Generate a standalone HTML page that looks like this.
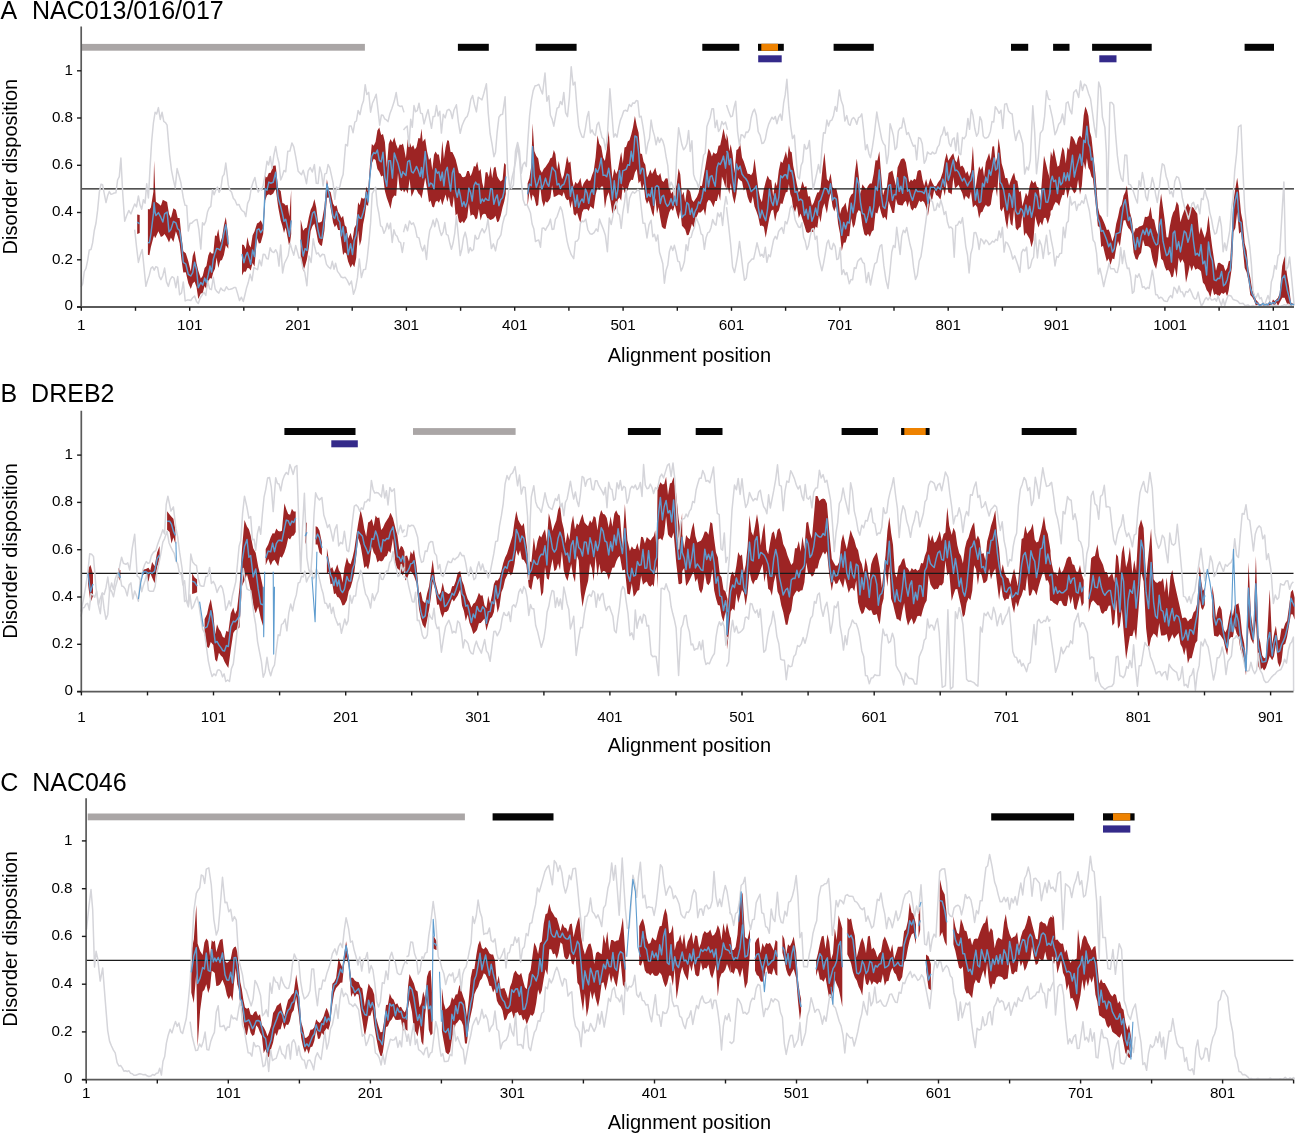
<!DOCTYPE html>
<html><head><meta charset="utf-8"><style>
html,body{margin:0;padding:0;background:#fff;width:1295px;height:1134px;overflow:hidden}
svg{display:block;transform:translateZ(0)}
</style></head><body>
<svg width="1295" height="1134" viewBox="0 0 1295 1134" font-family='"Liberation Sans", sans-serif' fill="#000">
<polygon points="137.2,214.4 139.7,215.0 139.7,233.0 137.2,233.9" fill="#9d2424"/>
<polygon points="147.9,209.0 149.4,209.4 150.9,207.4 153.4,191.7 154.1,160.7 155.1,187.8 155.9,201.7 158.4,203.6 160.9,205.7 162.8,199.8 164.6,200.8 167.1,201.9 169.0,214.1 170.9,218.2 173.4,208.3 175.9,210.1 177.7,217.9 179.6,218.0 181.5,236.6 183.3,251.3 185.8,253.2 188.3,261.3 190.8,271.4 192.7,255.9 194.6,250.4 196.5,263.2 198.3,270.8 200.8,278.4 202.7,276.0 204.6,267.9 206.4,265.9 208.3,255.5 210.0,251.6 211.6,253.6 213.3,253.4 215.0,235.3 216.6,236.2 218.3,228.9 220.2,242.8 222.0,237.4 223.9,225.6 225.8,217.0 228.3,236.5 228.3,248.7 225.8,245.2 223.9,255.1 222.0,260.1 220.2,260.7 218.3,268.1 216.6,257.6 215.0,268.8 213.3,272.3 211.6,278.7 210.0,278.1 208.3,281.4 206.4,289.2 204.6,286.1 202.7,293.0 200.8,293.5 198.3,299.0 196.5,286.9 194.6,281.4 192.7,283.6 190.8,288.9 188.3,283.3 185.8,272.3 183.3,272.4 181.5,259.8 179.6,243.3 177.7,236.2 175.9,231.3 173.4,241.9 170.9,237.4 169.0,242.5 167.1,238.2 164.6,234.0 162.8,235.9 160.9,237.1 158.4,231.2 155.9,236.7 155.1,238.3 154.1,235.6 153.4,237.5 150.9,247.0 149.4,255.3 147.9,254.7" fill="#9d2424"/>
<polygon points="242.0,244.4 243.9,245.1 245.8,249.3 247.4,236.9 249.1,244.8 250.7,247.5 252.6,235.3 254.5,231.6 257.0,223.5 258.9,222.4 260.7,220.2 263.2,225.4 265.2,176.2 267.0,177.5 268.8,173.0 270.7,172.7 273.2,165.7 275.7,165.5 278.2,188.8 280.7,190.9 282.4,202.9 284.0,203.5 285.7,205.4 287.6,204.7 289.4,216.7 291.2,189.7 291.2,233.9 289.4,247.7 287.6,237.5 285.7,227.5 284.0,232.9 282.4,225.9 280.7,220.5 278.2,207.3 275.7,188.5 273.2,193.4 270.7,195.2 268.8,194.2 267.0,195.3 265.2,200.6 263.2,234.0 260.7,243.1 258.9,243.6 257.0,237.9 254.5,266.6 252.6,263.0 250.7,270.5 249.1,268.3 247.4,267.9 245.8,271.7 243.9,271.4 242.0,275.4" fill="#9d2424"/>
<polygon points="300.7,219.5 303.2,230.7 305.0,228.2 306.9,227.5 308.8,217.5 310.7,209.7 312.5,206.0 314.4,199.0 316.3,207.8 318.1,222.4 320.0,222.6 321.9,221.2 324.4,206.8 326.9,179.2 328.8,190.5 330.6,192.1 333.1,203.8 334.8,206.6 336.5,205.3 338.1,211.8 339.8,214.2 341.4,217.9 343.1,215.7 344.8,225.2 346.4,226.9 348.1,238.7 350.6,232.7 352.5,240.2 354.3,228.1 356.2,224.5 358.1,202.3 359.7,205.3 361.4,197.6 363.1,198.8 364.7,198.2 366.4,186.5 368.1,191.4 369.9,165.5 371.8,143.9 373.7,145.8 375.6,141.7 377.4,130.4 379.3,127.5 381.2,135.1 383.0,134.1 384.9,141.9 386.8,167.8 388.7,144.0 390.5,139.0 392.4,142.6 394.3,137.2 396.2,144.6 398.0,148.9 399.7,144.6 401.4,144.9 403.0,143.5 403.0,189.2 401.4,191.3 399.7,189.2 398.0,173.1 396.2,196.1 394.3,195.6 392.4,198.6 390.5,208.9 388.7,203.2 386.8,198.0 384.9,191.1 383.0,175.5 381.2,176.5 379.3,171.7 377.4,169.1 375.6,160.1 373.7,158.7 371.8,163.4 369.9,180.0 368.1,206.0 366.4,204.4 364.7,216.4 363.1,224.3 361.4,239.9 359.7,246.1 358.1,230.4 356.2,258.1 354.3,267.2 352.5,264.1 350.6,267.8 348.1,261.5 346.4,253.7 344.8,252.2 343.1,254.9 341.4,242.3 339.8,229.9 338.1,229.9 336.5,224.4 334.8,227.2 333.1,222.7 330.6,208.1 328.8,197.6 326.9,197.7 324.4,230.8 321.9,246.1 320.0,245.1 318.1,242.1 316.3,232.1 314.4,223.4 312.5,226.1 310.7,231.1 308.8,248.0 306.9,259.4 305.0,266.2 303.2,271.4 300.7,255.5" fill="#9d2424"/>
<polygon points="403.0,143.8 404.0,148.3 405.9,158.3 407.7,139.5 409.6,141.6 411.5,147.4 413.2,144.9 414.8,149.6 416.5,147.1 418.4,137.9 420.2,138.5 421.5,128.4 422.7,141.8 425.2,138.5 427.1,151.5 429.0,160.0 430.6,157.4 432.3,169.9 434.0,154.7 435.6,151.4 437.3,154.6 438.9,154.4 440.6,164.8 442.3,140.7 443.9,159.1 445.6,147.4 447.3,140.2 448.9,140.8 450.6,151.9 452.3,152.0 453.9,155.2 455.6,159.3 457.3,165.9 458.9,173.0 460.6,173.8 462.2,176.9 463.9,177.3 465.6,176.3 467.2,170.9 468.9,171.1 470.6,176.2 472.2,172.2 473.9,166.0 475.6,166.8 477.2,161.4 478.9,171.2 480.6,169.1 482.2,182.5 483.9,189.1 485.5,172.4 487.2,172.0 488.9,177.2 490.5,166.3 492.2,178.2 493.9,167.7 495.5,166.7 497.2,176.2 498.9,179.2 500.7,181.6 502.6,179.6 504.2,163.0 505.8,164.7 505.8,194.0 504.2,201.8 502.6,207.2 500.7,215.8 498.9,221.2 497.2,222.3 495.5,215.7 493.9,218.2 492.2,219.2 490.5,219.9 488.9,218.9 487.2,218.0 485.5,213.9 483.9,213.8 482.2,214.9 480.6,220.4 478.9,208.8 477.2,218.2 475.6,219.4 473.9,215.2 472.2,214.4 470.6,216.0 468.9,203.3 467.2,217.4 465.6,220.3 463.9,223.2 462.2,221.0 460.6,223.3 458.9,221.8 457.3,213.6 455.6,215.6 453.9,196.1 452.3,207.8 450.6,205.5 448.9,196.6 447.3,201.9 445.6,194.5 443.9,200.1 442.3,205.3 440.6,198.8 438.9,202.8 437.3,200.8 435.6,201.7 434.0,207.5 432.3,206.7 430.6,200.5 429.0,202.6 427.1,188.5 425.2,177.8 422.7,192.4 421.5,198.4 420.2,195.2 418.4,193.5 416.5,189.7 414.8,188.7 413.2,192.9 411.5,196.7 409.6,179.1 407.7,193.7 405.9,189.5 404.0,192.4 403.0,189.6" fill="#9d2424"/>
<polygon points="527.6,183.4 529.4,178.3 531.3,165.9 532.6,123.3 534.3,151.1 536.3,156.1 538.2,158.5 540.0,169.5 541.9,172.7 543.8,168.8 545.5,167.1 547.1,164.4 548.8,162.0 550.4,158.3 552.1,157.5 553.8,150.1 555.4,154.1 557.1,169.4 558.8,161.1 560.4,171.7 562.1,179.3 563.8,175.3 565.4,166.6 567.1,156.0 568.8,162.9 570.4,161.4 572.1,179.2 573.7,186.9 575.4,181.7 577.1,183.9 578.7,182.0 580.4,177.8 582.1,187.2 583.7,183.2 585.4,180.8 587.1,178.5 588.7,180.9 590.4,180.4 592.1,175.0 593.7,170.9 595.6,157.3 597.5,135.2 599.3,143.8 601.2,146.5 603.1,157.4 604.9,160.9 606.8,149.6 608.7,130.7 610.6,158.1 612.4,178.9 614.3,168.7 616.2,174.0 617.8,170.6 619.5,161.1 621.2,152.0 622.8,163.5 624.5,147.4 626.2,146.7 627.8,141.6 629.5,140.2 631.2,134.7 633.0,127.3 634.9,115.9 636.8,125.9 638.6,132.7 640.3,153.5 642.0,154.1 643.6,161.8 645.3,164.8 647.0,177.5 648.6,174.7 650.3,169.5 652.0,174.0 653.6,171.3 655.3,167.5 657.0,174.8 658.6,175.7 660.3,173.1 661.9,180.4 663.6,182.1 665.5,178.5 667.4,178.2 669.2,184.8 671.1,193.7 673.0,191.2 674.8,190.7 676.7,184.3 678.6,168.3 680.3,174.5 681.9,195.6 683.6,191.7 685.2,202.6 686.9,189.3 688.6,189.4 690.2,191.8 691.9,199.8 693.6,201.9 695.2,199.5 696.9,197.0 698.6,192.8 700.2,185.8 701.9,186.1 703.6,176.5 705.2,167.8 706.9,157.3 708.5,148.5 710.2,151.5 711.9,156.6 713.5,152.2 715.2,154.0 716.9,153.0 718.5,145.8 720.2,145.2 721.9,136.9 723.5,128.6 725.5,138.3 727.5,141.7 727.5,167.6 725.5,188.1 723.5,180.5 721.9,176.4 720.2,200.7 718.5,193.8 716.9,200.9 715.2,200.9 713.5,207.2 711.9,203.6 710.2,200.5 708.5,199.9 706.9,203.0 705.2,215.8 703.6,209.1 701.9,211.3 700.2,212.7 698.6,212.2 696.9,216.3 695.2,221.0 693.6,227.5 691.9,223.7 690.2,230.2 688.6,234.9 686.9,235.3 685.2,229.4 683.6,227.5 681.9,225.7 680.3,209.7 678.6,219.6 676.7,213.3 674.8,204.7 673.0,210.9 671.1,208.6 669.2,212.6 667.4,219.4 665.5,229.0 663.6,228.4 661.9,226.7 660.3,217.9 658.6,207.1 657.0,213.8 655.3,198.0 653.6,216.7 652.0,212.9 650.3,206.0 648.6,200.4 647.0,203.9 645.3,198.9 643.6,183.7 642.0,190.6 640.3,180.8 638.6,183.5 636.8,169.1 634.9,172.4 633.0,180.0 631.2,179.8 629.5,182.8 627.8,188.6 626.2,194.4 624.5,192.5 622.8,185.7 621.2,200.8 619.5,197.4 617.8,199.8 616.2,208.2 614.3,211.0 612.4,213.7 610.6,201.8 608.7,192.3 606.8,196.9 604.9,208.4 603.1,186.6 601.2,186.4 599.3,190.0 597.5,187.2 595.6,194.9 593.7,208.9 592.1,207.7 590.4,206.2 588.7,211.0 587.1,209.1 585.4,209.3 583.7,209.2 582.1,212.6 580.4,222.9 578.7,218.3 577.1,212.7 575.4,215.7 573.7,213.9 572.1,200.4 570.4,208.2 568.8,199.6 567.1,200.2 565.4,197.7 563.8,191.9 562.1,196.5 560.4,195.1 558.8,194.6 557.1,195.6 555.4,196.4 553.8,197.0 552.1,185.3 550.4,197.9 548.8,200.8 547.1,202.7 545.5,201.3 543.8,206.9 541.9,200.5 540.0,184.2 538.2,205.1 536.3,206.2 534.3,197.2 532.6,194.5 531.3,201.2 529.4,191.4 527.6,206.5" fill="#9d2424"/>
<polygon points="726.5,133.2 727.9,138.6 729.3,151.2 730.7,144.2 732.6,154.7 734.5,173.2 736.4,150.0 738.2,149.1 740.1,142.7 742.0,157.4 743.8,161.6 745.7,167.6 747.6,173.8 749.5,173.9 751.1,175.2 752.8,172.3 754.5,158.4 756.3,172.7 758.2,188.2 760.1,198.3 761.9,202.2 763.8,189.3 765.7,181.8 767.6,175.6 769.4,179.3 771.3,180.3 773.2,196.6 775.1,181.8 776.9,186.3 778.8,170.6 780.7,161.2 782.5,163.0 784.4,156.8 785.9,151.2 787.4,158.7 788.9,145.3 790.3,151.4 791.7,152.2 793.2,165.7 795.0,174.8 796.9,184.4 798.8,192.7 800.6,188.7 802.5,181.3 804.4,187.2 806.3,186.1 808.1,196.6 810.0,196.2 811.9,205.7 813.7,202.8 815.6,196.9 817.3,192.5 818.9,192.2 820.6,187.7 822.5,168.3 824.4,152.6 826.9,179.0 828.7,181.3 830.6,173.3 832.5,187.2 834.3,188.9 836.2,188.2 838.1,196.5 840.0,214.1 841.8,208.0 843.7,206.0 845.6,202.5 847.4,213.0 849.3,198.8 851.2,194.7 853.1,193.2 854.9,172.9 856.8,158.4 858.7,175.5 860.5,194.1 862.4,184.2 864.3,186.9 866.2,189.7 868.0,186.0 869.9,183.4 871.8,183.4 873.7,173.7 875.5,160.2 877.4,160.4 879.3,151.3 881.1,173.4 883.0,195.5 884.9,188.8 886.8,187.4 888.6,173.0 890.5,171.7 892.4,170.6 894.2,178.6 895.9,185.4 897.6,167.4 899.2,163.7 900.9,159.6 902.6,158.5 904.2,158.5 905.9,162.6 907.6,173.0 909.2,182.5 910.9,179.5 912.6,181.1 914.2,178.8 915.9,179.8 917.5,171.2 919.2,170.0 920.9,170.5 922.5,179.4 924.2,185.9 926.1,179.1 927.9,186.3 930.4,178.1 932.3,182.8 934.2,186.0 936.1,186.3 937.9,182.7 940.4,179.3 942.9,171.7 944.8,160.2 946.7,153.0 948.3,160.8 950.0,157.9 951.7,155.2 953.3,153.2 955.0,160.1 956.7,162.4 958.5,154.6 960.4,166.8 962.3,165.6 964.1,168.2 965.8,173.7 967.5,171.0 969.1,176.8 971.0,171.6 972.9,146.1 975.4,189.6 977.2,176.7 979.1,166.3 980.8,170.0 982.5,166.1 984.1,176.7 985.8,162.3 987.4,158.0 989.1,153.1 990.8,160.5 992.4,146.5 994.1,146.2 995.6,162.5 997.1,157.3 998.6,138.2 1000.1,148.6 1001.6,163.3 1003.5,169.9 1005.3,178.3 1007.2,178.1 1009.1,185.4 1010.7,180.4 1012.4,176.1 1014.1,172.6 1015.7,180.0 1017.4,180.9 1019.1,191.9 1020.7,191.1 1022.4,206.3 1024.1,200.1 1025.9,192.8 1027.8,196.4 1029.7,185.8 1031.5,180.1 1033.4,183.2 1035.3,180.9 1037.0,186.8 1038.6,187.6 1040.3,200.9 1042.2,177.2 1044.0,155.8 1045.9,163.2 1047.8,171.6 1050.5,180.9 1050.5,214.7 1047.8,224.1 1045.9,217.8 1044.0,218.1 1042.2,225.6 1040.3,221.8 1038.6,227.5 1037.0,222.9 1035.3,216.1 1033.4,240.2 1031.5,247.2 1029.7,238.9 1027.8,235.7 1025.9,232.5 1024.1,236.0 1022.4,214.1 1020.7,227.0 1019.1,227.8 1017.4,230.5 1015.7,228.1 1014.1,208.2 1012.4,226.1 1010.7,224.1 1009.1,212.7 1007.2,229.2 1005.3,219.7 1003.5,206.7 1001.6,211.5 1000.1,208.8 998.6,171.2 997.1,196.9 995.6,187.3 994.1,187.4 992.4,193.6 990.8,204.6 989.1,206.4 987.4,206.4 985.8,204.7 984.1,207.6 982.5,211.7 980.8,212.5 979.1,218.5 977.2,207.3 975.4,204.8 972.9,207.4 971.0,191.4 969.1,199.2 967.5,197.6 965.8,195.8 964.1,200.4 962.3,193.3 960.4,189.2 958.5,184.8 956.7,187.1 955.0,188.3 953.3,177.0 951.7,194.4 950.0,193.0 948.3,192.4 946.7,181.0 944.8,195.9 942.9,186.9 940.4,199.8 937.9,196.0 936.1,195.1 934.2,189.9 932.3,199.3 930.4,200.1 927.9,216.0 926.1,207.3 924.2,202.2 922.5,200.8 920.9,202.3 919.2,200.4 917.5,204.9 915.9,208.5 914.2,207.7 912.6,210.7 910.9,208.4 909.2,201.0 907.6,207.3 905.9,200.8 904.2,202.2 902.6,205.5 900.9,205.3 899.2,204.9 897.6,204.4 895.9,198.7 894.2,213.0 892.4,213.1 890.5,206.8 888.6,201.0 886.8,220.5 884.9,216.8 883.0,218.6 881.1,212.8 879.3,205.6 877.4,213.5 875.5,212.4 873.7,230.1 871.8,231.6 869.9,236.8 868.0,233.7 866.2,236.1 864.3,234.2 862.4,225.4 860.5,211.6 858.7,210.1 856.8,213.6 854.9,224.5 853.1,228.0 851.2,218.2 849.3,236.3 847.4,236.0 845.6,242.6 843.7,242.8 841.8,251.1 840.0,233.7 838.1,223.8 836.2,205.8 834.3,211.5 832.5,206.6 830.6,192.9 828.7,201.4 826.9,213.5 824.4,203.2 822.5,209.1 820.6,222.5 818.9,214.9 817.3,228.0 815.6,226.6 813.7,231.7 811.9,232.1 810.0,231.9 808.1,233.0 806.3,232.1 804.4,225.6 802.5,219.5 800.6,213.6 798.8,217.9 796.9,205.8 795.0,212.2 793.2,208.2 791.7,197.7 790.3,194.0 788.9,184.1 787.4,192.0 785.9,192.3 784.4,197.0 782.5,204.0 780.7,203.2 778.8,210.6 776.9,213.0 775.1,221.4 773.2,209.5 771.3,210.8 769.4,217.8 767.6,227.3 765.7,237.8 763.8,226.8 761.9,225.4 760.1,226.1 758.2,216.6 756.3,211.0 754.5,206.6 752.8,196.2 751.1,203.6 749.5,202.2 747.6,197.1 745.7,188.0 743.8,190.6 742.0,181.4 740.1,180.2 738.2,177.9 736.4,194.1 734.5,204.0 732.6,196.2 730.7,183.1 729.3,194.0 727.9,187.2 726.5,189.9" fill="#9d2424"/>
<polygon points="1049.5,167.5 1050.9,151.3 1052.3,156.7 1053.7,147.9 1055.6,157.4 1057.5,166.8 1059.2,165.4 1060.8,156.1 1062.5,147.1 1064.1,150.5 1065.8,163.6 1067.5,147.2 1069.1,150.1 1070.8,135.9 1072.5,136.7 1074.3,140.1 1076.2,145.3 1078.1,138.1 1080.0,135.6 1081.8,138.1 1083.7,115.4 1085.3,106.6 1086.9,110.2 1088.4,116.1 1089.9,131.8 1091.4,136.9 1092.9,150.8 1095.4,174.0 1097.9,207.3 1099.6,214.6 1101.2,216.2 1103.0,220.1 1104.9,224.6 1106.8,229.9 1108.7,229.5 1110.5,234.1 1112.4,241.4 1114.3,235.5 1116.2,223.8 1118.0,217.1 1119.9,207.8 1121.8,204.6 1123.6,195.4 1125.3,192.1 1126.9,185.4 1128.4,199.6 1129.9,212.3 1131.8,219.0 1133.6,233.7 1135.5,228.3 1137.4,228.3 1139.2,226.6 1141.1,226.0 1143.0,225.1 1144.9,216.8 1146.7,217.0 1148.6,216.1 1150.5,206.6 1152.3,218.5 1154.2,219.7 1156.1,229.3 1157.8,234.5 1159.4,207.6 1161.1,193.4 1163.0,207.5 1164.8,220.8 1166.5,237.3 1168.2,237.5 1169.8,226.6 1171.5,217.7 1173.1,212.6 1174.8,210.1 1176.7,201.5 1178.6,205.3 1180.4,222.3 1182.3,215.8 1184.2,210.6 1186.0,206.8 1187.9,203.2 1189.8,207.6 1191.7,206.7 1193.5,207.7 1195.4,210.9 1197.3,213.7 1199.2,234.5 1201.0,226.7 1202.9,232.8 1204.8,238.1 1206.6,231.0 1208.5,215.2 1210.4,233.1 1212.3,247.8 1214.1,259.7 1216.0,270.7 1217.9,262.9 1219.7,262.8 1221.6,264.3 1223.5,265.2 1225.4,271.0 1227.2,267.9 1228.7,261.2 1230.2,260.5 1231.9,231.0 1233.5,200.8 1235.3,188.7 1237.2,177.8 1239.1,191.9 1241.0,212.7 1242.8,221.8 1244.7,243.3 1246.6,250.7 1248.5,269.6 1250.3,277.5 1252.2,289.7 1254.1,293.5 1255.9,299.7 1257.8,301.7 1259.7,304.3 1261.3,304.2 1263.0,302.2 1264.7,304.1 1266.3,303.8 1268.0,303.7 1269.7,300.9 1271.3,303.4 1273.0,299.6 1274.7,301.1 1276.3,299.5 1278.0,297.7 1279.7,293.2 1282.2,265.9 1284.6,256.0 1287.1,275.5 1289.0,286.2 1290.9,302.6 1292.5,303.5 1294.1,303.9 1294.1,305.8 1292.5,305.4 1290.9,306.2 1289.0,303.5 1287.1,303.9 1284.6,297.8 1282.2,297.8 1279.7,302.4 1278.0,305.9 1276.3,302.6 1274.7,306.2 1273.0,303.9 1271.3,304.6 1269.7,306.2 1268.0,306.2 1266.3,305.5 1264.7,305.5 1263.0,306.2 1261.3,305.5 1259.7,306.2 1257.8,304.4 1255.9,305.8 1254.1,300.5 1252.2,297.1 1250.3,295.0 1248.5,280.9 1246.6,272.2 1244.7,268.0 1242.8,248.7 1241.0,231.7 1239.1,233.7 1237.2,212.0 1235.3,228.1 1233.5,231.9 1231.9,267.2 1230.2,279.2 1228.7,290.2 1227.2,296.6 1225.4,292.0 1223.5,294.0 1221.6,292.8 1219.7,295.8 1217.9,296.0 1216.0,293.7 1214.1,295.0 1212.3,288.0 1210.4,297.8 1208.5,292.5 1206.6,289.9 1204.8,284.8 1202.9,282.6 1201.0,271.2 1199.2,269.6 1197.3,268.6 1195.4,269.8 1193.5,265.2 1191.7,271.3 1189.8,265.1 1187.9,274.6 1186.0,282.7 1184.2,263.2 1182.3,259.2 1180.4,262.9 1178.6,257.7 1176.7,278.0 1174.8,267.4 1173.1,276.6 1171.5,277.6 1169.8,272.0 1168.2,269.7 1166.5,270.7 1164.8,267.0 1163.0,260.5 1161.1,258.7 1159.4,243.7 1157.8,260.2 1156.1,268.9 1154.2,264.8 1152.3,258.1 1150.5,248.4 1148.6,246.4 1146.7,246.1 1144.9,246.1 1143.0,239.8 1141.1,252.8 1139.2,255.0 1137.4,260.1 1135.5,258.7 1133.6,252.6 1131.8,233.8 1129.9,229.5 1128.4,227.9 1126.9,225.0 1125.3,220.1 1123.6,220.5 1121.8,231.2 1119.9,246.6 1118.0,240.9 1116.2,247.9 1114.3,259.2 1112.4,258.4 1110.5,264.9 1108.7,258.5 1106.8,261.5 1104.9,253.9 1103.0,245.8 1101.2,247.0 1099.6,227.1 1097.9,226.2 1095.4,202.1 1092.9,178.5 1091.4,176.6 1089.9,170.3 1088.4,167.7 1086.9,158.3 1085.3,169.8 1083.7,161.8 1081.8,186.0 1080.0,194.7 1078.1,179.6 1076.2,191.2 1074.3,193.6 1072.5,190.2 1070.8,186.3 1069.1,191.2 1067.5,198.7 1065.8,187.0 1064.1,195.3 1062.5,194.7 1060.8,199.8 1059.2,205.9 1057.5,203.3 1055.6,202.0 1053.7,205.7 1052.3,210.0 1050.9,210.5 1049.5,212.7" fill="#9d2424"/>
<polygon points="88.0,568.8 90.5,565.0 93.0,574.2 93.0,595.9 90.5,602.6 88.0,583.8" fill="#9d2424"/>
<polygon points="118.4,568.1 120.4,570.5 120.4,581.5 118.4,577.2" fill="#9d2424"/>
<polygon points="142.2,570.3 144.0,569.5 145.9,569.1 148.4,567.7 150.3,570.6 152.1,561.9 154.6,566.2 157.1,552.4 159.6,545.9 159.6,559.8 157.1,566.9 154.6,583.3 152.1,577.6 150.3,573.2 148.4,582.1 145.9,573.6 144.0,574.1 142.2,576.1" fill="#9d2424"/>
<polygon points="167.1,511.2 169.6,514.4 171.5,516.7 173.4,518.7 175.4,530.0 175.4,544.0 173.4,537.6 171.5,543.4 169.6,532.0 167.1,529.8" fill="#9d2424"/>
<polygon points="192.1,573.3 194.6,577.5 197.1,579.6 197.1,592.2 194.6,593.2 192.1,594.1" fill="#9d2424"/>
<polygon points="204.6,618.9 207.1,613.9 208.9,605.4 210.8,599.1 213.3,613.8 215.2,634.3 217.0,624.3 218.9,628.9 220.8,631.7 222.7,636.8 224.5,638.1 226.4,630.8 228.3,631.9 230.8,613.3 233.3,607.4 235.1,613.9 237.0,610.0 239.5,587.4 242.0,548.9 244.5,520.0 247.0,526.4 248.9,529.3 250.7,535.4 253.2,548.2 255.7,552.8 258.2,566.8 260.7,576.7 263.2,588.7 263.2,626.4 260.7,618.3 258.2,606.6 255.7,613.3 253.2,605.5 250.7,590.7 248.9,581.9 247.0,574.6 244.5,580.4 242.0,585.9 239.5,627.5 237.0,629.6 235.1,630.3 233.3,632.9 230.8,649.4 228.3,667.9 226.4,665.1 224.5,661.8 222.7,657.3 220.8,655.5 218.9,652.7 217.0,661.7 215.2,659.8 213.3,644.9 210.8,642.1 208.9,647.9 207.1,647.1 204.6,634.5" fill="#9d2424"/>
<polygon points="265.7,549.0 268.2,544.6 270.7,537.3 272.6,533.3 274.5,533.4 276.3,528.6 278.2,531.1 280.1,531.5 281.9,530.8 284.4,503.3 286.3,509.3 288.2,514.0 290.1,514.8 291.9,508.8 293.8,511.5 295.7,511.4 295.7,532.1 293.8,535.4 291.9,536.1 290.1,539.4 288.2,538.0 286.3,546.4 284.4,552.6 281.9,557.7 280.1,556.6 278.2,566.2 276.3,563.0 274.5,559.7 272.6,561.2 270.7,565.4 268.2,558.7 265.7,565.3" fill="#9d2424"/>
<polygon points="305.2,523.3 306.9,522.6 306.9,546.6 305.2,541.9" fill="#9d2424"/>
<polygon points="315.6,526.2 317.5,527.0 319.4,530.6 321.9,542.6 321.9,555.3 319.4,552.5 317.5,544.6 315.6,544.5" fill="#9d2424"/>
<polygon points="326.9,548.1 328.8,559.7 330.6,568.9 332.3,567.1 334.0,572.6 335.6,568.9 337.3,564.3 338.9,570.3 340.6,572.8 342.5,582.8 344.4,568.0 346.9,557.3 348.7,562.7 350.6,564.2 352.5,557.7 354.3,549.8 356.2,536.2 358.1,523.9 360.6,510.1 362.5,517.9 364.3,528.8 366.2,536.5 368.1,522.5 369.9,521.4 371.8,518.9 373.7,526.3 375.6,515.5 377.4,518.1 379.3,517.6 381.2,530.1 383.0,527.7 384.9,523.3 386.8,520.2 388.7,517.2 390.5,512.8 393.0,518.2 395.5,528.5 397.4,535.5 399.3,550.0 401.0,545.7 402.8,547.2 404.5,551.7 404.5,570.9 402.8,575.4 401.0,572.7 399.3,569.9 397.4,568.5 395.5,564.9 393.0,538.2 390.5,552.9 388.7,550.7 386.8,556.1 384.9,556.8 383.0,560.6 381.2,561.4 379.3,560.5 377.4,562.4 375.6,555.3 373.7,552.6 371.8,546.3 369.9,561.8 368.1,569.4 366.2,566.0 364.3,568.0 362.5,556.4 360.6,545.4 358.1,538.1 356.2,556.7 354.3,572.6 352.5,581.1 350.6,587.6 348.7,591.3 346.9,600.2 344.4,605.1 342.5,605.5 340.6,600.3 338.9,597.4 337.3,596.9 335.6,593.3 334.0,594.3 332.3,583.5 330.6,584.3 328.8,571.5 326.9,574.3" fill="#9d2424"/>
<polygon points="405.2,556.1 407.1,555.6 409.0,561.4 410.7,551.3 412.3,554.5 414.0,549.4 416.5,566.3 419.0,593.2 420.8,591.5 422.7,600.7 425.2,603.3 427.1,593.4 429.0,586.5 430.8,574.1 432.7,559.8 435.2,581.2 437.1,588.7 438.9,595.2 440.8,592.3 442.7,582.6 444.6,591.5 446.4,592.5 448.3,594.1 450.2,592.9 452.1,586.2 453.9,585.9 455.8,580.9 457.7,573.0 460.2,571.0 462.0,580.6 463.9,585.2 465.8,593.3 467.7,599.0 469.5,602.1 471.4,607.6 473.3,603.8 475.1,602.4 477.0,598.3 478.9,592.8 480.8,595.7 482.6,595.3 484.5,605.3 486.4,608.3 488.2,595.7 490.1,603.7 492.0,595.3 493.9,583.9 495.7,580.2 497.6,580.5 499.5,577.7 501.4,570.7 503.2,563.2 505.1,557.5 507.0,553.7 508.8,548.0 510.7,542.1 512.6,535.5 514.5,521.6 516.3,511.1 518.2,519.8 520.1,523.5 521.9,526.3 523.8,523.0 526.3,542.5 528.8,560.0 531.3,562.4 533.8,537.5 535.7,550.9 537.5,541.3 539.4,535.2 541.3,537.4 543.2,532.8 545.0,529.3 546.9,541.7 548.8,513.2 550.7,520.6 552.5,530.9 554.4,525.2 556.3,520.4 558.1,509.9 560.0,505.1 561.9,521.2 563.8,529.1 565.6,543.5 567.5,532.3 569.4,540.1 571.2,524.6 573.1,515.6 575.0,529.4 576.9,523.2 578.7,525.3 580.6,519.2 582.5,514.0 584.4,522.3 586.2,524.4 588.1,526.3 590.0,520.2 591.8,522.9 593.7,515.9 595.6,517.4 597.5,530.2 599.3,516.5 601.2,510.0 603.1,514.0 604.9,514.5 606.8,518.0 608.7,527.7 610.6,516.3 612.4,526.7 614.3,513.7 616.2,510.3 618.1,514.6 619.9,515.7 622.4,547.3 624.9,504.0 627.4,540.1 629.9,551.0 631.8,546.2 633.7,549.1 635.5,549.1 637.4,543.1 639.3,550.7 641.1,536.7 643.0,537.3 644.9,543.5 646.8,537.1 648.6,538.8 650.5,540.6 652.4,537.4 653.8,535.9 655.2,530.2 656.6,551.5 657.6,485.9 658.4,487.1 660.4,482.2 662.4,484.5 664.2,483.9 666.1,476.8 668.0,495.1 669.9,483.6 671.7,482.8 673.6,477.1 676.1,493.1 678.6,518.6 680.3,531.2 682.1,512.9 682.3,534.3 684.2,548.4 686.1,535.0 687.9,537.7 689.8,539.3 691.7,529.1 693.6,522.2 695.4,536.1 697.3,542.5 699.2,541.4 701.1,540.6 702.9,537.1 704.8,531.5 706.7,531.8 708.5,534.8 710.4,521.9 712.3,523.5 714.2,539.2 716.0,552.4 717.9,557.6 719.8,574.4 721.6,577.2 723.5,589.5 725.5,591.4 727.5,599.0 727.5,628.1 725.5,611.8 723.5,621.9 721.6,616.1 719.8,605.4 717.9,605.0 716.0,598.4 714.2,590.4 712.3,568.9 710.4,581.8 708.5,585.2 706.7,583.5 704.8,573.0 702.9,588.8 701.1,593.4 699.2,589.7 697.3,578.2 695.4,582.1 693.6,571.8 691.7,575.6 689.8,579.7 687.9,583.6 686.1,586.1 684.2,568.0 682.3,571.1 682.1,582.8 680.3,584.3 678.6,583.9 676.1,561.6 673.6,532.4 671.7,538.3 669.9,536.9 668.0,534.6 666.1,516.3 664.2,533.9 662.4,540.6 660.4,538.2 658.4,539.6 657.6,588.4 656.6,566.1 655.2,572.3 653.8,586.7 652.4,584.2 650.5,586.7 648.6,585.5 646.8,581.6 644.9,582.7 643.0,584.8 641.1,575.4 639.3,590.0 637.4,590.7 635.5,594.5 633.7,596.7 631.8,583.3 629.9,594.6 627.4,593.7 624.9,569.6 622.4,570.5 619.9,556.1 618.1,557.4 616.2,561.5 614.3,567.6 612.4,567.8 610.6,573.8 608.7,579.9 606.8,573.6 604.9,571.3 603.1,571.1 601.2,574.2 599.3,563.7 597.5,576.4 595.6,556.0 593.7,580.9 591.8,567.9 590.0,563.3 588.1,581.1 586.2,587.9 584.4,595.9 582.5,607.0 580.6,591.0 578.7,560.3 576.9,555.6 575.0,582.2 573.1,576.1 571.2,564.0 569.4,572.4 567.5,580.9 565.6,577.1 563.8,570.6 561.9,551.6 560.0,569.9 558.1,563.3 556.3,569.4 554.4,571.2 552.5,559.0 550.7,567.9 548.8,579.8 546.9,578.6 545.0,567.0 543.2,592.3 541.3,596.3 539.4,577.5 537.5,580.0 535.7,575.9 533.8,576.2 531.3,590.0 528.8,586.7 526.3,564.5 523.8,559.9 521.9,559.2 520.1,550.3 518.2,556.0 516.3,550.0 514.5,563.7 512.6,573.1 510.7,575.4 508.8,571.3 507.0,575.6 505.1,579.6 503.2,588.0 501.4,592.2 499.5,606.2 497.6,612.8 495.7,598.4 493.9,611.9 492.0,617.0 490.1,618.5 488.2,624.2 486.4,630.8 484.5,618.4 482.6,620.8 480.8,623.0 478.9,623.3 477.0,629.9 475.1,632.2 473.3,634.0 471.4,627.7 469.5,622.9 467.7,614.5 465.8,620.9 463.9,610.9 462.0,605.5 460.2,589.6 457.7,595.6 455.8,598.3 453.9,601.6 452.1,599.1 450.2,604.7 448.3,610.3 446.4,611.9 444.6,612.0 442.7,617.7 440.8,613.2 438.9,604.4 437.1,604.7 435.2,589.6 432.7,581.6 430.8,598.3 429.0,610.0 427.1,620.2 425.2,628.4 422.7,624.8 420.8,617.9 419.0,609.1 416.5,583.2 414.0,575.9 412.3,573.0 410.7,571.2 409.0,573.2 407.1,578.4 405.2,580.5" fill="#9d2424"/>
<polygon points="726.5,599.3 727.0,614.9 728.9,589.8 730.7,576.1 732.6,571.5 734.5,576.6 736.4,565.6 738.2,552.1 740.1,556.1 742.0,554.5 743.8,573.6 745.7,564.9 747.6,546.6 749.5,515.3 751.3,531.7 753.2,535.7 755.1,525.6 757.0,514.0 758.8,525.3 760.7,545.5 762.6,531.9 764.4,523.0 766.3,549.6 768.2,554.3 770.1,542.7 771.9,533.2 773.8,531.2 775.7,539.7 777.5,530.1 779.4,528.0 781.3,533.8 783.2,544.0 785.7,549.2 787.5,555.5 789.4,560.3 791.3,565.1 793.2,562.5 795.0,548.3 796.9,548.2 798.8,541.1 800.6,551.7 802.5,536.6 804.4,549.4 806.3,522.8 808.1,521.7 810.0,533.0 811.9,538.8 813.7,517.9 815.6,496.1 817.5,496.1 819.4,501.1 821.2,499.2 823.1,498.6 825.0,499.3 826.9,503.5 829.3,532.2 831.8,558.7 833.7,562.4 835.6,565.8 837.5,565.6 839.3,561.5 841.2,541.7 843.1,534.1 844.9,542.0 846.8,549.3 848.7,539.4 850.6,529.9 852.4,535.3 854.3,539.7 856.2,546.9 858.1,550.2 859.9,559.8 861.8,564.1 863.7,573.2 865.5,557.8 867.4,566.3 869.3,580.5 871.2,564.3 873.0,558.8 874.9,555.3 876.8,552.3 878.3,559.8 879.8,568.1 881.8,588.0 883.6,571.6 885.5,555.5 887.4,530.9 889.3,517.0 891.1,532.7 893.0,544.8 894.9,573.5 896.7,577.5 898.6,566.6 900.5,564.2 902.4,559.4 904.2,558.1 906.1,566.9 908.0,568.6 909.9,572.1 911.7,568.0 913.6,570.1 915.5,568.8 917.3,570.8 919.2,569.4 921.1,562.9 923.0,563.6 924.8,556.1 926.7,551.0 928.6,533.1 930.4,541.2 932.3,534.9 934.2,542.7 936.1,541.3 937.9,536.8 939.8,531.0 941.7,541.3 943.6,533.9 945.4,532.4 947.3,507.3 949.2,525.6 951.7,535.1 953.5,527.7 955.4,531.9 957.3,545.2 959.2,552.9 961.0,556.1 962.9,563.5 964.8,548.8 966.6,541.3 968.5,537.5 970.4,530.7 972.3,525.6 974.1,522.3 976.0,540.1 977.9,535.5 979.7,539.8 981.6,553.9 983.5,553.1 985.4,560.5 987.2,541.3 989.1,534.2 991.0,525.8 992.9,520.1 995.3,510.3 997.2,534.9 999.1,548.5 1001.0,572.1 1002.8,564.2 1004.7,573.6 1006.6,577.5 1008.5,578.3 1010.3,584.6 1012.2,576.2 1014.1,568.6 1015.9,577.0 1017.8,586.2 1019.7,564.5 1021.6,539.1 1023.4,538.1 1025.3,525.7 1027.2,533.8 1029.0,531.2 1030.9,529.0 1032.8,523.5 1034.7,539.4 1036.5,542.5 1038.4,541.5 1040.3,534.2 1042.2,525.7 1044.0,516.1 1045.9,529.1 1047.8,534.0 1050.5,550.7 1050.5,587.2 1047.8,580.3 1045.9,580.8 1044.0,572.1 1042.2,574.8 1040.3,580.8 1038.4,587.5 1036.5,595.4 1034.7,591.3 1032.8,589.2 1030.9,595.3 1029.0,595.8 1027.2,574.9 1025.3,591.0 1023.4,589.5 1021.6,595.5 1019.7,599.4 1017.8,607.0 1015.9,601.7 1014.1,612.9 1012.2,605.4 1010.3,593.1 1008.5,598.9 1006.6,598.7 1004.7,600.9 1002.8,596.7 1001.0,584.6 999.1,599.7 997.2,584.6 995.3,568.4 992.9,572.9 991.0,579.4 989.1,568.4 987.2,580.2 985.4,582.5 983.5,583.3 981.6,575.0 979.7,571.5 977.9,585.0 976.0,568.9 974.1,565.3 972.3,590.4 970.4,600.2 968.5,597.8 966.6,602.9 964.8,614.8 962.9,617.3 961.0,606.0 959.2,598.0 957.3,589.1 955.4,589.3 953.5,594.7 951.7,601.0 949.2,572.2 947.3,575.4 945.4,560.5 943.6,582.5 941.7,585.5 939.8,585.0 937.9,589.1 936.1,588.7 934.2,589.7 932.3,587.6 930.4,584.3 928.6,575.0 926.7,600.5 924.8,604.1 923.0,609.5 921.1,616.7 919.2,615.8 917.3,616.2 915.5,621.3 913.6,624.6 911.7,618.3 909.9,621.3 908.0,625.7 906.1,617.5 904.2,602.9 902.4,610.9 900.5,621.4 898.6,619.5 896.7,619.1 894.9,612.0 893.0,603.8 891.1,598.8 889.3,564.9 887.4,586.7 885.5,569.6 883.6,598.6 881.8,605.6 879.8,624.4 878.3,620.4 876.8,614.1 874.9,614.9 873.0,614.8 871.2,609.9 869.3,610.8 867.4,609.1 865.5,606.8 863.7,612.6 861.8,614.3 859.9,609.5 858.1,602.5 856.2,580.3 854.3,591.2 852.4,587.8 850.6,588.4 848.7,593.0 846.8,585.1 844.9,578.1 843.1,588.0 841.2,583.2 839.3,579.1 837.5,583.3 835.6,584.0 833.7,579.4 831.8,591.0 829.3,574.9 826.9,551.2 825.0,554.6 823.1,551.7 821.2,556.6 819.4,560.4 817.5,568.5 815.6,568.4 813.7,574.9 811.9,576.8 810.0,573.2 808.1,573.0 806.3,562.5 804.4,582.3 802.5,590.2 800.6,590.6 798.8,592.2 796.9,590.5 795.0,593.2 793.2,596.8 791.3,610.6 789.4,615.0 787.5,624.8 785.7,624.8 783.2,612.1 781.3,605.6 779.4,595.4 777.5,591.5 775.7,574.6 773.8,582.2 771.9,595.8 770.1,590.2 768.2,588.7 766.3,570.6 764.4,582.2 762.6,563.9 760.7,569.2 758.8,575.0 757.0,579.7 755.1,580.2 753.2,584.4 751.3,580.2 749.5,571.1 747.6,593.1 745.7,605.7 743.8,592.8 742.0,590.0 740.1,596.2 738.2,603.0 736.4,593.5 734.5,610.7 732.6,608.6 730.7,611.6 728.9,632.2 727.0,649.6 726.5,621.9" fill="#9d2424"/>
<polygon points="1049.5,542.9 1050.0,553.2 1051.9,564.2 1053.7,572.6 1055.6,572.4 1057.5,576.2 1059.4,566.3 1061.2,572.7 1063.1,570.6 1065.0,565.1 1066.8,558.7 1068.7,556.6 1070.6,557.0 1072.5,564.2 1074.3,565.1 1076.2,571.4 1078.1,572.0 1080.0,565.1 1081.8,574.6 1083.7,580.0 1083.7,602.9 1081.8,606.6 1080.0,595.4 1078.1,602.6 1076.2,610.2 1074.3,608.4 1072.5,596.3 1070.6,604.2 1068.7,594.7 1066.8,605.8 1065.0,606.2 1063.1,605.3 1061.2,600.8 1059.4,601.0 1057.5,605.5 1055.6,603.9 1053.7,603.1 1051.9,600.9 1050.0,600.5 1049.5,590.9" fill="#9d2424"/>
<polygon points="1088.7,591.0 1091.2,558.2 1093.1,556.5 1094.9,556.0 1097.4,544.2 1099.3,556.9 1101.2,561.0 1103.0,564.7 1104.9,571.9 1106.8,572.1 1108.7,577.8 1110.5,575.1 1112.4,573.3 1114.3,582.6 1116.2,554.0 1118.0,556.5 1119.9,574.9 1121.8,552.7 1123.6,545.3 1126.1,567.6 1128.0,560.4 1129.9,547.1 1132.4,574.6 1134.2,560.0 1136.1,570.9 1138.6,528.1 1141.1,519.6 1143.6,527.9 1146.1,578.6 1148.6,553.7 1151.1,528.7 1153.6,579.2 1155.5,582.1 1157.3,583.0 1159.2,581.2 1161.1,581.4 1163.0,577.9 1164.8,592.6 1166.7,577.5 1168.6,597.8 1170.4,576.5 1172.3,570.0 1174.2,581.6 1176.1,590.5 1178.6,601.6 1180.4,609.4 1182.3,618.2 1184.2,617.5 1186.0,617.7 1187.9,621.4 1189.8,619.2 1191.7,618.6 1193.5,612.6 1195.4,610.4 1197.3,603.1 1199.8,565.9 1201.3,581.7 1202.8,590.9 1204.8,587.9 1204.8,605.0 1202.8,610.0 1201.3,607.9 1199.8,598.9 1197.3,640.7 1195.4,643.3 1193.5,650.9 1191.7,658.2 1189.8,658.2 1187.9,663.5 1186.0,647.3 1184.2,655.2 1182.3,647.5 1180.4,643.9 1178.6,633.0 1176.1,636.0 1174.2,638.7 1172.3,634.2 1170.4,638.9 1168.6,642.4 1166.7,634.1 1164.8,635.2 1163.0,635.6 1161.1,635.5 1159.2,623.1 1157.3,637.9 1155.5,635.0 1153.6,633.4 1151.1,638.0 1148.6,649.8 1146.1,628.3 1143.6,581.4 1141.1,571.2 1138.6,608.7 1136.1,640.3 1134.2,629.2 1132.4,636.1 1129.9,636.1 1128.0,647.6 1126.1,659.4 1123.6,630.7 1121.8,608.9 1119.9,625.8 1118.0,628.8 1116.2,599.4 1114.3,623.2 1112.4,625.8 1110.5,605.4 1108.7,605.8 1106.8,610.7 1104.9,611.2 1103.0,614.0 1101.2,612.4 1099.3,605.5 1097.4,605.3 1094.9,602.2 1093.1,600.2 1091.2,602.4 1088.7,612.6" fill="#9d2424"/>
<polygon points="1212.3,585.5 1214.1,597.8 1216.0,618.2 1217.9,608.9 1219.7,605.4 1221.6,609.7 1223.5,628.9 1225.4,632.6 1227.2,628.8 1229.1,617.6 1231.0,609.1 1232.9,615.9 1234.7,605.4 1236.6,604.5 1238.5,603.3 1240.3,615.6 1242.2,634.3 1244.1,642.9 1246.0,658.7 1248.5,562.2 1250.9,614.2 1253.4,631.9 1255.9,555.9 1258.4,635.3 1260.3,642.5 1262.2,655.2 1264.1,658.2 1265.9,657.6 1267.8,624.3 1269.7,589.2 1272.2,644.1 1274.0,634.1 1275.9,625.8 1277.8,640.6 1279.7,639.8 1281.5,628.3 1283.4,628.9 1285.3,623.3 1287.1,620.7 1289.0,607.0 1290.9,592.1 1292.8,589.7 1294.6,597.8 1294.6,619.8 1292.8,614.6 1290.9,614.2 1289.0,625.8 1287.1,636.7 1285.3,643.8 1283.4,645.0 1281.5,661.6 1279.7,667.1 1277.8,662.4 1275.9,644.5 1274.0,656.3 1272.2,660.3 1269.7,656.1 1267.8,662.2 1265.9,668.0 1264.1,670.6 1262.2,667.4 1260.3,670.8 1258.4,666.5 1255.9,620.6 1253.4,643.9 1250.9,638.8 1248.5,627.1 1246.0,675.4 1244.1,661.3 1242.2,654.4 1240.3,648.7 1238.5,637.0 1236.6,633.6 1234.7,626.6 1232.9,637.2 1231.0,637.1 1229.1,639.7 1227.2,655.3 1225.4,648.7 1223.5,640.0 1221.6,637.1 1219.7,634.3 1217.9,636.8 1216.0,636.2 1214.1,635.8 1212.3,616.7" fill="#9d2424"/>
<polygon points="191.3,951.2 193.8,939.6 196.3,905.0 197.6,943.5 200.1,951.0 202.6,955.1 204.4,942.6 206.3,938.6 208.2,941.1 210.1,956.7 211.7,940.3 213.3,942.0 214.8,940.4 216.3,952.2 218.2,945.4 220.0,939.9 222.5,938.8 225.0,961.1 226.9,963.0 228.8,961.5 230.7,959.3 232.5,949.8 234.1,947.2 235.8,946.4 237.3,952.3 238.8,965.0 240.3,982.0 241.8,989.1 243.4,999.9 245.0,1007.5 246.9,1008.8 248.8,1007.7 250.6,1014.5 252.5,1015.3 254.4,1012.1 256.2,1011.1 258.1,1016.0 260.0,1014.3 261.9,1024.9 263.7,1027.2 265.6,1030.9 267.5,1036.3 269.3,1031.6 271.2,1025.5 273.1,1013.1 275.0,1010.2 276.8,1005.7 278.7,1004.5 280.6,1002.6 282.5,1010.9 284.3,1016.5 286.2,1007.5 288.1,999.9 289.9,997.9 291.8,994.8 293.7,993.1 296.2,974.4 298.7,990.3 301.2,1021.9 303.0,1027.9 304.9,1037.9 306.8,1037.6 308.7,1035.4 310.5,1029.7 312.4,1029.6 314.3,1027.3 316.2,1019.2 318.0,1021.7 319.9,1022.9 321.8,1019.9 323.6,1016.6 325.1,1011.6 326.6,1007.8 328.3,1011.8 329.9,1017.3 332.4,983.8 334.2,982.1 336.1,977.9 338.6,957.9 340.5,963.6 342.4,967.6 344.2,954.3 346.1,941.2 348.6,957.0 351.1,977.8 353.0,977.7 354.8,980.5 356.7,981.7 358.6,982.1 360.5,987.1 362.3,988.6 364.8,1006.5 366.7,993.7 368.6,983.4 370.4,986.8 372.3,989.1 374.2,994.6 376.1,1017.6 378.6,1026.6 380.4,1032.2 382.3,1032.0 384.2,1020.6 386.0,1005.0 387.9,1004.7 389.8,993.6 391.7,997.9 393.5,999.5 395.4,1004.4 397.3,1003.2 399.2,1007.6 401.0,1006.8 402.9,1010.2 404.8,1012.5 407.5,1005.6 407.5,1030.8 404.8,1028.9 402.9,1031.1 401.0,1019.5 399.2,1019.8 397.3,1020.1 395.4,1019.7 393.5,1015.9 391.7,1019.5 389.8,1021.5 387.9,1026.2 386.0,1027.0 384.2,1042.8 382.3,1055.9 380.4,1055.8 378.6,1049.8 376.1,1037.0 374.2,1025.1 372.3,1009.5 370.4,1015.7 368.6,1015.7 366.7,1027.0 364.8,1036.4 362.3,1019.8 360.5,1008.6 358.6,994.8 356.7,993.7 354.8,997.0 353.0,992.8 351.1,997.1 348.6,964.8 346.1,956.9 344.2,964.1 342.4,982.6 340.5,982.7 338.6,985.2 336.1,988.0 334.2,992.7 332.4,1003.7 329.9,1024.8 328.3,1030.1 326.6,1028.0 325.1,1030.5 323.6,1035.2 321.8,1032.5 319.9,1038.4 318.0,1039.0 316.2,1030.0 314.3,1041.0 312.4,1046.6 310.5,1047.2 308.7,1054.0 306.8,1048.5 304.9,1052.7 303.0,1046.6 301.2,1037.7 298.7,1014.4 296.2,996.8 293.7,1010.3 291.8,1012.9 289.9,1021.2 288.1,1024.9 286.2,1024.6 284.3,1029.6 282.5,1022.0 280.6,1029.2 278.7,1029.5 276.8,1036.1 275.0,1032.6 273.1,1042.6 271.2,1048.5 269.3,1055.9 267.5,1057.9 265.6,1048.9 263.7,1053.3 261.9,1036.0 260.0,1032.5 258.1,1027.5 256.2,1025.2 254.4,1034.6 252.5,1036.1 250.6,1032.8 248.8,1024.9 246.9,1035.2 245.0,1033.2 243.4,1021.5 241.8,1006.5 240.3,1005.2 238.8,989.2 237.3,984.3 235.8,968.0 234.1,982.6 232.5,1000.9 230.7,995.5 228.8,999.3 226.9,995.2 225.0,986.5 222.5,979.7 220.0,984.4 218.2,985.8 216.3,986.0 214.8,972.9 213.3,971.7 211.7,970.7 210.1,987.3 208.2,993.0 206.3,984.3 204.4,989.8 202.6,991.7 200.1,1010.8 197.6,1046.4 196.3,973.0 193.8,1002.9 191.3,992.5" fill="#9d2424"/>
<polygon points="406.5,1010.3 408.0,986.7 409.5,973.9 412.0,979.6 413.9,983.6 415.7,989.9 417.6,991.4 419.5,1007.2 421.4,1002.9 423.2,991.5 425.1,998.1 427.0,976.7 428.8,971.3 430.7,970.0 432.5,1001.0 432.5,1033.4 430.7,1035.6 428.8,1029.7 427.0,999.5 425.1,1014.5 423.2,1045.2 421.4,1041.8 419.5,1025.1 417.6,1036.6 415.7,1032.0 413.9,1030.0 412.0,1011.9 409.5,999.8 408.0,1008.6 406.5,1028.5" fill="#9d2424"/>
<polygon points="433.5,935.8 435.0,938.4 436.5,941.0 436.5,949.9 435.0,949.6 433.5,948.4" fill="#9d2424"/>
<polygon points="441.9,987.5 443.8,1003.2 445.7,1009.5 448.2,1007.3 450.1,1004.8 451.9,997.3 453.8,999.7 455.7,994.5 457.5,994.3 459.4,984.8 461.3,990.3 463.2,996.4 465.0,1001.6 466.9,1016.9 468.8,999.2 470.7,978.0 472.5,969.1 474.4,968.9 476.3,955.2 478.1,945.1 480.0,940.5 481.9,947.9 483.8,949.2 485.6,947.0 487.5,949.2 489.4,953.2 491.2,954.6 493.1,954.4 495.0,960.6 496.9,983.6 498.7,975.6 500.6,989.1 502.5,988.6 504.4,988.1 506.2,992.7 508.1,998.8 510.0,987.1 511.8,982.5 513.7,973.5 515.6,970.4 517.5,973.7 519.3,975.2 521.2,972.8 523.1,980.8 524.9,987.2 526.8,989.3 528.7,974.2 530.6,970.2 532.4,956.5 534.3,942.4 536.2,946.8 538.1,954.1 539.9,943.2 541.8,941.4 543.7,924.0 545.5,914.2 547.4,913.2 549.3,903.6 551.2,910.7 553.0,913.5 554.9,916.9 556.8,918.0 558.6,923.9 560.5,931.2 562.4,923.6 564.3,927.4 566.1,928.0 568.0,932.0 569.9,924.2 571.8,923.6 573.6,937.3 575.5,928.5 577.4,921.3 579.2,916.5 581.1,936.4 583.0,948.0 584.9,954.4 586.7,948.8 588.6,944.0 590.5,943.6 592.3,950.2 594.2,964.0 596.1,953.0 598.0,951.6 599.8,952.9 601.7,954.2 603.6,934.4 605.5,943.7 607.3,931.2 609.2,950.5 611.1,940.0 612.9,940.1 614.8,941.7 616.7,940.4 618.6,940.3 620.4,932.6 622.9,917.5 625.4,955.6 625.4,989.1 622.9,984.6 620.4,958.9 618.6,973.8 616.7,987.1 614.8,982.6 612.9,975.5 611.1,983.1 609.2,973.0 607.3,982.9 605.5,990.8 603.6,982.2 601.7,983.1 599.8,997.9 598.0,1007.0 596.1,1000.2 594.2,992.1 592.3,999.7 590.5,990.7 588.6,1007.7 586.7,1017.1 584.9,993.2 583.0,1010.9 581.1,998.8 579.2,985.4 577.4,982.8 575.5,956.5 573.6,964.7 571.8,963.4 569.9,953.2 568.0,958.7 566.1,959.4 564.3,956.7 562.4,944.2 560.5,942.2 558.6,952.8 556.8,959.1 554.9,953.6 553.0,954.3 551.2,949.2 549.3,949.2 547.4,974.9 545.5,969.3 543.7,979.1 541.8,990.6 539.9,995.0 538.1,989.6 536.2,1003.2 534.3,1012.9 532.4,1016.1 530.6,1014.6 528.7,1019.3 526.8,1024.4 524.9,1018.5 523.1,1020.5 521.2,1014.7 519.3,1015.6 517.5,1011.8 515.6,1013.4 513.7,1018.5 511.8,1011.2 510.0,1012.4 508.1,1014.2 506.2,1019.2 504.4,1020.6 502.5,1010.4 500.6,1006.6 498.7,1004.5 496.9,1000.7 495.0,988.5 493.1,992.4 491.2,986.0 489.4,985.7 487.5,978.7 485.6,974.6 483.8,973.2 481.9,978.6 480.0,980.8 478.1,986.8 476.3,989.8 474.4,994.3 472.5,1007.3 470.7,1015.4 468.8,1025.3 466.9,1043.4 465.0,1043.5 463.2,1025.5 461.3,1020.9 459.4,1019.5 457.5,1022.2 455.7,1024.0 453.8,1031.7 451.9,1038.8 450.1,1051.4 448.2,1054.5 445.7,1052.2 443.8,1041.7 441.9,1031.1" fill="#9d2424"/>
<polygon points="639.2,926.2 641.0,921.7 642.9,918.5 644.8,925.9 646.6,938.3 648.5,944.1 650.4,943.0 652.3,937.3 654.1,939.4 656.0,940.5 657.9,932.2 659.7,926.2 661.6,925.9 663.5,915.3 665.4,908.3 667.2,914.7 669.1,933.6 671.0,932.0 672.9,924.9 674.7,950.6 676.6,942.3 678.5,940.4 680.3,934.5 682.2,944.6 684.1,933.4 686.0,949.4 687.8,941.5 689.7,937.7 691.6,932.1 693.4,944.4 695.3,935.3 697.2,935.9 699.1,948.0 700.9,943.6 702.8,934.4 704.7,931.1 706.6,933.1 708.4,932.2 710.3,929.6 712.2,935.8 714.0,935.0 715.9,931.8 717.8,925.0 719.7,929.5 721.5,940.2 723.4,923.1 725.3,933.1 727.0,922.8 728.8,930.9 730.5,938.8 730.5,973.4 728.8,968.5 727.0,963.9 725.3,969.4 723.4,972.5 721.5,973.4 719.7,978.8 717.8,996.6 715.9,964.8 714.0,972.0 712.2,978.6 710.3,974.2 708.4,964.4 706.6,968.6 704.7,967.7 702.8,970.5 700.9,962.3 699.1,975.5 697.2,976.5 695.3,974.5 693.4,961.4 691.6,971.7 689.7,964.2 687.8,980.6 686.0,977.2 684.1,973.2 682.2,966.8 680.3,974.2 678.5,986.8 676.6,999.3 674.7,967.7 672.9,986.0 671.0,975.8 669.1,975.4 667.2,983.8 665.4,987.2 663.5,982.0 661.6,975.1 659.7,972.4 657.9,975.5 656.0,976.0 654.1,975.6 652.3,972.7 650.4,975.5 648.5,973.4 646.6,973.3 644.8,970.2 642.9,959.8 641.0,965.7 639.2,964.8" fill="#9d2424"/>
<polygon points="729.5,935.0 730.9,938.4 732.3,949.9 733.7,949.9 735.6,946.9 737.5,934.4 740.0,900.0 742.5,892.4 745.0,936.9 747.5,939.2 750.0,928.9 750.0,952.1 747.5,982.4 745.0,988.8 742.5,967.7 740.0,977.4 737.5,969.6 735.6,968.1 733.7,974.1 732.3,972.4 730.9,972.1 729.5,958.7" fill="#9d2424"/>
<polygon points="755.0,943.0 756.8,939.3 758.7,937.2 760.6,953.3 762.5,942.9 764.3,947.6 766.2,942.9 768.1,944.1 769.9,942.7 771.8,946.4 773.7,950.6 775.6,940.1 777.4,941.8 777.4,975.8 775.6,974.4 773.7,968.0 771.8,974.7 769.9,973.6 768.1,973.8 766.2,965.4 764.3,976.0 762.5,982.1 760.6,981.2 758.7,976.3 756.8,974.9 755.0,970.5" fill="#9d2424"/>
<polygon points="782.4,934.7 784.3,939.1 786.2,954.3 788.0,944.3 789.9,946.2 791.8,942.4 793.7,936.6 796.2,952.3 797.9,979.8 799.9,993.8 801.1,998.9 801.1,1011.2 799.9,1019.9 797.9,1000.1 796.2,978.3 793.7,969.1 791.8,972.4 789.9,976.8 788.0,975.1 786.2,969.7 784.3,959.9 782.4,952.5" fill="#9d2424"/>
<polygon points="816.1,960.5 818.0,953.2 819.9,943.9 821.7,936.6 823.6,935.7 825.5,948.9 827.4,934.2 829.2,941.6 831.1,959.2 833.0,953.4 834.8,928.4 836.7,940.0 838.6,915.2 840.5,921.7 842.3,928.4 842.3,1006.9 840.5,997.4 838.6,988.4 836.7,984.3 834.8,979.4 833.0,990.8 831.1,997.5 829.2,998.4 827.4,988.0 825.5,977.2 823.6,981.8 821.7,979.8 819.9,979.5 818.0,969.4 816.1,976.3" fill="#9d2424"/>
<polygon points="847.3,917.6 849.2,919.8 851.1,918.6 852.9,928.2 854.8,935.8 856.7,957.6 858.6,949.9 860.4,942.4 862.3,937.5 864.2,943.4 866.0,953.3 867.9,936.4 869.8,935.8 871.7,949.4 873.5,947.4 875.4,951.0 877.3,957.5 879.2,953.5 881.0,951.7 882.9,940.4 884.8,936.6 886.6,940.8 888.5,946.2 890.4,952.0 892.3,944.3 894.1,959.0 896.0,953.6 897.9,946.7 899.7,946.8 902.2,946.4 904.1,931.3 906.0,929.3 907.9,921.1 909.7,902.8 911.6,912.4 913.5,914.1 916.0,924.3 916.0,944.4 913.5,933.1 911.6,934.6 909.7,940.1 907.9,947.9 906.0,958.5 904.1,962.2 902.2,977.1 899.7,981.6 897.9,980.4 896.0,974.5 894.1,972.5 892.3,967.7 890.4,972.6 888.5,981.1 886.6,981.2 884.8,985.7 882.9,974.0 881.0,982.8 879.2,981.7 877.3,984.4 875.4,982.6 873.5,981.6 871.7,984.9 869.8,979.6 867.9,985.2 866.0,983.8 864.2,973.6 862.3,995.4 860.4,989.9 858.6,986.4 856.7,980.6 854.8,977.5 852.9,971.9 851.1,963.4 849.2,958.3 847.3,954.3" fill="#9d2424"/>
<polygon points="918.5,914.5 920.2,906.8 920.2,929.9 918.5,937.8" fill="#9d2424"/>
<polygon points="926.0,954.6 928.5,956.3 930.9,963.9 930.9,990.2 928.5,988.5 926.0,969.1" fill="#9d2424"/>
<polygon points="939.7,878.2 942.2,889.4 944.7,894.5 946.7,914.6 946.7,945.9 944.7,942.0 942.2,931.9 939.7,937.1" fill="#9d2424"/>
<polygon points="953.4,916.2 955.3,926.5 957.2,933.1 959.0,934.0 960.9,918.7 962.8,923.9 964.6,930.6 966.5,931.3 968.4,939.3 970.3,937.8 972.1,945.2 974.0,939.3 975.9,938.4 977.8,938.8 979.6,933.3 981.5,928.1 983.4,923.8 985.2,922.5 987.1,914.9 989.0,932.8 990.9,928.0 992.7,930.8 994.6,948.3 996.5,940.6 998.3,937.5 1000.2,938.8 1002.1,939.8 1004.0,922.4 1005.8,913.9 1007.7,926.9 1009.6,933.9 1011.5,938.5 1013.3,937.0 1015.2,936.3 1017.1,932.1 1018.9,946.6 1020.8,937.2 1022.7,931.0 1024.6,928.4 1026.4,923.2 1028.3,915.5 1030.2,916.5 1032.0,924.1 1033.9,931.3 1035.8,938.8 1037.7,939.6 1039.5,923.1 1041.4,921.2 1043.3,923.1 1045.2,923.5 1047.0,926.8 1048.9,919.0 1050.8,916.4 1053.5,918.6 1053.5,958.7 1050.8,960.9 1048.9,959.9 1047.0,959.8 1045.2,951.6 1043.3,960.4 1041.4,960.6 1039.5,958.2 1037.7,963.7 1035.8,964.9 1033.9,957.3 1032.0,946.2 1030.2,961.0 1028.3,961.2 1026.4,967.4 1024.6,971.1 1022.7,961.6 1020.8,966.5 1018.9,958.3 1017.1,972.0 1015.2,971.5 1013.3,974.6 1011.5,973.4 1009.6,961.4 1007.7,978.5 1005.8,979.0 1004.0,980.1 1002.1,977.3 1000.2,976.6 998.3,976.2 996.5,977.4 994.6,984.2 992.7,983.6 990.9,989.7 989.0,982.8 987.1,963.0 985.2,978.9 983.4,970.3 981.5,975.9 979.6,983.1 977.8,982.7 975.9,979.5 974.0,984.5 972.1,998.2 970.3,995.5 968.4,992.9 966.5,993.4 964.6,988.5 962.8,966.6 960.9,969.0 959.0,967.7 957.2,959.8 955.3,950.7 953.4,944.3" fill="#9d2424"/>
<polygon points="1052.5,914.6 1054.0,917.6 1055.5,940.1 1057.4,939.4 1059.2,941.9 1061.1,943.7 1063.0,943.4 1064.9,952.7 1066.7,949.6 1068.6,958.7 1070.5,963.1 1072.3,959.5 1074.2,959.9 1076.7,958.5 1078.0,929.0 1080.5,950.8 1082.3,939.9 1084.2,935.3 1086.1,937.0 1087.9,942.5 1089.8,946.1 1091.7,950.6 1093.6,947.1 1095.4,945.9 1097.3,963.7 1099.2,983.7 1101.1,979.0 1102.9,983.0 1104.8,982.9 1106.7,986.4 1108.5,990.1 1110.4,993.9 1112.3,996.4 1114.2,993.7 1116.0,995.1 1117.9,1003.6 1119.8,1001.0 1121.6,1007.9 1123.5,1009.7 1125.4,1022.2 1127.3,1029.9 1129.1,1024.6 1131.6,1040.8 1131.6,1056.8 1129.1,1058.0 1127.3,1055.4 1125.4,1053.1 1123.5,1042.7 1121.6,1033.3 1119.8,1037.7 1117.9,1036.4 1116.0,1034.5 1114.2,1033.2 1112.3,1031.7 1110.4,1025.0 1108.5,1028.0 1106.7,1025.6 1104.8,1018.7 1102.9,1018.1 1101.1,1016.6 1099.2,1015.2 1097.3,1001.4 1095.4,994.5 1093.6,976.1 1091.7,982.8 1089.8,977.2 1087.9,986.5 1086.1,978.9 1084.2,991.1 1082.3,979.4 1080.5,994.7 1078.0,1007.7 1076.7,1011.5 1074.2,1001.6 1072.3,997.8 1070.5,998.8 1068.6,984.1 1066.7,990.5 1064.9,977.0 1063.0,972.8 1061.1,960.1 1059.2,967.0 1057.4,973.5 1055.5,956.0 1054.0,964.2 1052.5,960.6" fill="#9d2424"/>
<line x1="81.2" y1="188.9" x2="1294.0" y2="188.9" stroke="#1a1a1a" stroke-width="1.2"/>
<line x1="81.3" y1="573.4" x2="1293.5" y2="573.4" stroke="#1a1a1a" stroke-width="1.2"/>
<line x1="86.1" y1="960.3" x2="1293.4" y2="960.3" stroke="#1a1a1a" stroke-width="1.2"/>
<polyline points="81.0,287.1 82.7,283.9 84.3,271.5 86.0,268.4 87.7,260.1 89.3,249.9 91.0,249.5 92.6,242.9 94.3,230.5 96.0,223.0 97.6,210.4 99.3,192.5 101.0,184.2 102.6,184.8 104.3,193.9 106.0,202.6 107.6,195.8 109.3,191.6 111.0,194.4 112.6,193.9 114.3,192.9 115.9,192.8 117.6,180.0 119.3,176.6 120.9,158.0 122.8,194.5 124.7,221.3 126.8,215.2 128.8,210.5 130.9,213.9 132.8,208.7 134.7,204.0 136.5,206.9 138.4,195.9 140.1,205.1 141.7,209.1 143.4,199.7 145.1,203.1 146.7,183.7 148.4,197.9 150.1,166.9 151.7,140.8 153.4,123.0 155.1,112.3 156.7,113.9 158.4,107.6 160.3,119.4 162.1,112.3 163.8,121.5 165.5,122.7 167.1,125.2 169.6,154.9 171.5,170.3 173.4,179.9 175.2,187.9 177.1,168.6 179.0,175.5 180.9,182.8 183.3,197.9 185.0,205.2 186.7,205.5 188.3,231.0 190.0,223.3 191.7,223.3 193.3,221.5 195.2,220.0 197.1,219.6 198.9,229.6 200.8,249.1 202.5,222.8 204.1,225.0 205.8,221.1 207.5,212.1 209.1,208.0 210.8,206.4 212.5,189.7 214.1,194.7 215.8,190.0 217.5,187.1 219.1,192.3 220.8,188.9 222.5,176.7 224.1,174.3 225.8,163.0 228.3,184.9 229.9,190.2 231.6,192.2 233.3,198.3 235.1,200.3 237.0,205.0 238.9,204.4 240.8,208.8 242.4,210.9 244.1,211.8 245.8,216.6 247.6,203.4 249.5,199.2 251.4,187.5 253.2,181.8 254.9,177.5 256.6,186.8 258.2,192.1 259.9,188.7 261.6,190.0 263.2,185.4 265.1,174.7 267.0,161.3 268.6,165.0 270.3,156.5 272.0,168.6 273.8,155.5 275.7,146.5 277.4,156.7 279.0,163.0 280.7,180.0 282.4,175.8 284.0,170.4 285.7,171.8 287.8,151.2 289.9,151.1 291.9,142.9 293.8,146.9 295.7,156.6 298.2,171.3 299.8,172.9 301.5,174.7 303.2,170.2 304.8,176.2 306.5,183.7 308.2,170.8 310.2,167.6 312.3,172.0 314.4,164.6 316.3,183.3 318.1,183.5 319.8,166.9 321.5,173.1 323.1,186.0 324.8,173.9 326.5,173.3 328.1,164.5 329.8,167.8 331.5,175.6 333.1,182.9 334.8,199.3 336.5,186.9 338.1,188.9 339.8,186.8 341.4,179.4 343.1,174.6 345.6,144.4 347.5,145.9 349.3,126.1 351.2,126.1 353.1,132.7 354.8,122.2 356.4,121.0 358.1,110.5 360.0,114.6 361.8,105.5 363.5,100.8 365.2,84.7 366.8,94.5 368.7,92.4 370.6,112.2 372.4,103.3 374.3,99.1 376.2,94.2 378.1,110.9 379.7,125.2 381.4,115.1 383.0,115.3 384.7,118.9 386.4,119.9 388.0,121.6 389.9,113.7 391.8,108.7 394.3,101.1 396.2,92.5 398.0,105.1 400.0,106.4 402.0,105.9 404.0,112.4" fill="none" stroke="#d5d5da" stroke-width="1.5" stroke-linejoin="round"/>
<polyline points="134.7,229.7 136.5,246.7 138.4,262.4 140.3,254.9 142.2,249.4 144.0,267.4 145.9,286.3 147.6,280.2 149.2,275.5 150.9,268.4 152.6,266.7 154.2,270.1 155.9,266.7 157.6,267.4 159.2,276.3 160.9,279.7 162.8,275.7 164.6,268.1 166.5,281.9 168.4,286.4 170.2,279.6 172.1,276.7 174.0,278.0 175.9,287.7 177.7,276.6 179.6,294.8 181.5,292.9 183.3,281.9 185.2,300.9 187.1,300.1 189.0,300.1 190.8,300.5 192.7,297.7 194.6,296.0 196.5,301.5 198.3,303.4 200.2,298.0 202.1,295.2 203.9,292.2 205.8,295.5 207.7,280.5 209.6,288.8 211.4,289.6 213.3,277.3 215.2,289.0 217.0,291.6 218.9,293.1 220.8,288.0 222.7,290.2 224.5,290.9 226.4,286.7 228.3,289.4 230.2,289.3 232.0,288.8 233.9,287.6 235.8,287.6 237.6,293.6 239.5,300.6 241.4,297.2 243.3,301.5 244.9,295.0 246.6,287.7 248.2,282.8 250.1,274.3 252.0,280.7 253.9,267.4 255.7,268.6 257.6,269.7 259.5,259.9 261.4,265.8 263.2,254.2 264.9,254.5 266.6,258.6 268.2,259.0 270.1,247.8 272.0,251.7 273.8,252.6 275.7,249.7 277.4,253.4 279.0,266.1 280.7,244.9 282.6,273.0 284.4,263.5 286.3,259.7 288.2,255.5 290.1,243.2 291.9,249.5 293.8,255.2 295.7,245.6 297.3,251.4 299.0,258.1 300.7,257.3 302.8,267.3 304.8,272.5 306.9,285.8 309.0,256.0 311.1,262.5 313.2,238.7 314.8,247.3 316.5,253.9 318.1,252.9 320.2,256.8 322.3,254.2 324.4,254.8 326.5,264.4 328.5,267.0 330.6,268.7 332.3,261.3 334.0,269.2 335.6,263.2 337.5,271.4 339.4,273.9 341.2,277.0 343.1,277.8 345.2,277.3 347.3,280.4 349.3,285.0 351.4,281.0 353.5,294.3 355.6,288.2 357.5,277.4 359.3,258.9 361.4,277.6 363.5,269.7 365.6,269.2 367.2,258.5 368.9,242.1 370.6,222.9 372.2,193.7 373.9,190.7 375.6,187.2 377.2,205.1 378.9,213.5 380.6,225.8 382.2,227.0 383.9,233.3 385.5,230.0 387.2,223.3 388.9,228.9 390.5,223.1 392.2,242.5 393.9,229.8 395.5,234.8 397.2,236.4 398.9,241.6 400.6,242.6 402.3,252.4 404.0,242.2" fill="none" stroke="#d5d5da" stroke-width="1.5" stroke-linejoin="round"/>
<polyline points="403.5,129.9 405.3,127.8 407.2,126.1 409.0,146.5 410.7,119.2 412.3,127.3 414.0,105.6 415.6,111.7 417.3,110.6 419.0,103.2 420.6,113.1 422.3,113.7 424.0,124.0 426.5,114.8 428.1,109.6 429.8,119.6 431.5,128.3 433.1,116.6 434.8,116.4 436.5,105.5 438.1,116.0 439.8,111.3 441.4,133.1 443.3,114.3 445.2,117.9 447.1,110.4 448.9,109.3 450.6,111.4 452.3,118.5 453.9,110.3 456.4,104.8 458.3,121.6 460.2,133.3 462.0,125.8 463.9,121.2 465.6,117.9 467.2,116.5 468.9,110.9 470.8,99.5 472.6,95.5 474.5,104.9 476.4,111.9 478.3,97.2 480.1,98.5 482.0,99.9 483.9,93.3 486.4,83.8 488.2,112.6 490.1,133.5 492.0,143.8 493.9,156.7 495.5,152.3 497.2,131.8 498.9,117.3 500.7,114.8 502.6,114.2 505.1,96.8 507.6,168.3 509.5,185.3 511.3,188.5 513.4,185.1 515.5,151.1 517.6,142.5 519.5,151.0 521.3,173.2 523.0,164.4 524.7,162.2 526.3,166.5 528.0,138.6 529.6,115.5 531.3,100.7 533.2,90.6 535.1,85.8 536.9,85.4 538.8,84.3 540.7,89.6 542.5,94.0 545.0,73.0 546.9,101.3 548.8,95.7 550.4,115.2 552.1,119.1 553.8,126.2 555.4,117.0 557.1,108.2 558.8,107.3 560.4,101.4 562.1,104.6 563.8,92.4 565.6,112.6 567.5,116.6 569.4,97.3 571.2,66.7 573.1,85.0 575.0,82.1 576.9,107.0 578.7,126.2 580.4,132.6 582.1,137.1 583.7,137.4 585.4,128.3 587.1,117.0 588.7,111.5 590.4,132.9 592.1,129.9 593.7,133.8 595.4,135.4 597.0,124.9 598.7,122.2 600.4,130.5 602.0,137.4 603.7,139.3 605.6,149.5 607.4,135.8 609.9,88.7 611.8,112.9 613.7,137.1 615.3,133.8 617.0,137.1 618.7,127.6 620.3,120.4 622.0,116.2 623.7,111.0 625.5,110.3 627.4,111.2 629.3,104.4 631.2,106.5 632.8,102.9 634.5,103.3 636.2,100.6 637.8,100.9 639.5,117.1 641.1,116.2 642.8,125.7 644.5,136.9 646.1,153.7 647.8,143.5 649.5,138.2 651.1,120.0 652.8,130.3 654.5,135.9 656.1,144.8 657.8,137.3 659.5,142.4 661.1,138.3 662.8,141.0 664.4,146.5 666.1,156.9 667.8,165.6 669.4,187.5 671.1,182.1 673.0,186.4 674.8,200.8 676.7,154.9 678.6,127.7 680.3,136.6 681.9,144.8 683.6,149.8 685.2,147.7 686.9,143.8 688.6,130.5 690.2,151.4 691.9,140.8 693.6,174.4 695.2,179.6 696.9,182.2 698.6,187.8 700.2,180.3 701.9,167.0 703.6,155.1 705.2,153.1 706.9,126.6 708.5,121.9 710.2,117.4 711.9,108.8 713.5,108.8 715.2,127.6 716.9,120.3 718.5,131.5 720.2,128.8 721.9,121.5 723.5,124.6 725.5,122.1 727.5,129.9" fill="none" stroke="#d5d5da" stroke-width="1.5" stroke-linejoin="round"/>
<polyline points="403.5,232.2 405.5,224.6 407.5,230.8 409.5,220.9 411.5,224.4 413.4,222.9 415.2,227.7 417.1,237.1 419.0,237.9 420.8,245.9 422.7,250.9 424.6,245.3 426.5,259.4 428.1,241.7 429.8,230.2 431.5,226.4 433.1,220.1 434.8,226.7 436.5,218.5 438.1,222.3 439.8,230.6 441.4,235.5 443.1,232.0 444.8,222.6 446.4,234.4 448.1,235.4 449.8,243.3 451.4,249.3 453.1,243.0 454.8,232.8 456.4,216.5 458.3,235.6 460.2,255.6 461.8,249.3 463.5,237.7 465.2,232.1 466.8,239.0 468.5,253.0 470.2,247.6 471.8,250.8 473.5,249.5 475.1,235.3 476.8,239.1 478.5,238.5 480.1,233.0 482.2,228.7 484.3,232.8 486.4,228.2 488.0,219.1 489.7,234.5 491.4,248.6 493.4,243.9 495.5,250.9 497.6,240.1 499.3,237.7 500.9,234.8 502.6,224.1 504.5,216.8 506.3,214.2 508.8,188.7 510.5,186.8 512.2,177.0 513.8,170.7 515.7,160.7 517.6,145.6 519.5,158.8 521.3,181.7 523.2,199.8 525.1,205.2 526.9,204.4 528.8,208.6 530.5,213.1 532.1,224.0 533.8,228.7 535.5,241.6 537.1,240.4 538.8,240.1 540.5,247.2 542.1,228.3 543.8,227.9 545.5,230.2 547.1,227.0 548.8,224.5 550.4,219.1 552.1,229.5 553.8,229.1 555.4,219.3 557.1,216.6 558.8,211.5 560.4,206.7 562.1,210.9 563.8,220.1 565.4,230.7 567.1,241.1 568.8,248.1 571.2,254.7 573.7,258.7 575.4,241.4 577.1,241.1 578.7,238.7 580.4,223.3 582.1,221.0 583.7,221.8 585.8,219.1 587.9,230.0 590.0,233.7 592.1,234.2 594.1,232.7 596.2,228.9 597.9,231.4 599.5,219.0 601.2,223.9 603.3,229.1 605.4,235.6 607.4,251.7 609.3,218.0 611.2,224.5 612.9,216.2 614.5,206.0 616.2,201.7 617.8,213.0 619.5,214.9 621.2,228.3 622.8,212.8 624.5,202.6 626.2,189.2 627.8,212.8 629.5,198.5 631.2,194.2 632.8,191.7 634.5,193.3 636.2,191.7 637.8,189.3 639.5,191.3 641.1,206.5 643.0,223.2 644.9,223.3 647.0,238.0 649.0,224.8 651.1,220.3 652.8,236.7 654.5,234.3 656.1,241.1 657.8,235.0 659.5,252.3 661.1,257.5 662.8,263.8 664.4,283.2 666.1,270.2 667.8,265.0 669.4,251.4 671.1,246.1 672.8,250.6 674.4,245.3 676.1,252.4 677.8,261.2 679.4,261.9 681.1,271.0 682.7,267.4 684.4,261.5 686.1,244.7 687.7,250.6 689.4,238.1 691.1,237.4 692.7,231.2 694.4,227.6 696.1,217.4 697.7,221.4 699.4,225.8 701.1,233.9 702.7,235.2 704.4,249.3 706.0,238.1 707.7,232.9 709.4,231.9 711.0,227.7 712.7,219.5 714.4,223.6 716.0,225.1 717.7,212.9 719.4,216.7 721.0,212.6 722.6,225.4 724.3,207.2 725.9,196.5 727.5,204.7" fill="none" stroke="#d5d5da" stroke-width="1.5" stroke-linejoin="round"/>
<polyline points="726.5,104.9 728.6,111.2 730.7,116.7 732.4,116.1 734.1,107.3 735.7,101.2 737.6,131.6 739.5,145.7 741.1,134.7 742.8,135.3 744.5,137.8 746.1,132.0 747.8,132.4 749.5,129.1 751.1,118.0 752.8,112.0 754.5,109.1 756.3,115.2 758.2,131.7 760.1,135.3 761.9,143.5 763.6,143.0 765.3,139.3 766.9,130.5 768.6,124.4 770.3,120.6 771.9,117.2 773.6,119.3 775.3,116.5 776.9,123.7 778.6,117.2 780.3,114.1 781.9,120.3 783.6,103.2 785.2,94.9 786.9,79.2 788.8,107.7 790.7,126.5 792.5,138.6 794.4,135.2 796.1,158.1 797.7,176.7 799.4,179.0 801.1,165.5 802.7,161.9 804.4,144.4 806.0,149.1 807.7,148.0 809.4,140.6 811.2,164.6 813.1,189.5 815.0,181.2 816.9,172.6 818.5,164.5 820.2,172.9 821.9,148.1 823.5,132.8 825.2,133.2 826.9,120.1 828.5,126.0 830.2,120.7 831.8,120.3 833.5,115.7 835.2,106.6 836.8,111.2 839.3,90.0 841.2,100.6 843.1,105.7 844.9,121.1 846.8,115.6 848.5,124.0 850.1,125.3 851.8,119.3 853.5,117.5 855.1,119.4 856.8,124.2 858.5,117.7 860.1,116.9 861.8,113.9 863.7,130.7 865.5,149.8 867.2,144.6 868.9,153.7 870.5,157.6 872.4,147.2 874.3,134.6 876.8,112.0 878.4,121.9 880.1,130.8 881.8,139.5 883.4,143.6 885.1,145.5 886.8,163.6 888.4,154.3 890.1,123.7 891.8,129.4 893.4,135.6 895.1,149.6 896.7,147.4 898.4,130.8 900.1,127.9 901.7,127.9 903.4,117.9 905.1,125.7 906.7,134.4 908.4,132.5 910.1,137.4 911.7,142.1 913.4,146.3 915.1,145.2 916.7,159.8 918.6,137.6 920.5,138.5 922.3,144.1 924.2,163.3 925.9,160.0 927.5,152.0 929.2,153.6 930.9,154.3 932.5,152.0 934.2,153.7 935.9,153.0 937.5,147.3 939.2,144.8 940.8,136.6 942.5,133.9 944.2,126.9 945.8,135.3 947.5,132.4 949.2,143.5 950.8,146.5 952.5,139.4 954.2,137.9 955.8,150.8 957.5,132.9 959.2,153.3 960.8,154.6 962.5,137.5 964.1,138.7 966.0,135.7 967.9,118.4 969.6,129.3 971.2,109.5 972.9,115.0 974.8,128.5 976.6,136.2 978.3,133.0 980.0,116.7 981.6,120.5 983.3,136.1 984.9,138.1 986.6,137.9 988.5,136.6 990.4,131.4 992.0,121.5 993.7,122.1 995.3,106.7 997.2,109.5 999.1,113.3 1001.0,110.2 1002.8,128.5 1004.7,104.2 1006.6,103.6 1008.5,111.0 1010.3,113.1 1012.2,114.0 1014.1,131.0 1015.7,140.5 1017.4,133.8 1019.1,130.3 1020.9,136.5 1022.8,143.7 1024.7,174.1 1026.6,166.9 1028.4,170.0 1030.3,160.1 1032.8,105.7 1034.7,132.4 1036.5,173.8 1038.4,156.8 1040.3,133.2 1042.8,129.9 1044.6,116.4 1046.5,90.8 1048.5,99.0 1050.5,99.9" fill="none" stroke="#d5d5da" stroke-width="1.5" stroke-linejoin="round"/>
<polyline points="726.5,207.2 728.6,225.4 730.7,245.1 732.6,267.0 734.5,272.5 736.2,264.1 737.8,254.8 739.5,241.5 741.1,254.0 742.8,268.3 744.5,280.3 746.3,278.1 748.2,263.5 750.1,261.3 752.0,259.0 753.6,259.0 755.3,251.7 757.0,242.8 758.6,249.1 760.3,256.1 761.9,254.2 763.6,257.3 765.3,247.2 766.9,262.3 768.6,254.7 770.3,256.7 771.9,248.2 773.6,239.8 775.3,236.4 776.9,239.0 778.6,231.5 780.3,229.1 781.9,227.6 783.6,233.4 785.2,221.5 786.9,223.9 788.6,217.6 790.2,208.2 791.9,205.7 793.6,210.6 795.2,219.7 796.9,223.7 798.6,227.1 800.2,227.5 801.9,222.8 803.6,237.3 805.2,241.1 806.9,249.5 808.5,245.6 810.2,236.2 811.9,229.1 813.5,228.5 815.2,239.4 816.9,236.1 818.5,255.6 820.2,263.6 821.9,270.8 823.5,263.6 825.2,254.0 826.9,243.3 828.5,240.1 830.2,248.4 831.8,249.5 833.5,243.3 835.2,246.6 836.8,259.6 838.5,258.6 840.2,247.6 841.8,274.5 843.5,269.8 845.2,274.8 846.8,272.5 849.3,283.8 851.0,279.4 852.6,279.9 854.3,267.7 856.0,268.5 857.6,261.6 859.3,259.6 861.0,258.0 862.6,262.1 864.3,263.6 866.4,282.6 868.5,272.4 870.5,285.0 872.6,273.9 874.7,263.9 876.8,262.2 878.4,253.1 880.1,246.1 881.8,244.7 883.8,265.4 885.9,279.8 888.0,288.6 889.9,272.1 891.8,252.0 893.4,245.6 895.1,247.4 896.7,227.2 898.4,240.7 900.1,254.5 901.7,236.4 903.4,230.2 905.1,232.6 906.7,227.5 908.4,236.4 910.1,244.8 911.7,250.8 913.6,267.4 915.5,279.4 917.3,275.3 919.2,260.9 920.9,256.8 922.5,246.2 924.2,233.7 925.9,221.1 927.5,208.6 929.2,193.8 930.9,199.9 932.5,202.0 934.2,210.5 935.9,209.7 937.5,203.3 939.2,207.3 940.8,200.1 942.5,206.2 944.2,214.5 945.8,211.5 947.5,222.3 949.2,227.9 950.8,227.0 952.5,228.8 954.2,257.2 955.8,225.4 957.5,225.0 959.2,221.2 960.8,223.4 962.5,217.6 964.1,231.8 965.8,246.8 967.5,255.0 969.1,273.0 970.8,253.8 972.5,247.6 974.1,232.7 975.8,232.4 977.5,238.3 979.1,249.5 980.8,238.8 982.5,240.5 984.1,243.9 985.8,240.0 987.4,241.5 989.1,244.7 990.8,243.3 992.4,241.1 994.1,242.2 995.8,239.3 997.4,240.5 999.1,230.9 1000.8,237.5 1002.4,227.2 1004.1,252.1 1005.7,242.0 1007.4,243.2 1009.1,246.6 1010.9,251.5 1012.8,259.1 1014.7,255.8 1016.6,261.3 1018.2,266.0 1019.9,272.3 1021.6,252.6 1023.2,249.3 1024.9,251.0 1026.6,247.1 1028.4,268.7 1030.3,267.1 1032.0,259.9 1033.6,257.1 1035.3,233.7 1037.4,258.0 1039.4,239.9 1041.5,245.5 1043.2,258.4 1044.9,245.3 1046.5,235.2 1048.5,254.6 1050.5,252.2" fill="none" stroke="#d5d5da" stroke-width="1.5" stroke-linejoin="round"/>
<polyline points="1049.5,104.9 1052.5,118.1 1055.0,134.8 1056.9,130.4 1058.7,124.2 1060.6,122.1 1062.5,114.0 1064.4,124.6 1066.2,103.1 1068.1,101.9 1070.0,110.2 1071.8,113.9 1073.7,92.5 1076.2,89.7 1078.7,97.4 1080.6,81.1 1082.5,90.5 1084.3,84.2 1086.2,85.6 1088.7,94.0 1090.6,99.1 1092.4,112.3 1094.3,126.7 1096.2,137.3 1098.7,82.1 1100.5,87.7 1102.4,117.0 1104.9,127.4 1106.4,152.7 1107.4,216.3 1108.4,165.1 1109.9,102.6 1111.8,102.4 1113.7,105.0 1115.5,133.0 1117.4,155.9 1119.3,170.0 1121.1,178.1 1123.0,181.4 1124.9,155.0 1126.8,155.3 1128.6,184.3 1130.5,184.8 1132.4,188.7 1134.0,193.4 1135.7,198.7 1137.4,203.0 1139.0,180.7 1140.7,186.4 1142.4,172.6 1144.0,181.2 1145.7,196.4 1147.4,200.6 1149.0,189.7 1150.7,186.8 1152.3,177.6 1154.0,184.1 1155.7,194.8 1157.3,202.4 1159.0,190.9 1160.7,175.0 1162.3,163.7 1164.2,165.4 1166.1,176.2 1167.9,181.6 1169.8,193.7 1171.5,191.6 1173.1,196.9 1174.8,181.3 1176.7,176.6 1178.6,177.6 1180.4,184.5 1182.3,197.7 1184.4,206.5 1186.5,212.3 1188.5,219.1 1190.2,212.2 1191.9,203.8 1193.5,202.2 1195.6,209.6 1197.7,204.7 1199.8,213.8 1201.4,198.6 1203.1,199.7 1204.8,189.0 1206.4,196.1 1208.1,200.7 1209.8,212.6 1211.4,218.7 1213.1,228.2 1214.8,234.1 1216.4,233.0 1218.1,224.7 1219.7,216.5 1221.4,226.4 1223.1,251.8 1224.7,243.0 1226.4,250.5 1228.1,240.1 1229.7,230.8 1231.4,210.2 1233.1,197.0 1234.7,171.0 1236.6,153.5 1238.5,126.8 1241.0,125.0 1242.8,168.1 1244.7,207.3 1246.4,225.6 1248.0,235.2 1249.7,246.4 1251.4,264.4 1253.0,290.6 1254.7,296.6 1256.4,297.1 1258.0,293.3 1259.7,298.8 1261.3,297.6 1263.0,303.6 1264.7,304.5 1266.3,299.9 1268.0,295.4 1269.7,300.7 1271.3,282.0 1273.0,276.8 1274.7,265.4 1276.3,269.1 1278.0,256.0 1279.7,253.8 1282.2,209.9 1283.9,181.9 1285.9,270.1 1287.8,267.1 1289.6,257.0 1291.9,280.9 1294.1,304.6" fill="none" stroke="#d5d5da" stroke-width="1.5" stroke-linejoin="round"/>
<polyline points="1049.5,229.7 1051.3,240.3 1053.2,249.7 1055.0,265.9 1056.7,256.3 1058.3,257.3 1060.0,253.4 1061.6,253.3 1063.3,227.2 1065.0,237.7 1066.6,223.3 1068.3,221.0 1070.0,196.4 1071.6,205.0 1073.3,202.7 1075.0,201.5 1076.6,210.4 1078.3,204.3 1080.0,205.0 1081.8,200.8 1083.7,203.4 1085.6,194.8 1087.4,202.7 1089.3,210.5 1091.2,223.7 1093.1,240.0 1094.9,242.7 1096.6,253.3 1098.3,274.0 1099.9,268.2 1101.8,276.7 1103.7,286.5 1105.5,278.3 1107.4,270.8 1109.1,263.1 1110.7,268.7 1112.4,268.8 1114.1,268.7 1115.7,272.2 1117.4,272.4 1119.1,264.7 1120.7,247.6 1122.4,263.6 1124.1,250.6 1125.7,261.4 1127.4,268.6 1129.0,268.0 1130.7,277.0 1132.4,293.3 1134.0,291.5 1135.7,275.1 1137.4,277.3 1139.0,273.8 1140.7,279.0 1142.4,287.4 1144.0,286.6 1145.7,289.2 1147.4,287.4 1149.0,288.5 1150.7,279.5 1152.3,270.2 1154.0,280.2 1155.7,294.7 1157.3,294.7 1159.0,298.5 1160.7,297.2 1162.3,298.1 1164.0,300.8 1165.7,301.3 1167.3,301.5 1169.0,297.4 1170.7,295.5 1172.3,297.8 1174.0,287.2 1175.6,289.1 1177.3,293.1 1179.0,285.9 1180.6,291.8 1182.3,291.9 1184.2,296.7 1186.0,291.4 1187.9,292.2 1189.8,288.8 1191.5,292.6 1193.1,296.7 1194.8,299.1 1196.4,298.6 1198.1,292.1 1199.8,300.2 1201.4,306.2 1203.1,303.5 1204.8,299.5 1206.4,297.6 1208.1,300.0 1209.8,296.9 1211.4,300.0 1213.1,299.8 1214.8,298.5 1216.4,301.2 1218.1,295.6 1219.7,301.0 1221.4,305.5 1223.1,298.9 1224.7,305.8 1226.4,300.0 1228.1,295.6 1229.7,295.5 1231.4,296.3 1233.1,299.5 1234.7,300.0 1236.4,300.4 1238.1,301.5 1239.7,303.5 1241.4,303.6 1243.0,303.3 1244.7,305.2 1246.4,305.5 1248.0,304.9 1249.7,306.2 1251.4,305.9 1253.0,305.4 1254.7,306.2 1256.4,306.1 1258.0,306.0 1259.7,305.4 1261.3,306.2 1263.0,304.5 1264.7,305.3 1266.3,306.2 1268.0,306.0 1269.7,306.1 1271.3,305.4 1273.0,305.6 1274.7,305.3 1276.3,305.1 1277.9,306.2 1279.5,306.2 1281.2,305.9 1282.8,305.4 1284.4,304.7 1286.0,305.3 1287.6,304.3 1289.3,305.5 1290.9,306.2 1292.5,305.8 1294.1,305.8" fill="none" stroke="#d5d5da" stroke-width="1.5" stroke-linejoin="round"/>
<polyline points="81.0,611.7 83.5,599.4 86.0,584.6 87.9,571.6 89.7,553.7 91.6,554.2 93.5,556.4 96.0,587.6 98.5,604.7 100.3,598.2 102.2,593.2 104.1,608.7 106.0,619.3 107.8,614.4 109.7,588.8 111.6,591.3 113.5,596.8 115.3,587.2 117.2,580.8 119.7,566.0 121.6,557.2 123.4,563.3 125.9,564.3 127.8,562.9 129.7,570.0 132.2,548.3 134.7,534.2 137.2,576.2 139.0,577.1 140.9,581.7 142.8,570.2 144.7,564.5 146.3,561.6 148.0,563.4 149.6,562.7 151.5,555.5 153.4,552.4 155.9,550.4 157.6,544.4 159.2,540.0 160.9,535.4 162.8,529.7 164.6,533.9 166.2,504.5 167.9,496.2 170.9,511.0 173.4,507.0 175.9,528.4 177.7,536.9 179.6,552.2 182.1,568.5 184.6,601.6 186.5,600.0 188.3,605.3 190.8,554.1 192.7,562.0 194.6,564.3 196.5,565.7 198.3,579.0 200.2,585.5 202.1,586.3 203.9,586.2 205.8,576.6 207.7,576.2 209.6,567.4 211.4,583.5 213.3,581.4 215.2,585.1 217.0,592.4 218.9,587.9 220.8,585.5 222.5,588.3 224.1,595.8 225.8,610.2 227.4,606.4 229.1,600.7 230.8,605.9 232.4,595.6 234.1,588.7 235.8,581.6 237.4,564.6 239.1,546.2 240.8,540.4 242.6,513.4 244.5,496.2 247.0,507.5 248.9,518.2 250.7,516.5 252.4,539.7 254.1,539.3 255.7,550.4 257.4,533.7 259.1,526.4 260.7,534.3 262.4,513.9 264.1,496.8 265.7,489.7 267.6,478.0 269.5,477.4 271.3,487.2 273.2,511.6 275.7,477.7 277.4,483.5 279.0,484.0 280.7,490.8 282.6,480.4 284.4,475.5 286.3,472.5 288.2,474.4 289.9,464.5 291.5,469.1 293.2,474.4 295.1,466.8 296.9,465.5 298.8,521.4 300.7,572.6 302.5,528.4 304.4,493.2 306.9,557.6 308.8,569.6 310.7,574.3 312.3,551.8 314.0,514.5 315.6,492.8 317.5,497.6 319.4,499.9 321.9,497.6 323.8,515.0 325.6,520.6 327.5,527.5 329.4,524.6 331.2,532.0 333.1,541.1 335.0,529.3 336.9,524.7 338.7,545.9 340.6,542.4 342.5,543.8 344.4,531.2 346.9,550.3 348.7,551.6 350.6,538.5 352.5,520.7 354.3,506.1 356.2,504.9 358.1,507.1 359.7,511.3 361.4,507.9 363.1,509.3 364.7,502.0 366.4,501.8 368.1,499.2 369.7,500.9 371.4,480.4 373.1,489.5 374.7,493.1 376.4,492.5 378.1,492.9 379.7,494.5 381.4,496.9 383.0,484.7 384.7,498.0 386.4,490.7 388.0,504.9 389.9,487.4 391.8,491.5 394.3,488.8 396.2,514.2 398.0,534.3 400.5,525.3 402.5,532.5 404.5,529.3" fill="none" stroke="#d5d5da" stroke-width="1.5" stroke-linejoin="round"/>
<polyline points="81.0,616.7 82.7,607.8 84.3,607.5 86.0,604.1 87.7,603.4 89.3,609.9 91.0,593.5 92.9,595.0 94.7,597.3 96.6,591.3 98.5,605.6 100.3,613.7 102.2,592.9 104.1,594.5 106.0,587.7 107.8,577.0 109.7,591.7 111.6,582.9 113.5,589.6 115.1,579.5 116.8,574.6 118.4,574.2 120.1,577.0 121.8,586.1 123.4,586.5 125.3,589.1 127.2,595.9 129.1,585.0 130.9,582.9 132.8,599.0 134.7,591.0 136.5,595.8 138.4,601.3 140.1,581.1 141.7,591.7 143.4,585.4 145.1,580.2 146.7,574.2 148.4,590.2 150.1,591.3 151.7,591.2 153.4,591.3 155.1,586.6 156.7,573.8 158.4,566.0 160.9,553.3 162.8,542.1 164.6,538.6 167.1,531.2 169.0,542.7 170.9,547.2 172.5,550.3 174.2,553.4 175.9,560.7 177.7,563.8 179.6,573.9 181.3,574.0 182.9,585.0 184.6,580.7 186.5,600.7 188.3,606.9 190.0,594.8 191.7,608.8 193.3,606.5 195.2,601.3 197.1,596.7 198.9,604.9 200.8,617.1 202.7,629.4 204.6,632.8 206.4,646.6 208.3,660.8 210.2,669.7 212.1,676.6 213.9,673.8 215.8,675.6 217.5,670.2 219.1,669.7 220.8,671.2 222.5,676.9 224.1,673.9 225.8,681.5 227.7,680.0 229.5,681.5 231.4,668.7 233.3,663.9 235.1,648.9 237.0,631.8 238.9,621.8 240.8,592.4 243.3,568.5 245.1,579.2 247.0,589.0 248.9,590.1 250.7,590.6 252.4,603.0 254.1,615.5 255.7,624.5 257.6,641.8 259.5,651.8 261.4,661.6 263.2,677.2 265.1,672.2 267.0,657.3 268.8,669.3 270.7,675.8 272.6,668.7 274.5,665.0 276.3,650.0 278.2,634.8 279.9,635.7 281.5,624.5 283.2,623.3 285.1,619.0 286.9,630.8 288.8,612.9 290.7,604.1 292.6,610.9 294.4,601.1 296.3,594.9 298.2,583.0 299.8,582.4 301.5,576.2 303.2,576.9 304.8,571.1 306.5,581.9 308.2,577.7 309.8,575.7 311.5,570.3 313.2,578.8 314.8,576.7 316.5,569.0 318.1,573.2 319.8,580.7 321.5,588.2 323.1,593.5 324.8,603.0 326.5,603.4 328.1,608.2 329.8,603.4 331.5,613.4 333.1,607.2 334.8,616.5 336.5,621.1 338.1,625.1 339.8,623.2 341.4,633.2 343.1,626.3 344.8,619.0 346.4,624.9 348.1,620.6 350.0,595.2 351.8,603.2 353.7,596.0 355.6,596.0 357.3,582.7 358.9,578.1 360.6,570.2 362.2,574.8 363.9,585.8 365.6,594.1 367.2,596.6 368.9,601.1 370.6,608.0 372.4,593.8 374.3,600.5 376.2,595.1 378.1,591.4 379.7,572.8 381.4,579.3 383.0,579.4 384.7,575.1 386.4,571.1 388.0,571.0 389.7,562.5 391.4,560.4 393.0,551.7 394.7,562.4 396.4,568.8 398.0,576.6 399.6,575.3 401.3,564.4 402.9,571.0 404.5,566.8" fill="none" stroke="#d5d5da" stroke-width="1.5" stroke-linejoin="round"/>
<polyline points="403.5,536.8 406.5,535.9 408.2,525.0 409.8,526.5 411.5,525.2 413.4,525.5 415.2,529.2 417.7,537.5 419.6,555.3 421.5,562.4 423.3,561.3 425.2,551.1 427.1,551.4 429.0,543.3 430.8,541.6 432.7,541.8 434.6,552.9 436.5,555.7 438.1,569.1 439.8,564.4 441.4,575.3 443.1,576.5 444.8,572.5 446.4,566.5 448.1,561.2 449.8,562.4 451.4,562.4 453.1,558.2 454.8,559.8 456.4,558.1 458.3,556.6 460.2,552.4 462.0,555.7 463.9,555.4 465.6,562.4 467.2,571.6 468.9,575.9 470.6,567.0 472.2,571.8 473.9,579.7 475.6,578.0 477.2,567.4 478.9,561.8 480.8,570.1 482.6,564.0 484.5,571.3 486.4,570.7 488.2,577.9 490.1,572.5 492.0,562.9 493.9,553.2 495.7,541.4 497.6,541.0 499.5,525.9 501.4,515.7 503.2,503.8 505.1,483.8 507.0,475.6 508.8,479.7 510.7,474.5 512.6,472.9 515.1,466.6 517.6,485.8 519.5,475.1 521.3,494.1 523.2,487.1 525.1,487.4 527.6,516.8 528.8,579.6 530.1,522.8 531.3,496.8 533.8,485.7 535.7,501.9 537.5,506.9 539.4,508.7 541.3,512.3 543.2,502.8 545.0,492.8 546.9,501.7 548.8,506.9 550.4,508.3 552.1,509.5 553.8,503.7 555.4,498.4 557.1,500.5 558.8,494.5 560.4,507.5 562.1,503.3 563.8,515.7 565.4,502.3 567.1,499.0 568.8,490.0 570.4,481.2 572.1,491.2 573.7,499.0 575.4,491.9 577.1,501.3 578.7,506.5 580.4,494.3 582.1,476.4 583.7,477.5 585.4,486.3 587.1,480.2 588.7,479.2 590.4,478.3 592.1,489.2 593.7,489.9 595.4,480.7 597.0,480.8 598.7,485.4 600.4,488.3 602.0,491.1 603.7,494.9 605.4,487.5 607.0,507.7 608.7,482.2 610.4,488.7 612.0,489.5 613.7,500.3 615.3,498.9 617.0,482.8 618.7,488.8 620.3,480.5 622.0,490.3 623.7,486.4 625.3,487.5 627.0,503.2 628.7,498.3 630.3,488.9 632.0,486.2 633.7,487.9 635.3,485.0 637.0,489.6 638.6,488.0 640.3,482.4 642.0,496.5 643.6,464.5 645.3,485.2 647.0,488.7 648.6,488.3 650.3,484.1 652.0,487.5 653.6,493.5 655.5,487.6 657.4,489.1 659.9,477.0 661.7,474.1 663.6,477.9 665.5,471.6 667.4,465.4 669.2,463.8 671.1,476.4 673.0,463.0 674.8,478.8 676.7,511.7 678.6,549.0 681.1,521.0 682.7,519.0 684.4,518.6 686.1,514.0 687.7,516.8 689.4,511.4 691.1,509.0 692.7,501.4 694.4,502.6 696.1,490.0 697.7,484.0 699.4,478.2 701.1,478.3 702.7,470.6 704.4,474.2 706.0,481.3 707.9,480.5 709.8,482.8 711.7,474.9 713.5,467.1 715.4,494.6 717.3,513.3 719.2,514.6 721.0,548.8 722.6,550.1 724.3,532.9 725.9,562.5 727.5,556.8" fill="none" stroke="#d5d5da" stroke-width="1.5" stroke-linejoin="round"/>
<polyline points="403.5,576.8 405.3,577.1 407.2,578.9 409.0,587.6 410.7,594.6 412.3,601.7 414.0,602.1 415.6,592.2 417.3,620.4 419.0,620.3 420.6,626.1 422.3,635.1 424.0,638.5 425.6,638.1 427.3,635.1 429.0,613.5 430.6,617.3 432.3,619.2 434.0,608.2 435.6,623.1 437.3,628.6 438.9,627.1 441.4,652.2 443.9,635.7 445.6,626.5 447.3,623.1 448.9,620.2 450.6,625.2 452.3,633.0 453.9,631.4 455.8,632.8 457.7,620.9 459.5,623.0 461.4,632.2 463.1,647.9 464.7,639.7 466.4,641.2 468.1,643.6 469.7,650.4 471.4,653.4 473.1,654.0 474.7,646.2 476.4,641.1 478.1,646.7 479.7,649.7 481.4,653.2 483.0,646.3 484.7,639.5 486.4,650.9 488.2,653.4 490.1,661.3 492.0,646.4 493.9,631.4 495.5,631.2 497.2,635.8 498.9,632.7 500.5,628.9 502.2,618.2 503.9,612.4 505.5,615.3 507.2,615.6 508.8,611.9 510.5,621.6 512.2,606.6 513.8,604.7 515.5,607.1 517.2,601.4 518.8,592.2 520.5,588.9 522.2,593.3 523.8,586.6 525.5,589.3 527.1,597.3 528.8,615.4 530.5,604.6 532.1,608.7 533.8,608.7 535.7,625.6 537.5,631.2 539.4,639.4 541.3,647.2 543.8,639.0 545.5,628.0 547.1,612.0 548.8,606.3 550.4,597.1 552.1,590.4 553.8,591.3 555.4,607.4 557.1,597.8 558.8,605.9 560.4,599.1 562.1,609.3 563.8,587.1 565.4,594.4 567.1,603.9 568.8,609.5 570.4,628.9 572.1,623.3 573.7,616.3 576.2,655.5 578.7,638.1 580.6,627.6 582.5,627.7 584.4,613.3 586.2,603.6 587.9,596.5 589.6,594.4 591.2,596.5 592.9,590.8 594.5,592.3 596.2,607.2 597.9,594.1 599.5,600.4 601.2,594.9 602.9,593.4 604.5,604.0 606.2,610.6 607.9,606.9 609.5,606.3 611.2,611.8 612.9,616.3 614.5,630.6 616.2,632.8 617.8,619.0 619.5,607.0 621.2,591.1 622.8,586.5 624.5,588.7 626.2,601.6 628.0,613.5 629.9,635.7 631.8,632.8 633.7,639.5 635.3,609.9 637.0,628.3 638.6,620.7 640.3,616.4 642.0,623.1 643.6,614.2 645.3,616.0 647.0,626.1 648.6,625.4 651.1,654.5 652.8,656.7 654.5,656.2 656.1,656.5 658.6,675.6 661.1,588.6 662.8,588.3 664.4,589.5 666.1,583.8 667.8,589.3 669.4,592.6 671.1,606.5 672.8,613.8 674.4,619.8 676.1,628.0 678.6,675.5 681.1,628.3 682.7,624.8 684.4,615.9 686.1,615.2 687.7,625.9 689.4,631.7 691.1,644.9 692.7,644.0 694.4,650.2 696.1,648.8 697.7,648.7 699.4,641.7 701.1,649.7 702.7,640.3 704.4,658.2 706.0,664.5 707.7,662.9 709.4,663.8 711.0,659.7 712.7,656.2 714.4,653.5 716.0,637.2 717.7,627.1 719.4,621.8 721.0,625.4 722.6,622.1 724.3,627.1 725.9,645.2 727.5,636.7" fill="none" stroke="#d5d5da" stroke-width="1.5" stroke-linejoin="round"/>
<polyline points="726.5,591.7 729.5,556.0 732.0,509.8 734.5,485.1 736.4,489.8 738.2,478.4 740.1,494.5 742.0,478.7 743.8,495.6 745.7,507.4 747.6,503.5 749.5,492.4 751.3,497.2 753.2,500.9 755.1,498.5 757.0,500.0 758.6,492.3 760.3,490.2 761.9,499.6 763.6,506.5 765.3,509.0 766.9,513.7 768.6,494.8 770.3,508.0 771.9,499.8 773.8,490.2 775.7,479.3 777.5,464.8 779.4,485.3 781.3,486.1 783.2,510.7 785.0,491.2 786.9,481.0 788.8,482.3 790.7,470.7 792.5,474.2 794.4,478.6 796.3,485.0 798.1,489.0 800.0,485.8 801.9,496.1 803.6,500.4 805.2,484.5 806.9,498.0 808.5,499.2 810.2,496.2 811.9,507.8 813.7,492.4 815.6,488.2 817.5,487.8 819.4,470.2 821.2,478.0 823.1,474.6 825.0,482.3 826.9,480.4 828.7,489.9 830.6,500.3 832.5,524.1 834.3,551.6 836.0,532.7 837.7,522.4 839.3,503.5 841.2,499.9 843.1,487.9 844.9,497.9 846.8,506.1 848.7,513.9 850.6,482.7 852.4,490.8 854.3,511.1 856.2,519.1 858.1,530.6 859.9,535.1 861.8,525.2 863.7,527.9 865.5,520.6 867.4,521.0 869.3,513.3 871.2,508.1 873.0,522.3 874.9,523.8 876.8,535.2 878.4,533.0 880.1,533.4 881.8,527.3 883.4,507.7 885.1,513.6 886.8,512.5 888.4,499.6 890.1,492.1 891.8,486.2 893.6,477.7 895.5,494.5 897.4,508.4 899.2,537.6 901.1,515.5 903.0,505.8 904.9,510.0 906.7,521.1 908.6,526.9 910.5,537.3 912.3,526.5 914.2,520.6 916.1,511.0 918.0,512.7 919.8,526.8 921.7,519.7 923.4,513.5 925.0,501.8 926.7,499.4 928.6,485.4 930.4,481.2 932.3,481.8 934.2,483.3 936.1,490.4 937.9,484.8 939.8,483.3 941.7,490.7 943.6,481.4 945.4,472.0 947.9,477.3 949.8,493.4 951.7,506.6 953.5,523.9 955.4,515.9 957.3,515.7 959.2,507.8 961.0,515.4 962.9,532.4 964.8,517.8 966.6,511.4 968.5,515.7 970.4,494.7 972.3,495.2 974.1,487.2 976.0,481.9 977.9,497.4 979.7,495.4 981.6,507.8 983.5,506.2 985.4,501.8 987.2,509.1 989.1,516.0 991.0,509.4 992.9,507.4 994.7,505.2 996.6,507.0 998.5,521.1 1000.3,530.4 1002.2,521.7 1004.1,540.7 1006.0,549.7 1007.8,566.2 1009.7,559.4 1011.6,560.8 1013.2,546.4 1014.9,537.8 1016.6,533.2 1018.4,505.4 1020.3,489.3 1022.2,484.4 1024.1,477.4 1025.9,480.5 1027.8,490.5 1029.7,487.5 1031.5,505.4 1033.4,500.2 1035.3,477.2 1037.2,486.5 1039.0,498.5 1040.9,482.2 1042.8,467.8 1044.6,478.1 1046.5,486.4 1048.5,485.8 1050.5,484.4" fill="none" stroke="#d5d5da" stroke-width="1.5" stroke-linejoin="round"/>
<polyline points="726.5,666.6 728.6,661.9 730.7,632.3 732.6,620.2 734.5,631.9 736.4,626.2 738.2,633.1 740.1,632.2 742.0,630.5 743.6,628.3 745.3,617.5 747.0,617.1 748.6,619.1 750.3,603.5 752.0,604.0 753.6,609.7 755.3,613.0 757.0,610.0 758.6,617.3 760.3,608.9 761.9,627.9 763.8,652.3 765.7,650.0 767.6,636.3 769.4,627.5 771.3,623.0 773.2,611.3 775.1,622.0 776.9,636.6 778.8,643.5 780.7,659.3 782.5,660.1 784.4,660.2 786.3,679.7 788.2,665.1 790.0,666.8 791.9,666.1 793.8,656.6 795.6,654.5 797.5,645.6 799.4,646.6 801.3,643.9 803.1,637.4 805.0,643.2 806.9,636.4 808.8,627.0 810.6,618.5 812.5,615.9 814.4,601.5 816.0,603.3 817.7,594.7 819.4,593.0 821.2,608.1 823.1,616.3 825.0,607.1 826.9,602.3 828.7,614.6 830.6,633.2 832.5,622.6 834.3,606.0 836.2,607.8 838.1,601.6 840.0,625.3 841.8,635.7 843.5,650.1 845.2,635.7 846.8,644.7 848.7,629.9 850.6,626.0 852.4,619.9 854.3,623.2 856.2,623.4 858.1,628.9 859.9,637.7 861.8,650.9 863.7,656.6 865.5,675.6 867.4,676.1 869.3,683.8 871.2,678.1 873.0,677.7 874.9,674.6 876.8,675.6 879.8,675.4 881.4,645.4 883.0,629.1 884.9,635.6 886.8,634.4 888.6,642.9 890.5,641.4 892.4,633.2 894.2,639.1 896.1,665.5 898.0,669.4 899.9,672.3 901.7,677.0 903.6,684.9 905.5,672.9 907.4,676.1 909.2,678.5 911.1,678.5 913.0,679.5 914.8,684.1 916.7,684.1 919.2,656.7 920.9,652.6 922.5,649.0 924.2,640.3 925.9,638.2 927.5,619.0 929.2,627.9 930.9,625.0 932.5,625.4 934.2,630.1 935.9,622.8 937.5,618.5 939.2,632.3 942.2,687.2 943.8,686.5 945.4,685.7 947.9,609.7 950.4,689.1 952.9,686.9 955.4,611.7 957.3,618.5 959.2,607.5 961.0,613.9 962.9,624.3 964.8,649.1 966.6,679.3 968.5,681.3 970.4,680.9 972.3,681.9 974.1,682.7 976.0,684.9 977.9,686.2 980.4,627.1 982.2,632.1 984.1,613.2 986.0,615.6 987.9,612.1 989.7,616.7 991.6,619.5 993.5,607.3 995.3,613.2 997.2,625.8 999.1,617.6 1000.8,613.6 1002.4,624.4 1004.1,620.4 1005.7,616.1 1007.4,613.3 1009.1,607.0 1010.9,627.3 1012.8,651.5 1014.7,656.9 1016.6,657.5 1018.2,662.9 1019.9,659.9 1021.6,666.0 1023.2,663.5 1024.9,667.3 1026.6,671.6 1028.4,663.8 1030.3,662.6 1032.2,642.7 1034.0,624.5 1035.7,644.7 1037.4,621.5 1039.0,619.3 1040.7,622.7 1042.4,622.4 1044.0,620.4 1045.6,621.5 1047.3,616.2 1048.9,621.4 1050.5,619.2" fill="none" stroke="#d5d5da" stroke-width="1.5" stroke-linejoin="round"/>
<polyline points="1049.5,484.4 1051.6,482.4 1053.7,496.9 1055.6,512.3 1057.5,518.7 1059.4,529.1 1061.2,543.8 1063.1,511.4 1065.0,514.0 1067.5,496.6 1069.3,499.5 1071.2,500.2 1073.1,519.4 1075.0,513.7 1076.8,522.2 1078.7,540.2 1080.6,542.0 1082.5,548.5 1084.9,575.9 1086.8,553.8 1088.7,546.1 1091.2,495.7 1093.1,491.2 1094.9,503.7 1096.8,505.6 1098.7,519.2 1100.5,496.4 1102.4,494.8 1104.3,485.3 1106.2,506.9 1108.0,506.6 1109.9,507.4 1111.8,524.9 1113.7,540.1 1115.5,544.7 1117.4,534.2 1119.3,528.4 1121.1,525.4 1123.0,514.7 1124.9,529.4 1126.8,536.6 1128.6,533.0 1130.5,538.5 1132.4,546.8 1134.2,535.2 1136.1,533.8 1138.0,510.1 1139.9,492.8 1141.7,486.6 1143.6,481.4 1145.5,491.0 1147.4,492.7 1149.9,472.4 1152.3,488.7 1154.8,532.9 1156.7,542.4 1158.6,548.3 1160.5,544.2 1162.3,535.3 1164.2,537.9 1166.1,551.6 1167.9,562.8 1169.8,533.1 1171.7,543.8 1173.6,545.1 1175.4,543.3 1177.3,524.2 1179.8,550.4 1181.7,570.7 1183.5,596.4 1185.4,597.1 1187.3,602.1 1189.2,596.5 1191.0,603.6 1192.9,595.1 1194.8,591.2 1196.7,578.6 1198.5,566.6 1201.0,548.3 1202.9,564.8 1204.8,580.7 1206.6,571.9 1208.5,571.5 1210.4,555.9 1212.3,561.9 1214.1,576.6 1216.0,573.5 1217.9,565.9 1219.7,561.9 1221.6,567.2 1223.5,571.6 1225.4,564.5 1227.2,566.3 1229.1,563.9 1231.0,562.4 1232.9,558.1 1234.7,538.7 1236.6,555.4 1238.5,557.5 1240.3,534.7 1242.2,513.5 1244.1,514.2 1246.0,504.7 1247.8,519.0 1249.7,520.3 1251.6,535.0 1253.4,550.9 1255.3,533.9 1257.2,528.2 1259.1,525.9 1260.9,527.5 1262.8,538.8 1264.7,535.1 1266.6,559.6 1268.4,553.8 1270.9,569.3 1273.4,603.4 1275.3,595.1 1277.2,599.4 1278.8,597.5 1280.5,583.7 1282.2,584.8 1284.0,585.1 1285.9,581.0 1287.8,580.7 1289.6,589.3 1291.5,583.8 1293.4,581.7" fill="none" stroke="#d5d5da" stroke-width="1.5" stroke-linejoin="round"/>
<polyline points="1049.5,626.7 1051.6,642.0 1053.7,656.2 1055.6,672.3 1057.5,666.6 1059.4,659.2 1061.2,647.2 1063.1,653.7 1065.0,650.1 1066.8,646.3 1068.7,646.9 1070.6,640.8 1072.5,643.6 1074.3,623.2 1076.2,618.6 1078.1,613.2 1080.0,626.9 1081.8,622.6 1083.7,623.3 1085.6,627.9 1087.4,632.8 1089.9,659.1 1091.8,656.8 1093.7,658.0 1095.6,681.0 1097.4,672.6 1099.3,682.3 1101.2,686.3 1103.0,687.7 1104.9,689.5 1106.6,688.2 1108.2,687.0 1109.9,686.6 1111.8,686.2 1113.7,683.5 1116.2,656.9 1118.0,656.2 1119.9,675.8 1121.6,676.3 1123.2,677.8 1124.9,675.0 1126.6,666.6 1128.2,668.2 1129.9,660.5 1131.8,667.6 1133.6,644.8 1135.5,667.8 1137.4,686.2 1139.2,665.7 1141.1,665.7 1143.0,654.0 1144.9,642.5 1146.7,645.4 1148.6,646.8 1150.5,657.0 1152.3,661.3 1154.2,667.1 1156.1,673.9 1158.0,671.9 1159.8,671.4 1161.7,675.9 1163.6,672.6 1165.5,671.6 1167.3,679.7 1169.2,664.3 1171.1,667.6 1172.9,669.7 1174.8,671.1 1176.7,672.4 1178.6,680.4 1180.4,678.0 1182.3,666.7 1184.2,685.7 1186.0,684.3 1187.9,687.5 1189.8,676.5 1191.7,674.9 1193.5,668.6 1195.4,690.4 1197.3,672.9 1199.2,665.4 1201.0,641.9 1202.9,646.0 1204.8,639.1 1206.4,643.6 1208.1,646.9 1209.8,656.0 1211.6,667.9 1213.5,679.9 1215.4,671.7 1217.2,657.8 1218.9,657.7 1220.6,654.3 1222.2,647.0 1224.1,655.2 1226.0,674.6 1227.9,661.5 1229.7,658.8 1231.4,656.1 1233.1,639.0 1234.7,638.3 1236.4,635.7 1238.1,638.1 1239.7,636.8 1241.6,651.1 1243.5,659.3 1245.3,668.3 1247.2,671.4 1249.1,670.5 1250.9,662.3 1252.8,669.7 1254.7,673.7 1256.6,670.1 1258.4,653.3 1260.3,670.3 1262.2,673.6 1264.1,680.3 1265.9,682.5 1267.8,682.1 1269.7,679.6 1271.5,677.1 1273.4,675.2 1275.3,673.8 1277.2,671.4 1279.0,670.4 1280.9,669.5 1282.8,665.4 1284.6,659.3 1286.5,663.2 1288.4,650.3 1290.1,643.8 1291.7,642.1 1293.4,637.1 1293.6,691.1" fill="none" stroke="#d5d5da" stroke-width="1.5" stroke-linejoin="round"/>
<polyline points="86.5,929.3 89.0,905.9 91.0,889.6 92.7,909.7 94.5,967.1 96.1,951.3 97.7,958.6 100.2,981.1 102.7,968.0 105.2,1000.1 107.7,1030.6 109.6,1041.4 111.5,1046.0 113.3,1049.9 115.2,1052.8 117.1,1062.7 118.9,1066.0 120.6,1065.5 122.3,1067.9 123.9,1071.3 125.6,1070.7 127.3,1071.5 128.9,1070.7 130.6,1073.3 132.3,1073.8 133.9,1075.3 135.8,1075.3 137.7,1074.5 139.5,1073.7 141.4,1074.1 143.3,1074.7 145.2,1074.4 147.0,1075.8 148.9,1076.5 150.8,1076.1 152.6,1074.5 154.5,1075.3 156.4,1073.2 158.1,1073.1 159.7,1068.3 161.4,1075.1 163.0,1061.2 164.7,1056.5 166.4,1043.2 168.2,1035.2 170.1,1029.3 172.0,1032.9 173.9,1026.1 175.5,1021.4 177.2,1026.4 178.9,1023.0 180.7,1031.6 182.6,1033.5 184.5,1025.7 186.3,1018.5 188.2,1001.9 190.1,981.7 192.0,945.5 193.8,911.4 196.3,893.4 198.0,890.2 199.7,887.9 201.3,874.9 203.0,875.8 204.7,883.4 206.3,869.1 208.8,867.9 211.3,885.0 213.8,919.1 216.3,935.1 218.2,929.8 220.0,909.3 222.5,877.3 225.0,902.8 226.9,902.2 228.8,911.8 230.7,909.3 232.5,921.1 234.4,916.6 236.3,920.2 238.8,960.3 240.6,967.2 242.5,974.9 244.4,987.6 246.3,990.5 248.8,998.6 251.2,1005.9 253.1,999.1 255.0,980.4 256.9,983.8 258.7,989.1 260.6,995.7 262.5,1015.7 264.4,1013.6 266.2,1009.7 268.1,1016.6 270.0,983.0 271.8,993.3 273.7,977.1 275.6,981.9 277.5,982.8 279.3,989.3 281.2,977.0 283.1,983.2 284.9,986.6 286.8,988.4 288.7,988.3 290.6,980.6 292.4,964.4 294.3,954.0 296.2,958.5 298.7,960.7 300.6,981.3 302.4,992.2 304.3,998.9 306.2,997.2 308.0,995.4 309.9,990.8 311.8,968.9 313.7,969.1 315.5,990.6 317.4,1005.7 319.3,988.5 321.1,989.3 323.0,979.9 324.9,981.2 326.8,973.6 328.6,968.4 330.5,962.2 332.4,953.7 334.9,948.8 336.7,954.9 338.6,946.5 340.5,943.2 342.4,947.6 344.2,930.6 346.1,917.7 348.6,928.7 350.5,942.2 352.3,941.0 354.2,950.3 356.1,956.8 358.0,965.0 359.8,956.9 361.7,971.1 363.6,959.2 365.5,958.4 367.3,952.4 369.2,972.9 371.1,965.6 372.9,970.0 374.8,983.4 376.7,1001.6 378.6,1007.1 380.4,1001.4 382.3,982.7 384.2,983.4 386.0,970.9 387.9,979.6 389.8,957.6 391.7,952.2 393.5,958.8 395.4,962.8 397.3,972.9 399.2,974.5 401.0,974.3 403.5,965.5 405.5,961.0 407.5,964.2" fill="none" stroke="#d5d5da" stroke-width="1.5" stroke-linejoin="round"/>
<polyline points="190.1,1021.7 192.0,1035.7 193.8,1043.0 195.7,1050.5 197.6,1050.2 199.5,1044.0 201.3,1046.9 203.2,1041.5 205.1,1032.1 206.9,1049.5 208.8,1050.1 210.7,1041.6 212.6,1036.2 214.4,1032.4 216.3,1012.0 218.2,1005.7 220.0,1026.6 221.9,1026.6 223.8,1025.3 225.7,1030.6 227.5,1026.9 229.4,1027.2 231.3,1015.1 233.2,1018.8 235.0,1018.0 236.9,1020.1 238.8,1008.5 240.6,1000.2 242.5,1024.9 244.4,1030.2 246.3,1042.2 248.1,1052.7 250.0,1053.0 251.9,1056.2 253.7,1042.4 255.6,1046.8 257.5,1045.7 259.4,1046.7 261.2,1054.8 263.1,1066.7 265.0,1065.2 266.9,1053.0 268.7,1071.5 270.6,1049.7 272.5,1060.6 274.3,1059.1 276.2,1058.4 278.1,1052.2 280.0,1046.1 281.8,1053.6 283.7,1055.2 285.4,1058.7 287.0,1046.5 288.7,1044.2 290.4,1059.1 292.0,1042.5 293.7,1039.7 295.3,1043.2 297.0,1055.3 298.7,1045.9 300.6,1055.9 302.4,1059.6 304.3,1060.3 306.2,1068.4 308.0,1060.4 309.9,1060.0 311.8,1063.8 313.7,1069.8 315.5,1057.4 317.4,1052.7 319.3,1056.9 321.1,1059.5 323.0,1045.6 324.9,1031.6 326.8,1049.1 328.6,1042.6 330.5,1028.7 332.4,1024.5 334.2,1015.3 336.1,1004.5 338.0,1018.4 339.9,999.3 341.7,988.6 343.6,996.5 345.5,993.2 347.4,995.3 349.2,1003.7 351.1,1004.4 353.0,1006.6 354.8,1003.8 356.7,1006.5 358.6,1009.7 360.5,1023.4 362.3,1036.2 364.2,1034.3 366.1,1045.5 367.9,1041.3 369.8,1034.5 371.7,1035.0 373.6,1037.6 375.4,1053.0 377.3,1054.3 379.2,1057.6 381.1,1065.0 382.9,1054.1 384.8,1064.2 386.7,1052.9 388.5,1046.3 390.4,1039.2 392.3,1040.2 394.2,1039.8 396.0,1037.0 397.9,1047.4 399.8,1040.8 401.6,1046.7 403.5,1023.0 405.5,1033.6 407.5,1041.6" fill="none" stroke="#d5d5da" stroke-width="1.5" stroke-linejoin="round"/>
<polyline points="406.5,956.8 408.6,955.8 410.7,942.1 412.6,942.2 414.5,953.5 416.4,958.7 418.2,974.2 420.1,970.9 422.0,956.7 423.6,958.2 425.3,953.1 427.0,952.3 428.8,935.4 430.7,923.4 433.2,901.5 435.7,920.5 438.2,956.5 440.1,961.3 441.9,968.5 443.8,973.4 445.7,984.5 447.6,977.2 449.4,974.1 451.1,975.9 452.8,972.8 454.4,982.3 456.1,977.9 457.8,976.9 459.4,969.2 461.1,990.7 462.7,974.5 464.4,969.1 466.1,966.8 467.7,959.6 469.4,950.7 471.1,942.6 472.7,916.5 474.4,923.4 476.3,915.5 478.1,900.0 480.0,911.8 481.9,917.5 483.8,934.4 485.6,933.3 487.5,933.6 489.4,927.9 491.2,940.4 493.1,942.0 495.0,938.9 496.9,953.9 498.7,960.3 500.6,957.8 502.5,953.6 504.4,948.5 506.0,968.0 507.7,953.3 509.3,952.6 511.2,944.7 513.1,945.3 515.0,937.0 516.8,942.4 518.7,937.8 520.6,962.2 522.5,949.0 524.3,946.8 526.2,933.5 528.1,935.7 529.9,923.4 531.8,922.8 533.7,912.2 535.6,904.4 537.4,888.1 539.3,891.9 541.2,885.1 543.0,878.6 544.9,871.6 546.8,867.8 548.7,865.6 550.5,874.7 552.4,884.8 554.3,860.6 556.2,863.2 558.0,871.4 559.9,865.5 561.8,872.1 563.6,885.4 565.5,893.0 567.4,886.6 569.3,875.3 571.1,879.7 573.0,868.7 575.5,868.3 577.4,886.0 579.2,904.9 581.1,922.1 583.0,941.0 584.9,916.4 586.7,916.1 588.6,911.8 590.5,898.1 592.3,911.5 594.2,913.7 596.1,918.0 598.0,914.8 599.8,919.7 601.7,926.6 603.6,908.0 605.5,905.2 607.9,888.3 609.8,881.5 611.7,862.9 613.6,880.2 615.4,865.6 617.3,889.5 619.2,915.3 622.2,858.1 623.8,884.6 625.4,909.2 627.3,928.3 629.2,927.8 631.0,905.4 632.9,875.2 634.8,883.1 636.7,897.3 638.5,876.3 640.4,862.2 642.9,897.9 644.8,895.2 646.6,908.0 648.5,906.8 650.4,907.3 652.3,907.4 654.1,915.4 656.0,905.1 657.9,888.3 660.4,864.8 662.2,867.2 664.1,883.9 666.0,895.3 667.9,889.4 669.7,886.0 671.6,888.8 673.5,898.5 675.3,895.6 677.2,898.9 679.1,903.9 681.0,914.0 682.8,916.8 684.7,918.0 686.6,911.9 688.5,912.5 690.3,908.7 692.2,895.9 694.1,889.8 695.9,892.9 697.8,917.7 699.7,909.3 701.6,908.9 703.2,915.3 704.9,906.5 706.6,905.0 708.4,908.9 710.3,907.7 712.2,900.9 714.0,871.5 715.9,896.1 717.8,906.4 719.7,899.1 721.5,906.6 723.4,894.4 725.3,885.4 727.0,891.2 728.8,903.0 730.5,914.3" fill="none" stroke="#d5d5da" stroke-width="1.5" stroke-linejoin="round"/>
<polyline points="406.5,1041.6 408.3,1034.2 410.2,1045.4 412.0,1032.4 413.7,1023.7 415.3,1044.6 417.0,1039.3 418.6,1049.6 420.3,1050.8 422.0,1052.6 423.6,1054.8 425.3,1048.9 427.0,1047.3 428.6,1057.5 430.3,1053.2 432.0,1052.2 433.8,1037.6 435.7,1021.4 437.6,1028.8 439.5,1046.5 441.1,1056.2 442.8,1053.6 444.4,1061.5 446.3,1061.6 448.2,1061.1 450.1,1054.3 451.9,1055.7 453.8,1025.3 455.7,1041.0 457.5,1036.7 459.4,1041.9 461.3,1047.1 463.2,1049.4 465.0,1063.9 466.9,1053.4 468.8,1043.4 470.7,1035.5 472.5,1025.7 474.4,1021.1 476.3,1017.5 478.1,1024.5 480.0,1019.2 481.9,1009.3 483.8,1018.1 485.6,1014.8 487.5,1019.2 489.4,1031.6 491.2,1026.9 493.1,1024.6 495.0,1010.9 496.9,1028.9 498.7,1031.1 500.6,1048.9 502.5,1042.8 504.4,1041.0 506.2,1040.0 508.1,1035.6 510.0,1023.6 511.8,1031.8 513.7,1036.0 515.6,1013.4 517.5,1044.9 519.3,1044.8 521.2,1044.5 523.1,1048.5 524.9,1029.3 526.8,1024.9 528.7,1047.2 530.6,1050.7 532.4,1040.9 534.3,1032.5 536.2,1029.3 538.1,1020.8 539.9,1021.2 541.8,1013.3 543.7,1011.7 545.5,987.1 547.4,988.8 549.3,978.7 551.2,983.0 553.0,979.1 554.9,972.0 556.8,967.2 558.6,972.1 560.5,979.8 562.4,986.0 564.3,978.5 566.1,979.8 568.0,996.1 569.9,993.2 571.8,991.8 573.6,1016.3 575.5,1026.1 577.4,1028.7 579.2,1032.1 581.1,1046.7 583.0,1021.7 584.9,1032.9 586.7,1030.0 588.6,1031.1 590.5,1023.4 592.3,1027.4 594.2,1031.4 596.1,1026.4 598.0,1014.1 599.8,1024.0 601.7,1011.4 604.2,1027.1 606.7,1012.1 608.6,998.3 610.4,1001.5 612.3,990.0 614.2,987.4 616.1,997.3 617.9,998.4 619.8,1001.9 621.7,995.1 623.6,1014.4 625.4,982.2 627.3,991.0 629.2,986.2 631.0,987.2 632.9,984.4 634.8,975.2 636.7,994.5 638.5,997.2 640.4,992.2 642.3,1000.4 644.1,1001.0 646.0,1005.1 647.9,1004.4 649.8,1015.1 651.6,1021.7 653.5,1007.8 655.4,994.7 657.2,1014.8 659.1,1015.0 661.0,1026.3 662.9,1011.7 664.7,1013.4 666.6,1012.9 668.5,1007.3 670.4,983.2 672.2,1000.7 674.1,1006.5 676.0,1005.6 677.8,1006.0 679.7,1016.1 681.6,1017.6 683.5,1024.9 685.3,1028.6 687.2,1019.0 689.1,1016.9 690.9,1010.7 692.8,1024.4 694.7,1014.1 696.6,1005.4 698.4,1008.6 700.3,1000.4 702.2,996.0 704.1,1001.9 705.7,1003.3 707.4,1002.6 709.0,1002.0 710.7,999.0 712.4,1008.5 714.0,1000.2 715.9,1000.3 717.8,1011.3 719.7,1026.2 721.5,1050.0 723.4,1025.9 725.3,1015.8 727.0,1019.8 728.8,1013.6 730.5,1021.7" fill="none" stroke="#d5d5da" stroke-width="1.5" stroke-linejoin="round"/>
<polyline points="729.5,911.8 731.6,915.0 733.7,925.4 735.6,913.5 737.5,912.1 739.4,902.0 741.2,885.2 743.1,883.5 745.0,877.3 746.8,899.3 748.7,920.1 750.6,929.4 752.5,919.7 754.3,919.2 756.2,902.6 758.1,898.3 760.0,894.3 761.8,912.8 763.7,913.7 765.6,926.5 767.4,927.6 769.3,933.2 771.2,909.0 773.1,918.7 774.9,921.5 777.4,892.2 779.3,915.1 781.2,922.3 783.0,923.0 784.9,911.3 786.8,916.0 788.7,902.1 790.5,901.3 792.4,896.0 794.3,888.2 796.2,875.6 798.0,897.0 799.9,937.7 801.8,932.6 803.6,966.8 805.5,966.5 807.4,966.9 809.3,954.0 811.1,946.1 813.0,933.2 814.9,926.1 816.7,920.7 818.6,896.9 821.1,885.9 823.0,885.4 824.9,883.8 826.7,883.4 828.6,878.5 830.5,901.9 832.3,935.3 834.2,922.8 836.1,900.5 838.0,906.8 839.8,899.9 841.7,901.0 843.6,903.9 845.5,895.6 847.3,894.6 849.2,896.3 851.1,896.2 852.9,896.5 854.8,901.3 856.7,902.1 858.6,904.8 860.4,908.2 862.3,909.6 864.2,907.7 866.0,921.3 867.9,915.9 869.8,921.7 871.7,928.0 873.5,926.1 875.4,913.5 877.3,899.3 879.2,900.5 881.0,893.0 882.9,905.6 884.8,914.1 886.6,928.7 888.5,917.5 890.4,920.6 892.3,927.8 894.1,920.2 896.0,910.9 897.9,920.5 899.7,916.9 901.6,909.2 903.5,899.7 905.4,894.1 907.2,893.2 909.1,890.7 911.0,892.3 912.9,905.1 914.7,916.3 916.6,906.1 918.5,913.1 921.0,884.8 922.8,912.1 924.7,944.1 926.6,945.0 928.5,932.1 930.3,951.3 932.2,939.4 934.1,934.1 935.9,937.2 937.8,903.8 939.7,871.4 942.2,868.9 944.7,868.8 946.6,882.6 948.4,912.8 950.3,916.0 952.2,916.8 954.0,908.1 955.9,906.0 957.8,905.2 959.7,906.5 961.5,914.9 963.4,906.8 965.3,894.4 967.1,898.5 969.0,896.8 970.9,899.9 972.8,909.2 974.6,922.4 976.5,910.6 978.4,913.8 980.2,900.8 982.1,900.8 984.0,883.3 985.9,867.6 987.7,865.7 989.6,854.4 992.1,866.6 994.6,882.0 996.5,887.3 998.3,895.1 1000.2,901.7 1002.1,901.7 1004.0,897.3 1005.8,901.6 1007.7,897.5 1009.6,909.2 1011.5,898.4 1013.3,902.9 1015.2,896.6 1017.1,905.0 1018.9,893.4 1020.8,883.1 1022.7,894.9 1024.6,878.5 1026.4,875.0 1028.3,867.1 1030.2,875.2 1032.0,896.2 1033.9,878.8 1035.8,878.3 1037.7,881.1 1039.5,883.2 1041.4,900.7 1043.3,890.6 1045.2,882.8 1047.0,892.7 1048.9,880.2 1050.8,888.5 1053.5,886.9" fill="none" stroke="#d5d5da" stroke-width="1.5" stroke-linejoin="round"/>
<polyline points="729.5,1041.6 731.6,1043.5 733.7,1041.3 735.6,1018.4 737.5,998.5 739.4,1000.8 741.2,1004.5 743.1,1013.2 745.0,1012.3 746.8,1014.2 748.7,1012.1 750.6,1002.1 752.5,998.2 754.3,999.3 756.2,988.3 758.1,984.4 760.0,985.5 761.8,1002.5 763.7,1016.6 765.6,1008.5 767.4,1009.7 769.3,1005.9 771.2,998.7 773.1,1002.0 774.9,998.8 776.8,999.8 778.7,1001.8 780.5,1012.5 782.4,1017.2 784.3,1043.3 786.2,1054.4 788.7,1041.8 790.5,1035.4 792.4,1035.2 794.3,1047.3 796.2,1043.2 798.0,1039.5 799.9,1022.5 801.8,1045.4 803.6,1039.3 805.5,1032.9 807.4,1016.0 809.3,1010.3 811.1,997.7 813.0,1004.6 814.9,1012.2 816.7,1009.6 818.6,1009.6 820.5,1015.1 822.4,1024.2 824.2,1016.0 826.1,1021.2 828.0,1007.6 829.9,994.6 831.7,997.7 833.6,1006.1 835.5,1008.1 837.3,1014.5 839.2,1021.3 841.1,1025.9 843.0,1035.1 844.8,1053.0 846.7,1033.3 848.6,1035.9 850.4,1037.9 852.3,1037.4 854.2,1046.0 856.1,1038.8 857.9,1031.2 859.8,1021.0 861.7,1014.1 863.5,1001.6 865.4,1009.2 867.3,1014.9 869.2,992.5 871.0,1005.8 872.9,1001.6 874.8,987.1 876.7,1002.9 878.5,1002.0 880.4,1000.0 882.3,1004.3 884.1,1006.2 886.0,1006.1 887.9,1000.7 889.8,994.4 891.6,993.9 893.5,998.3 895.4,1002.2 897.2,1002.6 899.1,992.2 901.0,993.3 902.9,982.6 904.7,983.6 906.6,978.0 908.5,974.5 910.4,971.4 912.2,977.5 914.1,974.3 916.0,977.0 917.8,980.4 919.7,979.0 921.6,974.8 923.5,977.7 925.3,985.6 927.2,995.4 929.7,1008.6 931.6,989.9 933.4,971.4 935.3,959.8 937.2,967.8 939.1,961.7 940.9,961.9 942.8,971.5 944.7,967.9 946.6,965.6 948.4,968.1 950.3,975.7 952.2,977.9 954.0,993.3 955.9,999.8 958.4,1020.3 960.3,1002.1 962.2,1017.8 964.0,1010.6 965.9,1003.1 967.8,1005.0 969.6,1002.1 971.5,1022.7 973.4,1037.0 975.3,1047.5 977.1,1028.3 979.0,1030.0 980.9,1029.4 982.7,1016.8 984.6,1025.7 986.5,1024.1 988.4,1013.2 990.2,1011.6 992.1,1024.8 994.0,1007.1 995.9,1003.7 997.7,997.7 999.6,1002.4 1001.5,1000.5 1003.3,1002.1 1005.2,1010.0 1007.1,1007.1 1009.0,1002.5 1010.8,1015.3 1012.7,1008.3 1014.6,1002.3 1016.4,1006.6 1018.3,997.7 1020.2,1000.6 1022.1,1001.3 1023.9,995.3 1025.8,990.0 1027.7,986.3 1029.6,998.7 1031.4,998.8 1033.3,996.5 1035.2,995.6 1037.0,992.1 1038.9,992.5 1040.8,983.3 1042.7,991.9 1044.5,993.5 1046.4,1008.0 1048.3,988.7 1050.0,990.9 1051.8,985.5 1053.5,981.7" fill="none" stroke="#d5d5da" stroke-width="1.5" stroke-linejoin="round"/>
<polyline points="1052.5,886.9 1055.5,891.6 1058.0,873.6 1060.5,871.7 1063.0,929.4 1065.5,883.8 1068.0,885.9 1069.8,887.8 1071.7,897.5 1074.2,884.7 1076.1,879.8 1078.0,871.7 1079.8,884.7 1081.7,880.6 1083.6,896.9 1085.5,895.2 1087.9,879.3 1090.4,856.2 1092.3,870.3 1094.2,871.9 1096.7,901.9 1099.2,959.9 1100.4,896.5 1102.9,937.6 1105.4,937.4 1107.9,968.5 1110.4,969.3 1112.9,949.5 1115.4,974.3 1117.3,958.4 1119.2,943.8 1121.6,949.5 1124.1,1000.2 1126.0,1006.3 1127.9,1014.6 1130.4,1019.5 1132.9,1009.5 1135.4,1004.0 1137.2,1017.4 1139.1,1031.2 1141.0,1042.5 1142.9,1064.6 1144.7,1062.7 1146.6,1070.3 1148.5,1053.6 1150.4,1044.8 1152.2,1047.5 1154.1,1045.1 1156.0,1036.4 1157.8,1042.6 1159.7,1032.0 1161.6,1047.0 1163.5,1037.2 1165.3,1059.0 1167.2,1044.4 1169.1,1031.1 1170.9,1031.2 1172.8,1018.6 1175.3,1034.9 1177.2,1043.5 1179.1,1046.3 1180.9,1047.8 1182.8,1047.4 1184.7,1061.5 1186.5,1057.5 1188.4,1069.6 1190.3,1070.6 1192.2,1068.8 1194.0,1074.4 1195.9,1048.3 1197.8,1040.0 1199.7,1055.9 1201.5,1059.6 1203.4,1057.5 1205.3,1048.1 1207.1,1048.7 1209.0,1061.2 1210.9,1046.0 1212.8,1037.8 1214.6,1034.0 1216.5,1027.2 1218.4,1001.4 1220.2,999.5 1222.1,991.0 1224.0,990.6 1225.9,994.0 1227.7,997.2 1230.2,1019.5 1232.7,1032.2 1235.2,1056.1 1237.1,1061.0 1239.0,1071.5 1240.8,1072.0 1242.7,1074.8 1244.4,1074.5 1246.0,1075.4 1247.7,1076.8 1249.4,1078.9 1251.0,1078.5 1252.7,1078.9 1254.5,1078.9 1256.3,1078.8 1258.0,1078.5 1259.8,1078.9 1261.6,1078.9 1263.4,1078.9 1265.2,1078.9 1266.8,1078.9 1268.5,1078.9 1270.2,1078.2 1271.8,1078.9 1273.5,1078.9 1275.2,1078.9 1276.8,1078.9 1278.5,1078.9 1280.2,1078.7 1281.8,1078.9 1283.5,1078.9 1285.2,1077.3 1286.8,1078.9 1288.5,1078.9 1290.1,1077.9 1291.8,1078.9 1293.5,1077.6 1295.1,1079.1" fill="none" stroke="#d5d5da" stroke-width="1.5" stroke-linejoin="round"/>
<polyline points="1052.5,956.8 1055.5,1015.0 1058.0,986.9 1059.9,984.5 1061.7,984.7 1063.6,995.1 1065.5,1020.0 1068.0,1044.0 1069.8,1038.7 1071.7,1043.4 1073.6,1037.0 1075.5,1034.7 1077.3,1048.6 1079.2,1048.2 1081.1,1035.0 1083.0,1021.7 1084.8,1040.0 1086.7,1037.3 1088.6,1042.0 1090.4,1028.8 1092.3,1041.2 1094.2,1032.7 1096.1,1057.3 1097.9,1057.9 1099.8,1041.8 1101.7,1029.4 1103.5,1037.8 1105.4,1037.5 1107.3,1038.9 1109.2,1048.6 1111.0,1061.0 1112.9,1069.0 1114.8,1051.5 1116.7,1043.9 1118.5,1040.7 1120.4,1062.5 1122.3,1063.6 1124.1,1064.1 1126.0,1058.7 1127.9,1050.2 1129.8,1053.8 1131.6,1044.9 1133.5,1052.5 1135.4,1036.6" fill="none" stroke="#d5d5da" stroke-width="1.5" stroke-linejoin="round"/>
<polyline points="137.2,222.2 139.7,223.9" fill="none" stroke="#5e9ccf" stroke-width="1.45" stroke-linejoin="round"/>
<polyline points="147.9,242.6 149.4,242.7 150.9,234.0 153.4,213.9 154.1,202.7 155.1,212.5 155.9,215.6 158.4,212.6 160.9,217.4 162.8,222.1 164.6,213.8 167.1,212.0 169.0,231.9 170.9,229.5 173.4,221.4 175.9,222.8 177.7,228.8 179.6,230.5 181.5,243.1 183.3,262.3 185.8,264.0 188.3,274.3 190.8,276.0 192.7,272.6 194.6,262.2 196.5,269.3 198.3,287.8 200.8,282.4 202.7,285.1 204.6,278.1 206.4,282.4 208.3,274.4 210.0,266.0 211.6,272.1 213.3,259.2 215.0,253.3 216.6,248.4 218.3,248.9 220.2,250.2 222.0,243.9 223.9,233.1 225.8,224.7 228.3,244.5" fill="none" stroke="#5e9ccf" stroke-width="1.45" stroke-linejoin="round"/>
<polyline points="242.0,254.0 243.9,262.7 245.8,255.6 247.4,252.4 249.1,258.3 250.7,264.2 252.6,250.0 254.5,256.6 257.0,229.9 258.9,228.8 260.7,232.7 263.2,228.9 265.2,188.7 267.0,190.2 268.8,182.1 270.7,183.2 273.2,182.3 275.7,172.3 278.2,198.0 280.7,206.6 282.4,213.7 284.0,221.3 285.7,219.2 287.6,227.5 289.4,236.4 291.2,220.3" fill="none" stroke="#5e9ccf" stroke-width="1.45" stroke-linejoin="round"/>
<polyline points="300.7,239.6 303.2,256.0 305.0,248.6 306.9,250.5 308.8,231.7 310.7,222.4 312.5,213.3 314.4,211.4 316.3,218.8 318.1,230.5 320.0,237.9 321.9,238.3 324.4,218.9 326.9,183.9 328.8,192.7 330.6,202.2 333.1,216.5 334.8,218.4 336.5,211.4 338.1,219.7 339.8,222.1 341.4,235.8 343.1,226.6 344.8,241.5 346.4,233.7 348.1,254.7 350.6,243.8 352.5,254.5 354.3,240.5 356.2,234.8 358.1,214.8 359.7,218.1 361.4,218.2 363.1,212.9 364.7,206.7 366.4,192.2 368.1,201.9 369.9,176.1 371.8,156.3 373.7,152.6 375.6,153.6 377.4,150.0 379.3,160.4 381.2,161.8 383.0,152.2 384.9,177.6 386.8,186.3 388.7,160.7 390.5,160.7 392.4,178.1 394.3,153.0 396.2,159.0 398.0,163.6 399.7,170.5 401.4,177.4 403.0,171.1" fill="none" stroke="#5e9ccf" stroke-width="1.45" stroke-linejoin="round"/>
<polyline points="403.0,172.7 404.0,173.3 405.9,175.6 407.7,161.6 409.6,160.4 411.5,171.7 413.2,173.0 414.8,170.2 416.5,166.4 418.4,170.9 420.2,176.4 421.5,167.4 422.7,177.8 425.2,151.4 427.1,172.0 429.0,186.4 430.6,183.0 432.3,184.2 434.0,188.7 435.6,168.7 437.3,173.2 438.9,171.8 440.6,180.6 442.3,172.1 443.9,186.0 445.6,171.2 447.3,167.3 448.9,179.8 450.6,191.1 452.3,173.1 453.9,168.2 455.6,190.6 457.3,197.2 458.9,188.9 460.6,197.0 462.2,206.3 463.9,201.7 465.6,206.9 467.2,201.9 468.9,188.1 470.6,192.6 472.2,201.0 473.9,185.9 475.6,182.1 477.2,184.5 478.9,184.1 480.6,203.3 482.2,198.9 483.9,201.5 485.5,198.2 487.2,200.0 488.9,200.3 490.5,188.8 492.2,188.9 493.9,204.3 495.5,198.6 497.2,194.9 498.9,205.7 500.7,199.8 502.6,197.6 504.2,190.5 505.8,176.5" fill="none" stroke="#5e9ccf" stroke-width="1.45" stroke-linejoin="round"/>
<polyline points="527.6,194.4 529.4,183.9 531.3,185.8 532.6,146.4 534.3,176.1 536.3,187.3 538.2,181.9 540.0,175.6 541.9,189.0 543.8,184.0 545.5,178.1 547.1,183.6 548.8,186.3 550.4,176.9 552.1,167.3 553.8,169.6 555.4,171.5 557.1,185.0 558.8,183.5 560.4,188.4 562.1,185.1 563.8,184.5 565.4,180.1 567.1,174.1 568.8,175.2 570.4,196.3 572.1,186.5 573.7,194.3 575.4,206.3 577.1,194.9 578.7,207.4 580.4,201.6 582.1,198.9 583.7,202.5 585.4,189.1 587.1,193.1 588.7,203.3 590.4,193.4 592.1,189.6 593.7,194.2 595.6,168.7 597.5,172.4 599.3,167.4 601.2,158.1 603.1,175.4 604.9,175.1 606.8,176.7 608.7,168.2 610.6,180.4 612.4,199.8 614.3,180.8 616.2,198.0 617.8,190.1 619.5,170.4 621.2,183.5 622.8,170.6 624.5,170.2 626.2,169.2 627.8,164.8 629.5,165.3 631.2,151.3 633.0,161.2 634.9,135.9 636.8,136.8 638.6,152.2 640.3,173.9 642.0,168.1 643.6,169.2 645.3,184.9 647.0,197.2 648.6,193.9 650.3,196.6 652.0,187.5 653.6,205.3 655.3,187.0 657.0,185.6 658.6,186.8 660.3,203.5 661.9,196.6 663.6,195.2 665.5,203.0 667.4,206.3 669.2,204.1 671.1,198.6 673.0,205.6 674.8,196.1 676.7,205.2 678.6,183.9 680.3,193.2 681.9,217.7 683.6,215.3 685.2,214.6 686.9,202.4 688.6,204.2 690.2,214.5 691.9,208.2 693.6,217.2 695.2,211.1 696.9,208.1 698.6,201.9 700.2,203.4 701.9,198.0 703.6,188.5 705.2,191.2 706.9,170.5 708.5,186.8 710.2,176.5 711.9,175.5 713.5,181.2 715.2,186.2 716.9,167.9 718.5,162.9 720.2,164.6 721.9,160.9 723.5,156.1 725.5,168.2 727.5,151.5" fill="none" stroke="#5e9ccf" stroke-width="1.45" stroke-linejoin="round"/>
<polyline points="726.5,150.8 727.9,153.1 729.3,164.7 730.7,158.7 732.6,178.8 734.5,191.7 736.4,163.9 738.2,169.7 740.1,166.1 742.0,174.0 743.8,176.7 745.7,178.5 747.6,181.5 749.5,186.6 751.1,191.6 752.8,190.0 754.5,188.6 756.3,185.8 758.2,206.8 760.1,218.0 761.9,210.1 763.8,216.1 765.7,220.7 767.6,208.6 769.4,189.3 771.3,201.2 773.2,205.7 775.1,193.8 776.9,205.1 778.8,197.1 780.7,175.8 782.5,177.7 784.4,175.0 785.9,174.6 787.4,178.7 788.9,164.6 790.3,171.2 791.7,170.5 793.2,178.0 795.0,192.2 796.9,191.5 798.8,200.5 800.6,199.2 802.5,200.6 804.4,215.3 806.3,209.3 808.1,219.1 810.0,206.5 811.9,221.2 813.7,216.3 815.6,207.9 817.3,215.2 818.9,201.7 820.6,199.8 822.5,194.2 824.4,188.2 826.9,188.9 828.7,193.8 830.6,183.7 832.5,200.1 834.3,197.5 836.2,199.1 838.1,215.8 840.0,221.2 841.8,235.3 843.7,222.4 845.6,228.8 847.4,222.0 849.3,223.1 851.2,203.1 853.1,212.9 854.9,200.7 856.8,177.7 858.7,184.2 860.5,202.6 862.4,213.5 864.3,214.2 866.2,222.6 868.0,215.4 869.9,206.7 871.8,217.0 873.7,206.8 875.5,186.4 877.4,190.5 879.3,169.9 881.1,193.9 883.0,206.5 884.9,208.5 886.8,200.9 888.6,185.4 890.5,184.8 892.4,200.4 894.2,194.4 895.9,194.9 897.6,177.8 899.2,191.4 900.9,186.2 902.6,193.3 904.2,176.4 905.9,178.5 907.6,191.2 909.2,189.8 910.9,196.0 912.6,200.4 914.2,194.6 915.9,189.4 917.5,191.6 919.2,191.4 920.9,191.6 922.5,192.0 924.2,193.6 926.1,187.3 927.9,203.4 930.4,187.2 932.3,187.4 934.2,187.1 936.1,190.5 937.9,186.9 940.4,189.6 942.9,179.1 944.8,186.2 946.7,162.9 948.3,180.2 950.0,174.8 951.7,166.1 953.3,159.9 955.0,170.7 956.7,170.1 958.5,172.2 960.4,176.7 962.3,181.0 964.1,178.2 965.8,181.9 967.5,186.1 969.1,182.6 971.0,180.3 972.9,170.8 975.4,200.1 977.2,189.4 979.1,202.6 980.8,201.8 982.5,183.2 984.1,186.8 985.8,177.1 987.4,182.6 989.1,170.0 990.8,175.2 992.4,167.4 994.1,158.0 995.6,170.1 997.1,168.5 998.6,153.2 1000.1,182.2 1001.6,183.9 1003.5,189.4 1005.3,199.5 1007.2,210.0 1009.1,193.4 1010.7,196.7 1012.4,207.3 1014.1,184.4 1015.7,211.0 1017.4,214.1 1019.1,213.5 1020.7,208.6 1022.4,210.3 1024.1,216.8 1025.9,205.0 1027.8,214.7 1029.7,206.2 1031.5,217.2 1033.4,208.6 1035.3,193.0 1037.0,196.6 1038.6,208.3 1040.3,208.7 1042.2,189.4 1044.0,189.0 1045.9,202.1 1047.8,202.2 1050.5,190.2" fill="none" stroke="#5e9ccf" stroke-width="1.45" stroke-linejoin="round"/>
<polyline points="1049.5,194.6 1050.9,181.0 1052.3,176.3 1053.7,181.6 1055.6,180.1 1057.5,193.6 1059.2,177.3 1060.8,184.9 1062.5,182.5 1064.1,172.7 1065.8,180.8 1067.5,172.8 1069.1,180.6 1070.8,167.4 1072.5,155.3 1074.3,177.0 1076.2,168.4 1078.1,161.2 1080.0,154.1 1081.8,165.3 1083.7,140.2 1085.3,142.6 1086.9,126.2 1088.4,143.8 1089.9,147.4 1091.4,160.1 1092.9,157.9 1095.4,191.9 1097.9,218.7 1099.6,222.8 1101.2,231.4 1103.0,230.5 1104.9,235.3 1106.8,240.3 1108.7,246.7 1110.5,243.2 1112.4,252.1 1114.3,248.6 1116.2,233.6 1118.0,233.2 1119.9,232.3 1121.8,217.1 1123.6,204.5 1125.3,199.8 1126.9,210.1 1128.4,220.6 1129.9,217.0 1131.8,227.5 1133.6,238.6 1135.5,249.6 1137.4,237.4 1139.2,246.8 1141.1,236.1 1143.0,230.1 1144.9,234.6 1146.7,228.2 1148.6,235.6 1150.5,229.3 1152.3,235.7 1154.2,241.5 1156.1,245.0 1157.8,243.8 1159.4,225.7 1161.1,219.3 1163.0,241.2 1164.8,249.1 1166.5,255.6 1168.2,254.0 1169.8,247.3 1171.5,262.1 1173.1,233.2 1174.8,231.0 1176.7,249.4 1178.6,241.6 1180.4,251.9 1182.3,242.0 1184.2,231.0 1186.0,233.0 1187.9,242.3 1189.8,236.2 1191.7,224.5 1193.5,241.5 1195.4,255.1 1197.3,253.3 1199.2,256.0 1201.0,244.6 1202.9,263.9 1204.8,261.1 1206.6,275.0 1208.5,241.9 1210.4,255.1 1212.3,260.4 1214.1,279.8 1216.0,280.7 1217.9,278.3 1219.7,278.6 1221.6,271.5 1223.5,285.8 1225.4,283.9 1227.2,279.7 1228.7,272.9 1230.2,270.6 1231.9,250.8 1233.5,209.3 1235.3,200.0 1237.2,192.2 1239.1,221.2 1241.0,222.5 1242.8,241.4 1244.7,253.2 1246.6,260.3 1248.5,276.7 1250.3,287.3 1252.2,294.0 1254.1,297.4 1255.9,303.1 1257.8,303.2 1259.7,305.6 1261.3,304.9 1263.0,303.5 1264.7,305.0 1266.3,304.3 1268.0,304.8 1269.7,302.3 1271.3,304.2 1273.0,302.3 1274.7,303.5 1276.3,300.4 1278.0,300.5 1279.7,297.2 1282.2,278.5 1284.6,275.3 1287.1,289.6 1289.0,296.6 1290.9,304.7 1292.5,304.2 1294.1,304.9" fill="none" stroke="#5e9ccf" stroke-width="1.45" stroke-linejoin="round"/>
<polyline points="88.0,573.3 90.5,591.7 93.0,583.9" fill="none" stroke="#5e9ccf" stroke-width="1.45" stroke-linejoin="round"/>
<polyline points="118.4,572.6 120.4,577.8" fill="none" stroke="#5e9ccf" stroke-width="1.45" stroke-linejoin="round"/>
<polyline points="142.2,573.7 144.0,571.8 145.9,571.5 148.4,573.4 150.3,572.4 152.1,573.3 154.6,571.3 157.1,558.6 159.6,555.0" fill="none" stroke="#5e9ccf" stroke-width="1.45" stroke-linejoin="round"/>
<polyline points="167.1,521.2 169.6,521.2 171.5,524.2 173.4,531.1 175.4,535.5" fill="none" stroke="#5e9ccf" stroke-width="1.45" stroke-linejoin="round"/>
<polyline points="192.1,581.3 194.6,582.1 197.1,586.2" fill="none" stroke="#5e9ccf" stroke-width="1.45" stroke-linejoin="round"/>
<polyline points="204.6,628.2 207.1,626.9 208.9,620.7 210.8,610.7 213.3,625.3 215.2,642.7 217.0,641.4 218.9,644.9 220.8,647.4 222.7,650.5 224.5,651.1 226.4,645.6 228.3,646.6 230.8,626.8 233.3,621.2 235.1,621.9 237.0,619.5 239.5,616.0 242.0,562.0 244.5,546.6 247.0,539.5 248.9,557.3 250.7,555.5 253.2,577.0 255.7,569.0 258.2,588.9 260.7,604.0 263.2,604.8" fill="none" stroke="#5e9ccf" stroke-width="1.45" stroke-linejoin="round"/>
<polyline points="265.7,558.1 268.2,551.1 270.7,551.8 272.6,543.1 274.5,551.7 276.3,543.7 278.2,540.5 280.1,540.2 281.9,541.2 284.4,528.6 286.3,520.1 288.2,520.7 290.1,525.3 291.9,521.1 293.8,522.5 295.7,517.7" fill="none" stroke="#5e9ccf" stroke-width="1.45" stroke-linejoin="round"/>
<polyline points="305.2,536.2 306.9,532.3" fill="none" stroke="#5e9ccf" stroke-width="1.45" stroke-linejoin="round"/>
<polyline points="315.6,539.3 317.5,534.1 319.4,537.7 321.9,547.9" fill="none" stroke="#5e9ccf" stroke-width="1.45" stroke-linejoin="round"/>
<polyline points="326.9,556.4 328.8,565.7 330.6,574.8 332.3,578.2 334.0,585.5 335.6,577.4 337.3,586.0 338.9,580.0 340.6,589.9 342.5,592.6 344.4,589.4 346.9,576.5 348.7,580.7 350.6,581.1 352.5,569.0 354.3,564.2 356.2,550.1 358.1,531.4 360.6,534.2 362.5,536.3 364.3,544.8 366.2,548.6 368.1,553.8 369.9,550.1 371.8,538.6 373.7,539.2 375.6,531.0 377.4,535.9 379.3,545.5 381.2,551.8 383.0,539.7 384.9,540.8 386.8,538.5 388.7,538.8 390.5,531.8 393.0,526.8 395.5,543.1 397.4,556.8 399.3,557.4 401.0,561.6 402.8,556.1 404.5,562.8" fill="none" stroke="#5e9ccf" stroke-width="1.45" stroke-linejoin="round"/>
<polyline points="263.2,586.7 263.7,636.7 264.7,571.8" fill="none" stroke="#5e9ccf" stroke-width="1.1" stroke-linejoin="round"/>
<polyline points="273.2,571.8 273.7,654.1 274.5,586.7" fill="none" stroke="#5e9ccf" stroke-width="1.1" stroke-linejoin="round"/>
<polyline points="138.4,599.2 140.9,581.7 143.4,571.8" fill="none" stroke="#5e9ccf" stroke-width="1.1" stroke-linejoin="round"/>
<polyline points="199.6,601.7 203.3,626.7" fill="none" stroke="#5e9ccf" stroke-width="1.1" stroke-linejoin="round"/>
<polyline points="311.9,576.8 315.1,621.7 316.9,551.8" fill="none" stroke="#5e9ccf" stroke-width="1.1" stroke-linejoin="round"/>
<polyline points="175.9,541.8 176.4,561.8" fill="none" stroke="#5e9ccf" stroke-width="1.1" stroke-linejoin="round"/>
<polyline points="405.2,572.1 407.1,572.0 409.0,568.7 410.7,563.7 412.3,563.4 414.0,560.7 416.5,577.5 419.0,599.5 420.8,611.0 422.7,618.1 425.2,615.9 427.1,600.1 429.0,603.3 430.8,582.6 432.7,575.8 435.2,587.1 437.1,594.5 438.9,597.9 440.8,600.7 442.7,591.7 444.6,606.6 446.4,605.4 448.3,602.2 450.2,598.7 452.1,593.2 453.9,595.2 455.8,590.2 457.7,584.1 460.2,577.4 462.0,593.9 463.9,596.5 465.8,606.2 467.7,605.1 469.5,613.0 471.4,622.5 473.3,614.0 475.1,617.9 477.0,606.4 478.9,610.9 480.8,611.7 482.6,606.8 484.5,609.0 486.4,623.3 488.2,611.6 490.1,611.6 492.0,601.8 493.9,603.8 495.7,585.7 497.6,598.2 499.5,592.2 501.4,577.9 503.2,570.1 505.1,566.5 507.0,568.5 508.8,561.6 510.7,560.2 512.6,560.4 514.5,550.4 516.3,529.4 518.2,534.0 520.1,541.9 521.9,536.0 523.8,538.2 526.3,552.7 528.8,574.4 531.3,570.2 533.8,560.1 535.7,563.9 537.5,564.6 539.4,557.4 541.3,554.2 543.2,554.7 545.0,545.7 546.9,565.0 548.8,530.1 550.7,538.2 552.5,548.9 554.4,552.1 556.3,549.1 558.1,538.1 560.0,532.1 561.9,537.6 563.8,547.5 565.6,554.9 567.5,553.0 569.4,562.0 571.2,545.2 573.1,540.6 575.0,558.7 576.9,536.8 578.7,547.4 580.6,549.5 582.5,556.0 584.4,541.9 586.2,542.1 588.1,554.1 590.0,537.8 591.8,544.5 593.7,556.6 595.6,541.3 597.5,550.6 599.3,543.2 601.2,527.7 603.1,531.1 604.9,541.0 606.8,542.1 608.7,554.9 610.6,541.8 612.4,550.9 614.3,535.1 616.2,545.0 618.1,528.8 619.9,540.2 622.4,553.6 624.9,528.6 627.4,573.2 629.9,581.2 631.8,568.2 633.7,576.0 635.5,575.3 637.4,561.4 639.3,565.4 641.1,564.8 643.0,549.5 644.9,568.2 646.8,568.0 648.6,550.6 650.5,569.4 652.4,571.0 653.8,573.2 655.2,561.0 656.6,557.5 657.6,523.0 658.4,514.7 660.4,497.4 662.4,519.8 664.2,506.7 666.1,500.4 668.0,513.0 669.9,510.5 671.7,521.9 673.6,499.9 676.1,535.1 678.6,559.2 680.3,558.7 682.1,537.2 682.3,552.6 684.2,557.9 686.1,569.6 687.9,549.3 689.8,567.9 691.7,558.2 693.6,543.7 695.4,568.0 697.3,563.9 699.2,566.6 701.1,569.9 702.9,570.7 704.8,549.2 706.7,559.6 708.5,554.2 710.4,560.4 712.3,551.2 714.2,562.9 716.0,583.2 717.9,576.8 719.8,595.8 721.6,596.6 723.5,610.6 725.5,600.7 727.5,612.0" fill="none" stroke="#5e9ccf" stroke-width="1.45" stroke-linejoin="round"/>
<polyline points="726.5,607.9 727.0,634.7 728.9,609.4 730.7,591.2 732.6,584.9 734.5,587.7 736.4,578.0 738.2,583.9 740.1,584.4 742.0,570.1 743.8,587.9 745.7,593.8 747.6,567.1 749.5,542.1 751.3,559.8 753.2,560.9 755.1,540.8 757.0,536.6 758.8,558.5 760.7,552.4 762.6,553.7 764.4,555.2 766.3,559.3 768.2,564.6 770.1,576.0 771.9,576.2 773.8,558.6 775.7,549.5 777.5,557.1 779.4,576.8 781.3,585.6 783.2,595.0 785.7,589.8 787.5,588.2 789.4,596.8 791.3,579.9 793.2,578.3 795.0,578.6 796.9,570.2 798.8,577.5 800.6,570.5 802.5,568.8 804.4,565.3 806.3,539.0 808.1,543.4 810.0,557.4 811.9,554.5 813.7,546.8 815.6,532.8 817.5,535.6 819.4,536.9 821.2,536.9 823.1,533.4 825.0,535.4 826.9,518.7 829.3,562.7 831.8,581.8 833.7,570.4 835.6,576.0 837.5,575.3 839.3,567.6 841.2,553.9 843.1,567.2 844.9,551.8 846.8,573.1 848.7,579.2 850.6,561.9 852.4,574.2 854.3,578.1 856.2,564.1 858.1,565.7 859.9,594.8 861.8,577.7 863.7,589.2 865.5,571.7 867.4,579.6 869.3,597.4 871.2,579.5 873.0,574.9 874.9,576.1 876.8,584.4 878.3,605.2 879.8,595.3 881.8,593.2 883.6,586.0 885.5,560.5 887.4,564.3 889.3,541.2 891.1,569.8 893.0,588.6 894.9,601.8 896.7,589.8 898.6,600.1 900.5,601.7 902.4,588.5 904.2,569.9 906.1,586.4 908.0,596.2 909.9,585.1 911.7,580.8 913.6,603.6 915.5,592.2 917.3,599.9 919.2,585.5 921.1,586.0 923.0,596.4 924.8,570.8 926.7,567.2 928.6,555.3 930.4,563.5 932.3,565.7 934.2,567.6 936.1,558.9 937.9,552.8 939.8,550.9 941.7,559.5 943.6,560.3 945.4,540.6 947.3,557.7 949.2,541.3 951.7,558.4 953.5,573.3 955.4,558.6 957.3,570.2 959.2,586.5 961.0,577.9 962.9,591.4 964.8,596.2 966.6,586.8 968.5,567.7 970.4,548.1 972.3,546.4 974.1,541.0 976.0,550.3 977.9,559.3 979.7,548.0 981.6,567.7 983.5,566.5 985.4,572.6 987.2,552.3 989.1,553.4 991.0,540.4 992.9,540.0 995.3,529.9 997.2,551.8 999.1,566.0 1001.0,575.5 1002.8,578.4 1004.7,591.1 1006.6,592.2 1008.5,588.2 1010.3,587.1 1012.2,597.6 1014.1,595.6 1015.9,592.5 1017.8,594.6 1019.7,582.6 1021.6,564.9 1023.4,555.3 1025.3,552.4 1027.2,562.2 1029.0,573.3 1030.9,550.7 1032.8,557.6 1034.7,561.1 1036.5,577.6 1038.4,567.4 1040.3,549.0 1042.2,547.9 1044.0,535.4 1045.9,563.6 1047.8,554.0 1050.5,564.6" fill="none" stroke="#5e9ccf" stroke-width="1.45" stroke-linejoin="round"/>
<polyline points="1049.5,576.2 1050.0,574.8 1051.9,574.4 1053.7,593.9 1055.6,586.9 1057.5,593.3 1059.4,590.8 1061.2,592.8 1063.1,592.8 1065.0,590.9 1066.8,589.2 1068.7,575.2 1070.6,583.3 1072.5,578.6 1074.3,577.8 1076.2,592.2 1078.1,593.2 1080.0,582.4 1081.8,591.8 1083.7,586.5" fill="none" stroke="#5e9ccf" stroke-width="1.45" stroke-linejoin="round"/>
<polyline points="1088.7,599.1 1091.2,588.8 1093.1,575.4 1094.9,587.1 1097.4,587.8 1099.3,577.0 1101.2,586.8 1103.0,592.3 1104.9,595.3 1106.8,592.4 1108.7,590.4 1110.5,590.5 1112.4,602.7 1114.3,609.6 1116.2,577.9 1118.0,587.5 1119.9,612.0 1121.8,572.9 1123.6,581.3 1126.1,627.5 1128.0,600.7 1129.9,589.7 1132.4,593.3 1134.2,580.7 1136.1,608.1 1138.6,584.9 1141.1,540.1 1143.6,550.7 1146.1,592.2 1148.6,608.6 1151.1,562.4 1153.6,602.1 1155.5,616.1 1157.3,618.3 1159.2,595.2 1161.1,610.2 1163.0,611.4 1164.8,621.8 1166.7,608.8 1168.6,625.9 1170.4,615.7 1172.3,608.4 1174.2,620.7 1176.1,615.2 1178.6,616.6 1180.4,623.5 1182.3,640.0 1184.2,636.9 1186.0,629.9 1187.9,640.1 1189.8,629.7 1191.7,630.4 1193.5,634.2 1195.4,623.6 1197.3,613.5 1199.8,576.8 1201.3,591.0 1202.8,604.5 1204.8,595.3" fill="none" stroke="#5e9ccf" stroke-width="1.45" stroke-linejoin="round"/>
<polyline points="1212.3,594.9 1214.1,617.6 1216.0,625.0 1217.9,619.3 1219.7,618.6 1221.6,622.3 1223.5,633.2 1225.4,642.0 1227.2,647.8 1229.1,630.1 1231.0,618.2 1232.9,631.7 1234.7,620.0 1236.6,614.1 1238.5,621.5 1240.3,635.8 1242.2,645.9 1244.1,650.6 1246.0,670.7 1248.5,588.1 1250.9,626.2 1253.4,639.3 1255.9,583.8 1258.4,646.5 1260.3,654.7 1262.2,662.0 1264.1,661.8 1265.9,661.2 1267.8,640.1 1269.7,632.4 1272.2,655.8 1274.0,643.4 1275.9,635.6 1277.8,652.1 1279.7,651.1 1281.5,644.7 1283.4,640.9 1285.3,636.1 1287.1,628.6 1289.0,619.7 1290.9,598.1 1292.8,602.8 1294.6,606.6" fill="none" stroke="#5e9ccf" stroke-width="1.45" stroke-linejoin="round"/>
<polyline points="1203.5,599.2 1207.3,569.3 1209.8,581.7 1212.8,601.7" fill="none" stroke="#5e9ccf" stroke-width="1.1" stroke-linejoin="round"/>
<polyline points="1231.0,631.7 1233.5,549.3 1236.0,626.7" fill="none" stroke="#5e9ccf" stroke-width="1.1" stroke-linejoin="round"/>
<polyline points="191.3,972.3 193.8,956.3 196.3,947.6 197.6,983.4 200.1,978.1 202.6,967.5 204.4,969.0 206.3,953.1 208.2,970.3 210.1,971.4 211.7,949.5 213.3,962.0 214.8,958.0 216.3,961.4 218.2,957.5 220.0,962.6 222.5,953.0 225.0,974.8 226.9,980.0 228.8,980.2 230.7,972.3 232.5,982.9 234.1,957.6 235.8,957.4 237.3,965.9 238.8,979.6 240.3,999.0 241.8,1001.0 243.4,1010.5 245.0,1021.8 246.9,1021.0 248.8,1019.9 250.6,1023.9 252.5,1028.7 254.4,1025.4 256.2,1020.7 258.1,1020.5 260.0,1021.5 261.9,1028.0 263.7,1036.5 265.6,1038.5 267.5,1052.0 269.3,1045.2 271.2,1039.7 273.1,1028.6 275.0,1023.6 276.8,1019.0 278.7,1013.3 280.6,1011.3 282.5,1014.7 284.3,1022.3 286.2,1015.1 288.1,1010.3 289.9,1008.4 291.8,1003.1 293.7,1001.7 296.2,990.5 298.7,997.0 301.2,1031.6 303.0,1034.5 304.9,1046.5 306.8,1043.8 308.7,1046.4 310.5,1041.5 312.4,1036.7 314.3,1034.0 316.2,1024.7 318.0,1030.4 319.9,1031.3 321.8,1023.7 323.6,1024.7 325.1,1016.9 326.6,1022.0 328.3,1018.2 329.9,1020.9 332.4,991.8 334.2,984.9 336.1,983.4 338.6,975.8 340.5,969.0 342.4,972.7 344.2,957.6 346.1,945.6 348.6,960.5 351.1,985.6 353.0,987.8 354.8,992.6 356.7,990.4 358.6,988.5 360.5,994.6 362.3,1008.7 364.8,1014.5 366.7,1015.4 368.6,1000.2 370.4,1007.4 372.3,1002.5 374.2,1008.1 376.1,1026.1 378.6,1039.1 380.4,1040.7 382.3,1044.7 384.2,1028.5 386.0,1011.1 387.9,1020.1 389.8,1003.8 391.7,1005.9 393.5,1004.4 395.4,1015.8 397.3,1007.9 399.2,1012.1 401.0,1011.3 402.9,1017.6 404.8,1018.1 407.5,1014.8" fill="none" stroke="#5e9ccf" stroke-width="1.45" stroke-linejoin="round"/>
<polyline points="406.5,1019.7 408.0,998.0 409.5,986.6 412.0,989.4 413.9,997.8 415.7,1010.0 417.6,1020.4 419.5,1014.6 421.4,1025.7 423.2,1006.3 425.1,1008.6 427.0,985.4 428.8,1008.9 430.7,1006.1 432.5,1020.4" fill="none" stroke="#5e9ccf" stroke-width="1.45" stroke-linejoin="round"/>
<polyline points="433.5,943.2 435.0,943.8 436.5,945.8" fill="none" stroke="#5e9ccf" stroke-width="1.45" stroke-linejoin="round"/>
<polyline points="441.9,1010.1 443.8,1030.7 445.7,1032.4 448.2,1028.6 450.1,1039.1 451.9,1014.3 453.8,1020.4 455.7,1005.7 457.5,1013.6 459.4,1002.5 461.3,1002.3 463.2,1004.8 465.0,1014.5 466.9,1036.4 468.8,1015.6 470.7,1003.6 472.5,996.2 474.4,980.0 476.3,975.2 478.1,965.1 480.0,953.3 481.9,969.8 483.8,961.6 485.6,954.9 487.5,966.1 489.4,975.4 491.2,964.2 493.1,973.2 495.0,980.6 496.9,992.3 498.7,983.4 500.6,995.4 502.5,999.8 504.4,1001.8 506.2,1007.7 508.1,1008.3 510.0,1004.8 511.8,989.7 513.7,992.3 515.6,989.0 517.5,988.7 519.3,996.3 521.2,986.7 523.1,1009.5 524.9,1008.8 526.8,1002.2 528.7,988.8 530.6,985.0 532.4,974.6 534.3,977.0 536.2,981.0 538.1,974.4 539.9,958.6 541.8,971.5 543.7,945.1 545.5,942.1 547.4,939.5 549.3,921.0 551.2,933.5 553.0,936.5 554.9,937.0 556.8,930.6 558.6,936.8 560.5,937.3 562.4,933.1 564.3,937.1 566.1,938.8 568.0,939.1 569.9,935.2 571.8,951.3 573.6,954.3 575.5,949.1 577.4,941.2 579.2,944.1 581.1,963.7 583.0,989.1 584.9,970.8 586.7,979.0 588.6,984.7 590.5,968.3 592.3,973.7 594.2,982.0 596.1,971.1 598.0,970.8 599.8,984.4 601.7,973.9 603.6,964.2 605.5,968.8 607.3,959.5 609.2,966.5 611.1,966.7 612.9,952.4 614.8,967.9 616.7,970.4 618.6,955.2 620.4,951.6 622.9,953.3 625.4,969.5" fill="none" stroke="#5e9ccf" stroke-width="1.45" stroke-linejoin="round"/>
<polyline points="639.2,946.3 641.0,946.5 642.9,931.4 644.8,946.8 646.6,949.5 648.5,961.1 650.4,961.1 652.3,951.2 654.1,957.6 656.0,952.9 657.9,959.7 659.7,944.8 661.6,954.8 663.5,936.5 665.4,929.0 667.2,962.8 669.1,964.5 671.0,944.8 672.9,970.6 674.7,956.7 676.6,965.0 678.5,967.5 680.3,959.6 682.2,951.9 684.1,960.9 686.0,960.0 687.8,964.1 689.7,953.8 691.6,960.7 693.4,949.1 695.3,963.8 697.2,957.4 699.1,957.2 700.9,949.3 702.8,951.5 704.7,949.3 706.6,950.7 708.4,947.0 710.3,952.6 712.2,949.8 714.0,957.2 715.9,949.0 717.8,969.7 719.7,959.7 721.5,955.2 723.4,942.9 725.3,949.0 727.0,949.8 728.8,950.5 730.5,954.0" fill="none" stroke="#5e9ccf" stroke-width="1.45" stroke-linejoin="round"/>
<polyline points="432.0,1021.7 433.2,919.3 434.5,936.8" fill="none" stroke="#5e9ccf" stroke-width="1.1" stroke-linejoin="round"/>
<polyline points="626.7,956.8 630.4,906.8 632.9,879.4 635.4,891.9 637.9,946.8 640.4,956.8" fill="none" stroke="#5e9ccf" stroke-width="1.1" stroke-linejoin="round"/>
<polyline points="439.5,971.7 441.4,1021.7" fill="none" stroke="#5e9ccf" stroke-width="1.1" stroke-linejoin="round"/>
<polyline points="729.5,944.1 730.9,947.0 732.3,955.9 733.7,959.7 735.6,957.6 737.5,958.6 740.0,948.2 742.5,924.9 745.0,957.0 747.5,955.6 750.0,938.7" fill="none" stroke="#5e9ccf" stroke-width="1.45" stroke-linejoin="round"/>
<polyline points="755.0,958.8 756.8,954.4 758.7,953.8 760.6,961.9 762.5,970.0 764.3,962.3 766.2,954.4 768.1,965.3 769.9,963.5 771.8,961.0 773.7,960.0 775.6,950.4 777.4,956.9" fill="none" stroke="#5e9ccf" stroke-width="1.45" stroke-linejoin="round"/>
<polyline points="782.4,946.9 784.3,950.2 786.2,964.2 788.0,953.4 789.9,967.9 791.8,953.9 793.7,946.0 796.2,965.0 797.9,986.4 799.9,1001.8 801.1,1007.0" fill="none" stroke="#5e9ccf" stroke-width="1.45" stroke-linejoin="round"/>
<polyline points="816.1,969.3 818.0,960.9 819.9,953.6 821.7,956.3 823.6,969.1 825.5,961.1 827.4,957.8 829.2,983.2 831.1,976.0 833.0,968.6 834.8,965.9 836.7,960.7 838.6,945.4 840.5,941.5 842.3,967.2" fill="none" stroke="#5e9ccf" stroke-width="1.45" stroke-linejoin="round"/>
<polyline points="847.3,933.5 849.2,937.5 851.1,935.3 852.9,939.6 854.8,954.6 856.7,973.0 858.6,973.9 860.4,971.5 862.3,961.0 864.2,964.8 866.0,973.5 867.9,970.9 869.8,961.5 871.7,962.4 873.5,972.6 875.4,965.4 877.3,967.1 879.2,964.1 881.0,963.7 882.9,953.1 884.8,967.8 886.6,966.9 888.5,965.5 890.4,959.1 892.3,957.5 894.1,966.4 896.0,964.8 897.9,962.1 899.7,965.5 902.2,966.1 904.1,945.0 906.0,938.3 907.9,933.3 909.7,920.7 911.6,924.9 913.5,920.0 916.0,938.7" fill="none" stroke="#5e9ccf" stroke-width="1.45" stroke-linejoin="round"/>
<polyline points="918.5,926.1 920.2,920.4" fill="none" stroke="#5e9ccf" stroke-width="1.45" stroke-linejoin="round"/>
<polyline points="926.0,961.1 928.5,980.1 930.9,973.8" fill="none" stroke="#5e9ccf" stroke-width="1.45" stroke-linejoin="round"/>
<polyline points="939.7,900.6 942.2,901.3 944.7,910.4 946.7,922.4" fill="none" stroke="#5e9ccf" stroke-width="1.45" stroke-linejoin="round"/>
<polyline points="953.4,929.5 955.3,939.2 957.2,944.3 959.0,945.6 960.9,938.1 962.8,953.7 964.6,953.7 966.5,963.3 968.4,971.2 970.3,969.2 972.1,974.5 974.0,960.5 975.9,950.1 977.8,965.5 979.6,967.0 981.5,949.4 983.4,956.1 985.2,962.0 987.1,949.7 989.0,958.1 990.9,970.7 992.7,959.0 994.6,964.4 996.5,955.7 998.3,963.9 1000.2,954.4 1002.1,964.1 1004.0,949.7 1005.8,954.0 1007.7,964.6 1009.6,941.5 1011.5,951.3 1013.3,962.5 1015.2,958.8 1017.1,944.2 1018.9,954.4 1020.8,945.5 1022.7,939.5 1024.6,940.2 1026.4,951.8 1028.3,938.4 1030.2,934.2 1032.0,937.2 1033.9,948.9 1035.8,956.1 1037.7,947.7 1039.5,943.2 1041.4,934.6 1043.3,932.9 1045.2,935.0 1047.0,945.4 1048.9,943.2 1050.8,945.4 1053.5,935.8" fill="none" stroke="#5e9ccf" stroke-width="1.45" stroke-linejoin="round"/>
<polyline points="738.7,921.8 741.2,891.9 743.7,936.8" fill="none" stroke="#5e9ccf" stroke-width="1.1" stroke-linejoin="round"/>
<polyline points="762.5,966.7 764.4,991.7 766.2,971.7" fill="none" stroke="#5e9ccf" stroke-width="1.1" stroke-linejoin="round"/>
<polyline points="831.1,986.7 832.8,1004.2 834.8,971.7" fill="none" stroke="#5e9ccf" stroke-width="1.1" stroke-linejoin="round"/>
<polyline points="919.7,906.8 921.0,901.8" fill="none" stroke="#5e9ccf" stroke-width="1.1" stroke-linejoin="round"/>
<polyline points="1052.5,940.6 1054.0,947.2 1055.5,951.4 1057.4,961.0 1059.2,956.1 1061.1,952.4 1063.0,959.7 1064.9,965.6 1066.7,972.1 1068.6,971.2 1070.5,972.9 1072.3,981.1 1074.2,973.5 1076.7,993.6 1078.0,968.4 1080.5,964.1 1082.3,956.2 1084.2,974.0 1086.1,951.0 1087.9,963.4 1089.8,959.9 1091.7,959.9 1093.6,957.4 1095.4,963.1 1097.3,980.8 1099.2,1005.4 1101.1,990.1 1102.9,1002.2 1104.8,1001.1 1106.7,1008.9 1108.5,1001.3 1110.4,1003.1 1112.3,1011.6 1114.2,1015.3 1116.0,1018.9 1117.9,1018.9 1119.8,1013.7 1121.6,1024.6 1123.5,1018.7 1125.4,1039.4 1127.3,1045.5 1129.1,1033.0 1131.6,1048.9" fill="none" stroke="#5e9ccf" stroke-width="1.45" stroke-linejoin="round"/>
<polyline points="1129.1,1041.6 1130.9,1059.1 1132.9,1021.7" fill="none" stroke="#5e9ccf" stroke-width="1.1" stroke-linejoin="round"/>
<rect x="81.8" y="43.9" width="283.1" height="6.8" fill="#aaa6a6"/>
<rect x="457.9" y="43.8" width="30.9" height="7.0" fill="#050505"/>
<rect x="535.7" y="43.8" width="40.9" height="7.0" fill="#050505"/>
<rect x="702.3" y="43.8" width="37.0" height="7.0" fill="#050505"/>
<rect x="833.6" y="43.8" width="40.2" height="7.0" fill="#050505"/>
<rect x="1011.0" y="43.8" width="17.2" height="7.0" fill="#050505"/>
<rect x="1053.1" y="43.8" width="16.4" height="7.0" fill="#050505"/>
<rect x="1092.1" y="43.8" width="59.6" height="7.0" fill="#050505"/>
<rect x="1244.6" y="43.8" width="29.4" height="7.0" fill="#050505"/>
<rect x="758.0" y="43.8" width="25.8" height="7.0" fill="#050505"/>
<rect x="761.3" y="43.8" width="16.7" height="7.0" fill="#ee8200"/>
<rect x="758.2" y="55.3" width="23.5" height="7.0" fill="#342a8a"/>
<rect x="1099.3" y="55.3" width="17.2" height="7.0" fill="#342a8a"/>
<rect x="413.0" y="428.1" width="102.6" height="6.8" fill="#aaa6a6"/>
<rect x="284.4" y="428.0" width="71.1" height="7.0" fill="#050505"/>
<rect x="627.9" y="428.0" width="32.9" height="7.0" fill="#050505"/>
<rect x="695.7" y="428.0" width="26.8" height="7.0" fill="#050505"/>
<rect x="841.6" y="428.0" width="36.3" height="7.0" fill="#050505"/>
<rect x="901.1" y="428.0" width="28.5" height="7.0" fill="#050505"/>
<rect x="1021.7" y="428.0" width="54.9" height="7.0" fill="#050505"/>
<rect x="904.3" y="428.0" width="21.4" height="7.0" fill="#ee8200"/>
<rect x="331.3" y="440.3" width="26.5" height="7.0" fill="#342a8a"/>
<rect x="87.7" y="813.5" width="377.2" height="6.8" fill="#aaa6a6"/>
<rect x="492.6" y="813.3" width="60.9" height="7.2" fill="#050505"/>
<rect x="991.2" y="813.3" width="82.9" height="7.2" fill="#050505"/>
<rect x="1103.0" y="813.3" width="31.6" height="7.2" fill="#050505"/>
<rect x="1113.0" y="813.3" width="17.3" height="7.2" fill="#ee8200"/>
<rect x="1103.0" y="825.4" width="27.3" height="7.2" fill="#342a8a"/>
<line x1="81.2" y1="26.6" x2="81.2" y2="307.8" stroke="#5a5a5a" stroke-width="1.7"/>
<line x1="77.0" y1="307.0" x2="1294.0" y2="307.0" stroke="#5a5a5a" stroke-width="1.8"/>
<line x1="77.0" y1="307.0" x2="81.2" y2="307.0" stroke="#1a1a1a" stroke-width="1.4"/>
<text x="73.0" y="309.9" text-anchor="end" font-size="15.2">0</text>
<line x1="77.0" y1="259.8" x2="81.2" y2="259.8" stroke="#1a1a1a" stroke-width="1.4"/>
<text x="73.0" y="263.7" text-anchor="end" font-size="15.2">0.2</text>
<line x1="77.0" y1="212.5" x2="81.2" y2="212.5" stroke="#1a1a1a" stroke-width="1.4"/>
<text x="73.0" y="216.4" text-anchor="end" font-size="15.2">0.4</text>
<line x1="77.0" y1="165.3" x2="81.2" y2="165.3" stroke="#1a1a1a" stroke-width="1.4"/>
<text x="73.0" y="169.2" text-anchor="end" font-size="15.2">0.6</text>
<line x1="77.0" y1="118.0" x2="81.2" y2="118.0" stroke="#1a1a1a" stroke-width="1.4"/>
<text x="73.0" y="121.9" text-anchor="end" font-size="15.2">0.8</text>
<line x1="77.0" y1="70.8" x2="81.2" y2="70.8" stroke="#1a1a1a" stroke-width="1.4"/>
<text x="73.0" y="74.7" text-anchor="end" font-size="15.2">1</text>
<line x1="81.3" y1="307.0" x2="81.3" y2="310.8" stroke="#1a1a1a" stroke-width="1.4"/>
<line x1="135.5" y1="307.0" x2="135.5" y2="310.8" stroke="#1a1a1a" stroke-width="1.4"/>
<line x1="189.7" y1="307.0" x2="189.7" y2="310.8" stroke="#1a1a1a" stroke-width="1.4"/>
<line x1="243.8" y1="307.0" x2="243.8" y2="310.8" stroke="#1a1a1a" stroke-width="1.4"/>
<line x1="298.0" y1="307.0" x2="298.0" y2="310.8" stroke="#1a1a1a" stroke-width="1.4"/>
<line x1="352.2" y1="307.0" x2="352.2" y2="310.8" stroke="#1a1a1a" stroke-width="1.4"/>
<line x1="406.4" y1="307.0" x2="406.4" y2="310.8" stroke="#1a1a1a" stroke-width="1.4"/>
<line x1="460.6" y1="307.0" x2="460.6" y2="310.8" stroke="#1a1a1a" stroke-width="1.4"/>
<line x1="514.7" y1="307.0" x2="514.7" y2="310.8" stroke="#1a1a1a" stroke-width="1.4"/>
<line x1="568.9" y1="307.0" x2="568.9" y2="310.8" stroke="#1a1a1a" stroke-width="1.4"/>
<line x1="623.1" y1="307.0" x2="623.1" y2="310.8" stroke="#1a1a1a" stroke-width="1.4"/>
<line x1="677.3" y1="307.0" x2="677.3" y2="310.8" stroke="#1a1a1a" stroke-width="1.4"/>
<line x1="731.5" y1="307.0" x2="731.5" y2="310.8" stroke="#1a1a1a" stroke-width="1.4"/>
<line x1="785.6" y1="307.0" x2="785.6" y2="310.8" stroke="#1a1a1a" stroke-width="1.4"/>
<line x1="839.8" y1="307.0" x2="839.8" y2="310.8" stroke="#1a1a1a" stroke-width="1.4"/>
<line x1="894.0" y1="307.0" x2="894.0" y2="310.8" stroke="#1a1a1a" stroke-width="1.4"/>
<line x1="948.2" y1="307.0" x2="948.2" y2="310.8" stroke="#1a1a1a" stroke-width="1.4"/>
<line x1="1002.4" y1="307.0" x2="1002.4" y2="310.8" stroke="#1a1a1a" stroke-width="1.4"/>
<line x1="1056.5" y1="307.0" x2="1056.5" y2="310.8" stroke="#1a1a1a" stroke-width="1.4"/>
<line x1="1110.7" y1="307.0" x2="1110.7" y2="310.8" stroke="#1a1a1a" stroke-width="1.4"/>
<line x1="1164.9" y1="307.0" x2="1164.9" y2="310.8" stroke="#1a1a1a" stroke-width="1.4"/>
<line x1="1219.1" y1="307.0" x2="1219.1" y2="310.8" stroke="#1a1a1a" stroke-width="1.4"/>
<line x1="1273.3" y1="307.0" x2="1273.3" y2="310.8" stroke="#1a1a1a" stroke-width="1.4"/>
<text x="81.3" y="330.0" text-anchor="middle" font-size="15.2">1</text>
<text x="189.7" y="330.0" text-anchor="middle" font-size="15.2">101</text>
<text x="298.0" y="330.0" text-anchor="middle" font-size="15.2">201</text>
<text x="406.4" y="330.0" text-anchor="middle" font-size="15.2">301</text>
<text x="514.7" y="330.0" text-anchor="middle" font-size="15.2">401</text>
<text x="623.1" y="330.0" text-anchor="middle" font-size="15.2">501</text>
<text x="731.5" y="330.0" text-anchor="middle" font-size="15.2">601</text>
<text x="839.8" y="330.0" text-anchor="middle" font-size="15.2">701</text>
<text x="948.2" y="330.0" text-anchor="middle" font-size="15.2">801</text>
<text x="1056.5" y="330.0" text-anchor="middle" font-size="15.2">901</text>
<text x="1170.1" y="330.0" text-anchor="middle" font-size="15.2">1001</text>
<text x="1273.3" y="330.0" text-anchor="middle" font-size="15.2">1101</text>
<text x="689.4" y="362.0" text-anchor="middle" font-size="20">Alignment position</text>
<text x="0" y="0" transform="translate(16.6,166.6) rotate(-90)" text-anchor="middle" font-size="20">Disorder disposition</text>
<text x="0.6" y="19.0" font-size="25">A</text>
<text x="31.9" y="19.0" font-size="25">NAC013/016/017</text><line x1="81.3" y1="410.7" x2="81.3" y2="692.4" stroke="#5a5a5a" stroke-width="1.7"/>
<line x1="77.1" y1="691.6" x2="1293.5" y2="691.6" stroke="#5a5a5a" stroke-width="1.8"/>
<line x1="77.1" y1="691.6" x2="81.3" y2="691.6" stroke="#1a1a1a" stroke-width="1.4"/>
<text x="73.0" y="694.5" text-anchor="end" font-size="15.2">0</text>
<line x1="77.1" y1="644.3" x2="81.3" y2="644.3" stroke="#1a1a1a" stroke-width="1.4"/>
<text x="73.0" y="648.2" text-anchor="end" font-size="15.2">0.2</text>
<line x1="77.1" y1="597.0" x2="81.3" y2="597.0" stroke="#1a1a1a" stroke-width="1.4"/>
<text x="73.0" y="600.9" text-anchor="end" font-size="15.2">0.4</text>
<line x1="77.1" y1="549.7" x2="81.3" y2="549.7" stroke="#1a1a1a" stroke-width="1.4"/>
<text x="73.0" y="553.6" text-anchor="end" font-size="15.2">0.6</text>
<line x1="77.1" y1="502.4" x2="81.3" y2="502.4" stroke="#1a1a1a" stroke-width="1.4"/>
<text x="73.0" y="506.3" text-anchor="end" font-size="15.2">0.8</text>
<line x1="77.1" y1="455.1" x2="81.3" y2="455.1" stroke="#1a1a1a" stroke-width="1.4"/>
<text x="73.0" y="459.0" text-anchor="end" font-size="15.2">1</text>
<line x1="81.4" y1="691.6" x2="81.4" y2="695.4" stroke="#1a1a1a" stroke-width="1.4"/>
<line x1="147.5" y1="691.6" x2="147.5" y2="695.4" stroke="#1a1a1a" stroke-width="1.4"/>
<line x1="213.5" y1="691.6" x2="213.5" y2="695.4" stroke="#1a1a1a" stroke-width="1.4"/>
<line x1="279.6" y1="691.6" x2="279.6" y2="695.4" stroke="#1a1a1a" stroke-width="1.4"/>
<line x1="345.7" y1="691.6" x2="345.7" y2="695.4" stroke="#1a1a1a" stroke-width="1.4"/>
<line x1="411.7" y1="691.6" x2="411.7" y2="695.4" stroke="#1a1a1a" stroke-width="1.4"/>
<line x1="477.8" y1="691.6" x2="477.8" y2="695.4" stroke="#1a1a1a" stroke-width="1.4"/>
<line x1="543.9" y1="691.6" x2="543.9" y2="695.4" stroke="#1a1a1a" stroke-width="1.4"/>
<line x1="609.9" y1="691.6" x2="609.9" y2="695.4" stroke="#1a1a1a" stroke-width="1.4"/>
<line x1="676.0" y1="691.6" x2="676.0" y2="695.4" stroke="#1a1a1a" stroke-width="1.4"/>
<line x1="742.0" y1="691.6" x2="742.0" y2="695.4" stroke="#1a1a1a" stroke-width="1.4"/>
<line x1="808.1" y1="691.6" x2="808.1" y2="695.4" stroke="#1a1a1a" stroke-width="1.4"/>
<line x1="874.2" y1="691.6" x2="874.2" y2="695.4" stroke="#1a1a1a" stroke-width="1.4"/>
<line x1="940.2" y1="691.6" x2="940.2" y2="695.4" stroke="#1a1a1a" stroke-width="1.4"/>
<line x1="1006.3" y1="691.6" x2="1006.3" y2="695.4" stroke="#1a1a1a" stroke-width="1.4"/>
<line x1="1072.4" y1="691.6" x2="1072.4" y2="695.4" stroke="#1a1a1a" stroke-width="1.4"/>
<line x1="1138.4" y1="691.6" x2="1138.4" y2="695.4" stroke="#1a1a1a" stroke-width="1.4"/>
<line x1="1204.5" y1="691.6" x2="1204.5" y2="695.4" stroke="#1a1a1a" stroke-width="1.4"/>
<line x1="1270.6" y1="691.6" x2="1270.6" y2="695.4" stroke="#1a1a1a" stroke-width="1.4"/>
<text x="81.4" y="722.0" text-anchor="middle" font-size="15.2">1</text>
<text x="213.5" y="722.0" text-anchor="middle" font-size="15.2">101</text>
<text x="345.7" y="722.0" text-anchor="middle" font-size="15.2">201</text>
<text x="477.8" y="722.0" text-anchor="middle" font-size="15.2">301</text>
<text x="609.9" y="722.0" text-anchor="middle" font-size="15.2">401</text>
<text x="742.0" y="722.0" text-anchor="middle" font-size="15.2">501</text>
<text x="874.2" y="722.0" text-anchor="middle" font-size="15.2">601</text>
<text x="1006.3" y="722.0" text-anchor="middle" font-size="15.2">701</text>
<text x="1138.4" y="722.0" text-anchor="middle" font-size="15.2">801</text>
<text x="1270.6" y="722.0" text-anchor="middle" font-size="15.2">901</text>
<text x="689.4" y="752.0" text-anchor="middle" font-size="20">Alignment position</text>
<text x="0" y="0" transform="translate(16.6,551.0) rotate(-90)" text-anchor="middle" font-size="20">Disorder disposition</text>
<text x="0.4" y="402.3" font-size="25">B</text>
<text x="31.1" y="402.3" font-size="25">DREB2</text><line x1="86.1" y1="798.2" x2="86.1" y2="1080.5" stroke="#5a5a5a" stroke-width="1.7"/>
<line x1="81.9" y1="1079.7" x2="1293.4" y2="1079.7" stroke="#5a5a5a" stroke-width="1.8"/>
<line x1="81.9" y1="1079.7" x2="86.1" y2="1079.7" stroke="#1a1a1a" stroke-width="1.4"/>
<text x="72.5" y="1082.6" text-anchor="end" font-size="15.2">0</text>
<line x1="81.9" y1="1031.9" x2="86.1" y2="1031.9" stroke="#1a1a1a" stroke-width="1.4"/>
<text x="72.5" y="1035.8" text-anchor="end" font-size="15.2">0.2</text>
<line x1="81.9" y1="984.2" x2="86.1" y2="984.2" stroke="#1a1a1a" stroke-width="1.4"/>
<text x="72.5" y="988.1" text-anchor="end" font-size="15.2">0.4</text>
<line x1="81.9" y1="936.4" x2="86.1" y2="936.4" stroke="#1a1a1a" stroke-width="1.4"/>
<text x="72.5" y="940.3" text-anchor="end" font-size="15.2">0.6</text>
<line x1="81.9" y1="888.7" x2="86.1" y2="888.7" stroke="#1a1a1a" stroke-width="1.4"/>
<text x="72.5" y="892.6" text-anchor="end" font-size="15.2">0.8</text>
<line x1="81.9" y1="840.9" x2="86.1" y2="840.9" stroke="#1a1a1a" stroke-width="1.4"/>
<text x="72.5" y="844.8" text-anchor="end" font-size="15.2">1</text>
<line x1="86.3" y1="1079.7" x2="86.3" y2="1083.5" stroke="#1a1a1a" stroke-width="1.4"/>
<line x1="157.3" y1="1079.7" x2="157.3" y2="1083.5" stroke="#1a1a1a" stroke-width="1.4"/>
<line x1="228.3" y1="1079.7" x2="228.3" y2="1083.5" stroke="#1a1a1a" stroke-width="1.4"/>
<line x1="299.4" y1="1079.7" x2="299.4" y2="1083.5" stroke="#1a1a1a" stroke-width="1.4"/>
<line x1="370.4" y1="1079.7" x2="370.4" y2="1083.5" stroke="#1a1a1a" stroke-width="1.4"/>
<line x1="441.4" y1="1079.7" x2="441.4" y2="1083.5" stroke="#1a1a1a" stroke-width="1.4"/>
<line x1="512.4" y1="1079.7" x2="512.4" y2="1083.5" stroke="#1a1a1a" stroke-width="1.4"/>
<line x1="583.4" y1="1079.7" x2="583.4" y2="1083.5" stroke="#1a1a1a" stroke-width="1.4"/>
<line x1="654.5" y1="1079.7" x2="654.5" y2="1083.5" stroke="#1a1a1a" stroke-width="1.4"/>
<line x1="725.5" y1="1079.7" x2="725.5" y2="1083.5" stroke="#1a1a1a" stroke-width="1.4"/>
<line x1="796.5" y1="1079.7" x2="796.5" y2="1083.5" stroke="#1a1a1a" stroke-width="1.4"/>
<line x1="867.5" y1="1079.7" x2="867.5" y2="1083.5" stroke="#1a1a1a" stroke-width="1.4"/>
<line x1="938.5" y1="1079.7" x2="938.5" y2="1083.5" stroke="#1a1a1a" stroke-width="1.4"/>
<line x1="1009.6" y1="1079.7" x2="1009.6" y2="1083.5" stroke="#1a1a1a" stroke-width="1.4"/>
<line x1="1080.6" y1="1079.7" x2="1080.6" y2="1083.5" stroke="#1a1a1a" stroke-width="1.4"/>
<line x1="1151.6" y1="1079.7" x2="1151.6" y2="1083.5" stroke="#1a1a1a" stroke-width="1.4"/>
<line x1="1222.6" y1="1079.7" x2="1222.6" y2="1083.5" stroke="#1a1a1a" stroke-width="1.4"/>
<line x1="1293.6" y1="1079.7" x2="1293.6" y2="1083.5" stroke="#1a1a1a" stroke-width="1.4"/>
<text x="86.3" y="1098.4" text-anchor="middle" font-size="15.2">1</text>
<text x="228.3" y="1098.4" text-anchor="middle" font-size="15.2">101</text>
<text x="370.4" y="1098.4" text-anchor="middle" font-size="15.2">201</text>
<text x="512.4" y="1098.4" text-anchor="middle" font-size="15.2">301</text>
<text x="654.5" y="1098.4" text-anchor="middle" font-size="15.2">401</text>
<text x="796.5" y="1098.4" text-anchor="middle" font-size="15.2">501</text>
<text x="938.5" y="1098.4" text-anchor="middle" font-size="15.2">601</text>
<text x="1080.6" y="1098.4" text-anchor="middle" font-size="15.2">701</text>
<text x="1222.6" y="1098.4" text-anchor="middle" font-size="15.2">801</text>
<text x="689.4" y="1129.3" text-anchor="middle" font-size="20">Alignment position</text>
<text x="0" y="0" transform="translate(16.6,938.9) rotate(-90)" text-anchor="middle" font-size="20">Disorder disposition</text>
<text x="0.2" y="790.6" font-size="25">C</text>
<text x="32.2" y="790.6" font-size="25">NAC046</text>
</svg>
</body></html>
